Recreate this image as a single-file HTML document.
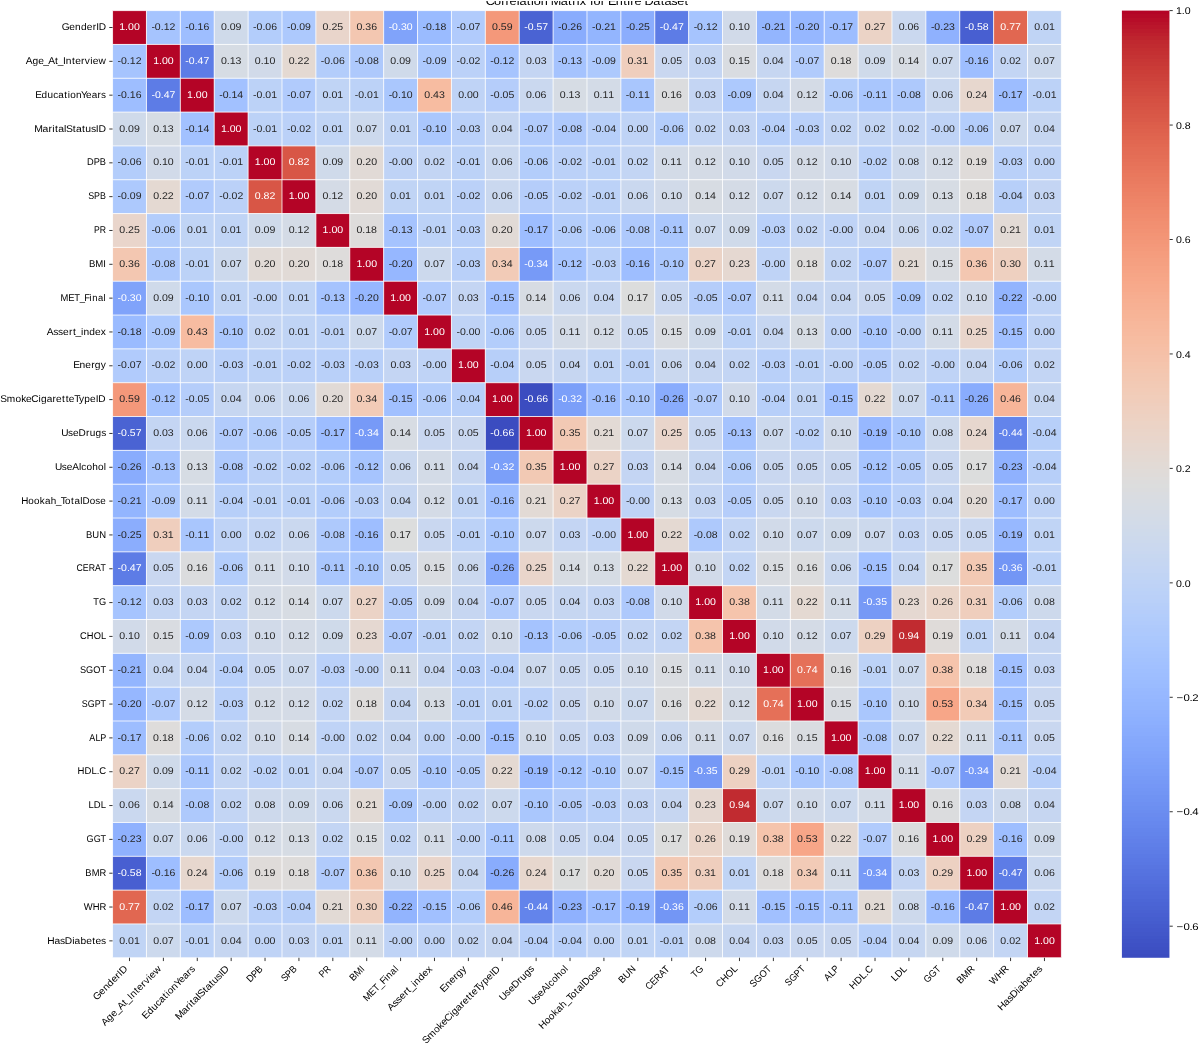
<!DOCTYPE html>
<html><head><meta charset="utf-8"><title>Correlation Matrix for Entire Dataset</title>
<style>html,body{margin:0;padding:0;background:#fff;width:1200px;height:1045px;overflow:hidden}svg{display:block;will-change:transform}</style>
</head><body>
<svg width="1200" height="1045" viewBox="0 0 1200 1045" font-family='"Liberation Sans", sans-serif' text-rendering="geometricPrecision">
<rect x="0" y="0" width="1200" height="1045" fill="#fff"/>
<text transform="translate(486.43 5.04) scale(1.0770 1)" x="-0.64 7.10 13.70 17.71 21.47 28.05 30.68 37.51 41.29 43.93 50.36 56.91 59.74 68.99 75.82 79.64 83.85 86.71 92.72 96.18 99.52 106.11 110.20 112.82 120.01 126.94 130.73 133.64 137.39 143.85 146.85 154.97 161.80 165.35 171.54 177.08 183.92" y="0" font-size="11.76" fill="#000">Correlation Matrix for Entire Dataset</text>
<rect x="0" y="0" width="1200" height="1" fill="#fff"/>
<g>
<rect x="112.55" y="10.60" width="33.89" height="33.83" fill="#b40426"/>
<rect x="146.44" y="10.60" width="33.89" height="33.83" fill="#a6c4fe"/>
<rect x="180.32" y="10.60" width="33.89" height="33.83" fill="#9ebeff"/>
<rect x="214.21" y="10.60" width="33.89" height="33.83" fill="#cfdaea"/>
<rect x="248.10" y="10.60" width="33.89" height="33.83" fill="#b3cdfb"/>
<rect x="281.99" y="10.60" width="33.89" height="33.83" fill="#adc9fd"/>
<rect x="315.88" y="10.60" width="33.89" height="33.83" fill="#e9d5cb"/>
<rect x="349.76" y="10.60" width="33.89" height="33.83" fill="#f3c7b1"/>
<rect x="383.65" y="10.60" width="33.89" height="33.83" fill="#80a3fa"/>
<rect x="417.54" y="10.60" width="33.89" height="33.83" fill="#9abbff"/>
<rect x="451.43" y="10.60" width="33.89" height="33.83" fill="#b1cbfc"/>
<rect x="485.31" y="10.60" width="33.89" height="33.83" fill="#f4987a"/>
<rect x="519.20" y="10.60" width="33.89" height="33.83" fill="#4a63d3"/>
<rect x="553.09" y="10.60" width="33.89" height="33.83" fill="#89acfd"/>
<rect x="586.98" y="10.60" width="33.89" height="33.83" fill="#93b5fe"/>
<rect x="620.86" y="10.60" width="33.89" height="33.83" fill="#8badfd"/>
<rect x="654.75" y="10.60" width="33.89" height="33.83" fill="#5d7ce6"/>
<rect x="688.64" y="10.60" width="33.89" height="33.83" fill="#a6c4fe"/>
<rect x="722.52" y="10.60" width="33.89" height="33.83" fill="#d1dae9"/>
<rect x="756.41" y="10.60" width="33.89" height="33.83" fill="#93b5fe"/>
<rect x="790.30" y="10.60" width="33.89" height="33.83" fill="#96b7ff"/>
<rect x="824.19" y="10.60" width="33.89" height="33.83" fill="#9dbdff"/>
<rect x="858.08" y="10.60" width="33.89" height="33.83" fill="#ebd3c6"/>
<rect x="891.96" y="10.60" width="33.89" height="33.83" fill="#cad8ef"/>
<rect x="925.85" y="10.60" width="33.89" height="33.83" fill="#8fb1fe"/>
<rect x="959.74" y="10.60" width="33.89" height="33.83" fill="#485fd1"/>
<rect x="993.62" y="10.60" width="33.89" height="33.83" fill="#e16751"/>
<rect x="1027.51" y="10.60" width="33.89" height="33.83" fill="#c0d4f5"/>
<rect x="112.55" y="44.43" width="33.89" height="33.83" fill="#a6c4fe"/>
<rect x="146.44" y="44.43" width="33.89" height="33.83" fill="#b40426"/>
<rect x="180.32" y="44.43" width="33.89" height="33.83" fill="#5d7ce6"/>
<rect x="214.21" y="44.43" width="33.89" height="33.83" fill="#d6dce4"/>
<rect x="248.10" y="44.43" width="33.89" height="33.83" fill="#d1dae9"/>
<rect x="281.99" y="44.43" width="33.89" height="33.83" fill="#e4d9d2"/>
<rect x="315.88" y="44.43" width="33.89" height="33.83" fill="#b3cdfb"/>
<rect x="349.76" y="44.43" width="33.89" height="33.83" fill="#aec9fc"/>
<rect x="383.65" y="44.43" width="33.89" height="33.83" fill="#cfdaea"/>
<rect x="417.54" y="44.43" width="33.89" height="33.83" fill="#adc9fd"/>
<rect x="451.43" y="44.43" width="33.89" height="33.83" fill="#bbd1f8"/>
<rect x="485.31" y="44.43" width="33.89" height="33.83" fill="#a6c4fe"/>
<rect x="519.20" y="44.43" width="33.89" height="33.83" fill="#c4d5f3"/>
<rect x="553.09" y="44.43" width="33.89" height="33.83" fill="#a5c3fe"/>
<rect x="586.98" y="44.43" width="33.89" height="33.83" fill="#adc9fd"/>
<rect x="620.86" y="44.43" width="33.89" height="33.83" fill="#efcebd"/>
<rect x="654.75" y="44.43" width="33.89" height="33.83" fill="#c9d7f0"/>
<rect x="688.64" y="44.43" width="33.89" height="33.83" fill="#c4d5f3"/>
<rect x="722.52" y="44.43" width="33.89" height="33.83" fill="#d9dce1"/>
<rect x="756.41" y="44.43" width="33.89" height="33.83" fill="#c6d6f1"/>
<rect x="790.30" y="44.43" width="33.89" height="33.83" fill="#b1cbfc"/>
<rect x="824.19" y="44.43" width="33.89" height="33.83" fill="#dedcdb"/>
<rect x="858.08" y="44.43" width="33.89" height="33.83" fill="#cfdaea"/>
<rect x="891.96" y="44.43" width="33.89" height="33.83" fill="#d7dce3"/>
<rect x="925.85" y="44.43" width="33.89" height="33.83" fill="#ccd9ed"/>
<rect x="959.74" y="44.43" width="33.89" height="33.83" fill="#9ebeff"/>
<rect x="993.62" y="44.43" width="33.89" height="33.83" fill="#c3d5f4"/>
<rect x="1027.51" y="44.43" width="33.89" height="33.83" fill="#ccd9ed"/>
<rect x="112.55" y="78.26" width="33.89" height="33.83" fill="#9ebeff"/>
<rect x="146.44" y="78.26" width="33.89" height="33.83" fill="#5d7ce6"/>
<rect x="180.32" y="78.26" width="33.89" height="33.83" fill="#b40426"/>
<rect x="214.21" y="78.26" width="33.89" height="33.83" fill="#a2c1ff"/>
<rect x="248.10" y="78.26" width="33.89" height="33.83" fill="#bcd2f7"/>
<rect x="281.99" y="78.26" width="33.89" height="33.83" fill="#b1cbfc"/>
<rect x="315.88" y="78.26" width="33.89" height="33.83" fill="#c0d4f5"/>
<rect x="349.76" y="78.26" width="33.89" height="33.83" fill="#bcd2f7"/>
<rect x="383.65" y="78.26" width="33.89" height="33.83" fill="#aac7fd"/>
<rect x="417.54" y="78.26" width="33.89" height="33.83" fill="#f7bca1"/>
<rect x="451.43" y="78.26" width="33.89" height="33.83" fill="#bfd3f6"/>
<rect x="485.31" y="78.26" width="33.89" height="33.83" fill="#b5cdfa"/>
<rect x="519.20" y="78.26" width="33.89" height="33.83" fill="#cad8ef"/>
<rect x="553.09" y="78.26" width="33.89" height="33.83" fill="#d6dce4"/>
<rect x="586.98" y="78.26" width="33.89" height="33.83" fill="#d3dbe7"/>
<rect x="620.86" y="78.26" width="33.89" height="33.83" fill="#a9c6fd"/>
<rect x="654.75" y="78.26" width="33.89" height="33.83" fill="#dbdcde"/>
<rect x="688.64" y="78.26" width="33.89" height="33.83" fill="#c4d5f3"/>
<rect x="722.52" y="78.26" width="33.89" height="33.83" fill="#adc9fd"/>
<rect x="756.41" y="78.26" width="33.89" height="33.83" fill="#c6d6f1"/>
<rect x="790.30" y="78.26" width="33.89" height="33.83" fill="#d4dbe6"/>
<rect x="824.19" y="78.26" width="33.89" height="33.83" fill="#b3cdfb"/>
<rect x="858.08" y="78.26" width="33.89" height="33.83" fill="#a9c6fd"/>
<rect x="891.96" y="78.26" width="33.89" height="33.83" fill="#aec9fc"/>
<rect x="925.85" y="78.26" width="33.89" height="33.83" fill="#cad8ef"/>
<rect x="959.74" y="78.26" width="33.89" height="33.83" fill="#e7d7ce"/>
<rect x="993.62" y="78.26" width="33.89" height="33.83" fill="#9dbdff"/>
<rect x="1027.51" y="78.26" width="33.89" height="33.83" fill="#bcd2f7"/>
<rect x="112.55" y="112.08" width="33.89" height="33.83" fill="#cfdaea"/>
<rect x="146.44" y="112.08" width="33.89" height="33.83" fill="#d6dce4"/>
<rect x="180.32" y="112.08" width="33.89" height="33.83" fill="#a2c1ff"/>
<rect x="214.21" y="112.08" width="33.89" height="33.83" fill="#b40426"/>
<rect x="248.10" y="112.08" width="33.89" height="33.83" fill="#bcd2f7"/>
<rect x="281.99" y="112.08" width="33.89" height="33.83" fill="#bbd1f8"/>
<rect x="315.88" y="112.08" width="33.89" height="33.83" fill="#c0d4f5"/>
<rect x="349.76" y="112.08" width="33.89" height="33.83" fill="#ccd9ed"/>
<rect x="383.65" y="112.08" width="33.89" height="33.83" fill="#c0d4f5"/>
<rect x="417.54" y="112.08" width="33.89" height="33.83" fill="#aac7fd"/>
<rect x="451.43" y="112.08" width="33.89" height="33.83" fill="#b9d0f9"/>
<rect x="485.31" y="112.08" width="33.89" height="33.83" fill="#c6d6f1"/>
<rect x="519.20" y="112.08" width="33.89" height="33.83" fill="#b1cbfc"/>
<rect x="553.09" y="112.08" width="33.89" height="33.83" fill="#aec9fc"/>
<rect x="586.98" y="112.08" width="33.89" height="33.83" fill="#b7cff9"/>
<rect x="620.86" y="112.08" width="33.89" height="33.83" fill="#bfd3f6"/>
<rect x="654.75" y="112.08" width="33.89" height="33.83" fill="#b3cdfb"/>
<rect x="688.64" y="112.08" width="33.89" height="33.83" fill="#c3d5f4"/>
<rect x="722.52" y="112.08" width="33.89" height="33.83" fill="#c4d5f3"/>
<rect x="756.41" y="112.08" width="33.89" height="33.83" fill="#b7cff9"/>
<rect x="790.30" y="112.08" width="33.89" height="33.83" fill="#b9d0f9"/>
<rect x="824.19" y="112.08" width="33.89" height="33.83" fill="#c3d5f4"/>
<rect x="858.08" y="112.08" width="33.89" height="33.83" fill="#c3d5f4"/>
<rect x="891.96" y="112.08" width="33.89" height="33.83" fill="#c3d5f4"/>
<rect x="925.85" y="112.08" width="33.89" height="33.83" fill="#bfd3f6"/>
<rect x="959.74" y="112.08" width="33.89" height="33.83" fill="#b3cdfb"/>
<rect x="993.62" y="112.08" width="33.89" height="33.83" fill="#ccd9ed"/>
<rect x="1027.51" y="112.08" width="33.89" height="33.83" fill="#c6d6f1"/>
<rect x="112.55" y="145.91" width="33.89" height="33.83" fill="#b3cdfb"/>
<rect x="146.44" y="145.91" width="33.89" height="33.83" fill="#d1dae9"/>
<rect x="180.32" y="145.91" width="33.89" height="33.83" fill="#bcd2f7"/>
<rect x="214.21" y="145.91" width="33.89" height="33.83" fill="#bcd2f7"/>
<rect x="248.10" y="145.91" width="33.89" height="33.83" fill="#b40426"/>
<rect x="281.99" y="145.91" width="33.89" height="33.83" fill="#d85646"/>
<rect x="315.88" y="145.91" width="33.89" height="33.83" fill="#cfdaea"/>
<rect x="349.76" y="145.91" width="33.89" height="33.83" fill="#e1dad6"/>
<rect x="383.65" y="145.91" width="33.89" height="33.83" fill="#bfd3f6"/>
<rect x="417.54" y="145.91" width="33.89" height="33.83" fill="#c3d5f4"/>
<rect x="451.43" y="145.91" width="33.89" height="33.83" fill="#bcd2f7"/>
<rect x="485.31" y="145.91" width="33.89" height="33.83" fill="#cad8ef"/>
<rect x="519.20" y="145.91" width="33.89" height="33.83" fill="#b3cdfb"/>
<rect x="553.09" y="145.91" width="33.89" height="33.83" fill="#bbd1f8"/>
<rect x="586.98" y="145.91" width="33.89" height="33.83" fill="#bcd2f7"/>
<rect x="620.86" y="145.91" width="33.89" height="33.83" fill="#c3d5f4"/>
<rect x="654.75" y="145.91" width="33.89" height="33.83" fill="#d3dbe7"/>
<rect x="688.64" y="145.91" width="33.89" height="33.83" fill="#d4dbe6"/>
<rect x="722.52" y="145.91" width="33.89" height="33.83" fill="#d1dae9"/>
<rect x="756.41" y="145.91" width="33.89" height="33.83" fill="#c9d7f0"/>
<rect x="790.30" y="145.91" width="33.89" height="33.83" fill="#d4dbe6"/>
<rect x="824.19" y="145.91" width="33.89" height="33.83" fill="#d1dae9"/>
<rect x="858.08" y="145.91" width="33.89" height="33.83" fill="#bbd1f8"/>
<rect x="891.96" y="145.91" width="33.89" height="33.83" fill="#cdd9ec"/>
<rect x="925.85" y="145.91" width="33.89" height="33.83" fill="#d4dbe6"/>
<rect x="959.74" y="145.91" width="33.89" height="33.83" fill="#dfdbd9"/>
<rect x="993.62" y="145.91" width="33.89" height="33.83" fill="#b9d0f9"/>
<rect x="1027.51" y="145.91" width="33.89" height="33.83" fill="#bfd3f6"/>
<rect x="112.55" y="179.74" width="33.89" height="33.83" fill="#adc9fd"/>
<rect x="146.44" y="179.74" width="33.89" height="33.83" fill="#e4d9d2"/>
<rect x="180.32" y="179.74" width="33.89" height="33.83" fill="#b1cbfc"/>
<rect x="214.21" y="179.74" width="33.89" height="33.83" fill="#bbd1f8"/>
<rect x="248.10" y="179.74" width="33.89" height="33.83" fill="#d85646"/>
<rect x="281.99" y="179.74" width="33.89" height="33.83" fill="#b40426"/>
<rect x="315.88" y="179.74" width="33.89" height="33.83" fill="#d4dbe6"/>
<rect x="349.76" y="179.74" width="33.89" height="33.83" fill="#e1dad6"/>
<rect x="383.65" y="179.74" width="33.89" height="33.83" fill="#c0d4f5"/>
<rect x="417.54" y="179.74" width="33.89" height="33.83" fill="#c0d4f5"/>
<rect x="451.43" y="179.74" width="33.89" height="33.83" fill="#bbd1f8"/>
<rect x="485.31" y="179.74" width="33.89" height="33.83" fill="#cad8ef"/>
<rect x="519.20" y="179.74" width="33.89" height="33.83" fill="#b5cdfa"/>
<rect x="553.09" y="179.74" width="33.89" height="33.83" fill="#bbd1f8"/>
<rect x="586.98" y="179.74" width="33.89" height="33.83" fill="#bcd2f7"/>
<rect x="620.86" y="179.74" width="33.89" height="33.83" fill="#cad8ef"/>
<rect x="654.75" y="179.74" width="33.89" height="33.83" fill="#d1dae9"/>
<rect x="688.64" y="179.74" width="33.89" height="33.83" fill="#d7dce3"/>
<rect x="722.52" y="179.74" width="33.89" height="33.83" fill="#d4dbe6"/>
<rect x="756.41" y="179.74" width="33.89" height="33.83" fill="#ccd9ed"/>
<rect x="790.30" y="179.74" width="33.89" height="33.83" fill="#d4dbe6"/>
<rect x="824.19" y="179.74" width="33.89" height="33.83" fill="#d7dce3"/>
<rect x="858.08" y="179.74" width="33.89" height="33.83" fill="#c0d4f5"/>
<rect x="891.96" y="179.74" width="33.89" height="33.83" fill="#cfdaea"/>
<rect x="925.85" y="179.74" width="33.89" height="33.83" fill="#d6dce4"/>
<rect x="959.74" y="179.74" width="33.89" height="33.83" fill="#dedcdb"/>
<rect x="993.62" y="179.74" width="33.89" height="33.83" fill="#b7cff9"/>
<rect x="1027.51" y="179.74" width="33.89" height="33.83" fill="#c4d5f3"/>
<rect x="112.55" y="213.57" width="33.89" height="33.83" fill="#e9d5cb"/>
<rect x="146.44" y="213.57" width="33.89" height="33.83" fill="#b3cdfb"/>
<rect x="180.32" y="213.57" width="33.89" height="33.83" fill="#c0d4f5"/>
<rect x="214.21" y="213.57" width="33.89" height="33.83" fill="#c0d4f5"/>
<rect x="248.10" y="213.57" width="33.89" height="33.83" fill="#cfdaea"/>
<rect x="281.99" y="213.57" width="33.89" height="33.83" fill="#d4dbe6"/>
<rect x="315.88" y="213.57" width="33.89" height="33.83" fill="#b40426"/>
<rect x="349.76" y="213.57" width="33.89" height="33.83" fill="#dedcdb"/>
<rect x="383.65" y="213.57" width="33.89" height="33.83" fill="#a5c3fe"/>
<rect x="417.54" y="213.57" width="33.89" height="33.83" fill="#bcd2f7"/>
<rect x="451.43" y="213.57" width="33.89" height="33.83" fill="#b9d0f9"/>
<rect x="485.31" y="213.57" width="33.89" height="33.83" fill="#e1dad6"/>
<rect x="519.20" y="213.57" width="33.89" height="33.83" fill="#9dbdff"/>
<rect x="553.09" y="213.57" width="33.89" height="33.83" fill="#b3cdfb"/>
<rect x="586.98" y="213.57" width="33.89" height="33.83" fill="#b3cdfb"/>
<rect x="620.86" y="213.57" width="33.89" height="33.83" fill="#aec9fc"/>
<rect x="654.75" y="213.57" width="33.89" height="33.83" fill="#a9c6fd"/>
<rect x="688.64" y="213.57" width="33.89" height="33.83" fill="#ccd9ed"/>
<rect x="722.52" y="213.57" width="33.89" height="33.83" fill="#cfdaea"/>
<rect x="756.41" y="213.57" width="33.89" height="33.83" fill="#b9d0f9"/>
<rect x="790.30" y="213.57" width="33.89" height="33.83" fill="#c3d5f4"/>
<rect x="824.19" y="213.57" width="33.89" height="33.83" fill="#bfd3f6"/>
<rect x="858.08" y="213.57" width="33.89" height="33.83" fill="#c6d6f1"/>
<rect x="891.96" y="213.57" width="33.89" height="33.83" fill="#cad8ef"/>
<rect x="925.85" y="213.57" width="33.89" height="33.83" fill="#c3d5f4"/>
<rect x="959.74" y="213.57" width="33.89" height="33.83" fill="#b1cbfc"/>
<rect x="993.62" y="213.57" width="33.89" height="33.83" fill="#e2dad5"/>
<rect x="1027.51" y="213.57" width="33.89" height="33.83" fill="#c0d4f5"/>
<rect x="112.55" y="247.39" width="33.89" height="33.83" fill="#f3c7b1"/>
<rect x="146.44" y="247.39" width="33.89" height="33.83" fill="#aec9fc"/>
<rect x="180.32" y="247.39" width="33.89" height="33.83" fill="#bcd2f7"/>
<rect x="214.21" y="247.39" width="33.89" height="33.83" fill="#ccd9ed"/>
<rect x="248.10" y="247.39" width="33.89" height="33.83" fill="#e1dad6"/>
<rect x="281.99" y="247.39" width="33.89" height="33.83" fill="#e1dad6"/>
<rect x="315.88" y="247.39" width="33.89" height="33.83" fill="#dedcdb"/>
<rect x="349.76" y="247.39" width="33.89" height="33.83" fill="#b40426"/>
<rect x="383.65" y="247.39" width="33.89" height="33.83" fill="#96b7ff"/>
<rect x="417.54" y="247.39" width="33.89" height="33.83" fill="#ccd9ed"/>
<rect x="451.43" y="247.39" width="33.89" height="33.83" fill="#b9d0f9"/>
<rect x="485.31" y="247.39" width="33.89" height="33.83" fill="#f2cbb7"/>
<rect x="519.20" y="247.39" width="33.89" height="33.83" fill="#779af7"/>
<rect x="553.09" y="247.39" width="33.89" height="33.83" fill="#a6c4fe"/>
<rect x="586.98" y="247.39" width="33.89" height="33.83" fill="#b9d0f9"/>
<rect x="620.86" y="247.39" width="33.89" height="33.83" fill="#9ebeff"/>
<rect x="654.75" y="247.39" width="33.89" height="33.83" fill="#aac7fd"/>
<rect x="688.64" y="247.39" width="33.89" height="33.83" fill="#ebd3c6"/>
<rect x="722.52" y="247.39" width="33.89" height="33.83" fill="#e5d8d1"/>
<rect x="756.41" y="247.39" width="33.89" height="33.83" fill="#bfd3f6"/>
<rect x="790.30" y="247.39" width="33.89" height="33.83" fill="#dedcdb"/>
<rect x="824.19" y="247.39" width="33.89" height="33.83" fill="#c3d5f4"/>
<rect x="858.08" y="247.39" width="33.89" height="33.83" fill="#b1cbfc"/>
<rect x="891.96" y="247.39" width="33.89" height="33.83" fill="#e2dad5"/>
<rect x="925.85" y="247.39" width="33.89" height="33.83" fill="#d9dce1"/>
<rect x="959.74" y="247.39" width="33.89" height="33.83" fill="#f3c7b1"/>
<rect x="993.62" y="247.39" width="33.89" height="33.83" fill="#eed0c0"/>
<rect x="1027.51" y="247.39" width="33.89" height="33.83" fill="#d3dbe7"/>
<rect x="112.55" y="281.22" width="33.89" height="33.83" fill="#80a3fa"/>
<rect x="146.44" y="281.22" width="33.89" height="33.83" fill="#cfdaea"/>
<rect x="180.32" y="281.22" width="33.89" height="33.83" fill="#aac7fd"/>
<rect x="214.21" y="281.22" width="33.89" height="33.83" fill="#c0d4f5"/>
<rect x="248.10" y="281.22" width="33.89" height="33.83" fill="#bfd3f6"/>
<rect x="281.99" y="281.22" width="33.89" height="33.83" fill="#c0d4f5"/>
<rect x="315.88" y="281.22" width="33.89" height="33.83" fill="#a5c3fe"/>
<rect x="349.76" y="281.22" width="33.89" height="33.83" fill="#96b7ff"/>
<rect x="383.65" y="281.22" width="33.89" height="33.83" fill="#b40426"/>
<rect x="417.54" y="281.22" width="33.89" height="33.83" fill="#b1cbfc"/>
<rect x="451.43" y="281.22" width="33.89" height="33.83" fill="#c4d5f3"/>
<rect x="485.31" y="281.22" width="33.89" height="33.83" fill="#a1c0ff"/>
<rect x="519.20" y="281.22" width="33.89" height="33.83" fill="#d7dce3"/>
<rect x="553.09" y="281.22" width="33.89" height="33.83" fill="#cad8ef"/>
<rect x="586.98" y="281.22" width="33.89" height="33.83" fill="#c6d6f1"/>
<rect x="620.86" y="281.22" width="33.89" height="33.83" fill="#dcdddd"/>
<rect x="654.75" y="281.22" width="33.89" height="33.83" fill="#c9d7f0"/>
<rect x="688.64" y="281.22" width="33.89" height="33.83" fill="#b5cdfa"/>
<rect x="722.52" y="281.22" width="33.89" height="33.83" fill="#b1cbfc"/>
<rect x="756.41" y="281.22" width="33.89" height="33.83" fill="#d3dbe7"/>
<rect x="790.30" y="281.22" width="33.89" height="33.83" fill="#c6d6f1"/>
<rect x="824.19" y="281.22" width="33.89" height="33.83" fill="#c6d6f1"/>
<rect x="858.08" y="281.22" width="33.89" height="33.83" fill="#c9d7f0"/>
<rect x="891.96" y="281.22" width="33.89" height="33.83" fill="#adc9fd"/>
<rect x="925.85" y="281.22" width="33.89" height="33.83" fill="#c3d5f4"/>
<rect x="959.74" y="281.22" width="33.89" height="33.83" fill="#d1dae9"/>
<rect x="993.62" y="281.22" width="33.89" height="33.83" fill="#92b4fe"/>
<rect x="1027.51" y="281.22" width="33.89" height="33.83" fill="#bfd3f6"/>
<rect x="112.55" y="315.05" width="33.89" height="33.83" fill="#9abbff"/>
<rect x="146.44" y="315.05" width="33.89" height="33.83" fill="#adc9fd"/>
<rect x="180.32" y="315.05" width="33.89" height="33.83" fill="#f7bca1"/>
<rect x="214.21" y="315.05" width="33.89" height="33.83" fill="#aac7fd"/>
<rect x="248.10" y="315.05" width="33.89" height="33.83" fill="#c3d5f4"/>
<rect x="281.99" y="315.05" width="33.89" height="33.83" fill="#c0d4f5"/>
<rect x="315.88" y="315.05" width="33.89" height="33.83" fill="#bcd2f7"/>
<rect x="349.76" y="315.05" width="33.89" height="33.83" fill="#ccd9ed"/>
<rect x="383.65" y="315.05" width="33.89" height="33.83" fill="#b1cbfc"/>
<rect x="417.54" y="315.05" width="33.89" height="33.83" fill="#b40426"/>
<rect x="451.43" y="315.05" width="33.89" height="33.83" fill="#bfd3f6"/>
<rect x="485.31" y="315.05" width="33.89" height="33.83" fill="#b3cdfb"/>
<rect x="519.20" y="315.05" width="33.89" height="33.83" fill="#c9d7f0"/>
<rect x="553.09" y="315.05" width="33.89" height="33.83" fill="#d3dbe7"/>
<rect x="586.98" y="315.05" width="33.89" height="33.83" fill="#d4dbe6"/>
<rect x="620.86" y="315.05" width="33.89" height="33.83" fill="#c9d7f0"/>
<rect x="654.75" y="315.05" width="33.89" height="33.83" fill="#d9dce1"/>
<rect x="688.64" y="315.05" width="33.89" height="33.83" fill="#cfdaea"/>
<rect x="722.52" y="315.05" width="33.89" height="33.83" fill="#bcd2f7"/>
<rect x="756.41" y="315.05" width="33.89" height="33.83" fill="#c6d6f1"/>
<rect x="790.30" y="315.05" width="33.89" height="33.83" fill="#d6dce4"/>
<rect x="824.19" y="315.05" width="33.89" height="33.83" fill="#bfd3f6"/>
<rect x="858.08" y="315.05" width="33.89" height="33.83" fill="#aac7fd"/>
<rect x="891.96" y="315.05" width="33.89" height="33.83" fill="#bfd3f6"/>
<rect x="925.85" y="315.05" width="33.89" height="33.83" fill="#d3dbe7"/>
<rect x="959.74" y="315.05" width="33.89" height="33.83" fill="#e9d5cb"/>
<rect x="993.62" y="315.05" width="33.89" height="33.83" fill="#a1c0ff"/>
<rect x="1027.51" y="315.05" width="33.89" height="33.83" fill="#bfd3f6"/>
<rect x="112.55" y="348.88" width="33.89" height="33.83" fill="#b1cbfc"/>
<rect x="146.44" y="348.88" width="33.89" height="33.83" fill="#bbd1f8"/>
<rect x="180.32" y="348.88" width="33.89" height="33.83" fill="#bfd3f6"/>
<rect x="214.21" y="348.88" width="33.89" height="33.83" fill="#b9d0f9"/>
<rect x="248.10" y="348.88" width="33.89" height="33.83" fill="#bcd2f7"/>
<rect x="281.99" y="348.88" width="33.89" height="33.83" fill="#bbd1f8"/>
<rect x="315.88" y="348.88" width="33.89" height="33.83" fill="#b9d0f9"/>
<rect x="349.76" y="348.88" width="33.89" height="33.83" fill="#b9d0f9"/>
<rect x="383.65" y="348.88" width="33.89" height="33.83" fill="#c4d5f3"/>
<rect x="417.54" y="348.88" width="33.89" height="33.83" fill="#bfd3f6"/>
<rect x="451.43" y="348.88" width="33.89" height="33.83" fill="#b40426"/>
<rect x="485.31" y="348.88" width="33.89" height="33.83" fill="#b7cff9"/>
<rect x="519.20" y="348.88" width="33.89" height="33.83" fill="#c9d7f0"/>
<rect x="553.09" y="348.88" width="33.89" height="33.83" fill="#c6d6f1"/>
<rect x="586.98" y="348.88" width="33.89" height="33.83" fill="#c0d4f5"/>
<rect x="620.86" y="348.88" width="33.89" height="33.83" fill="#bcd2f7"/>
<rect x="654.75" y="348.88" width="33.89" height="33.83" fill="#cad8ef"/>
<rect x="688.64" y="348.88" width="33.89" height="33.83" fill="#c6d6f1"/>
<rect x="722.52" y="348.88" width="33.89" height="33.83" fill="#c3d5f4"/>
<rect x="756.41" y="348.88" width="33.89" height="33.83" fill="#b9d0f9"/>
<rect x="790.30" y="348.88" width="33.89" height="33.83" fill="#bcd2f7"/>
<rect x="824.19" y="348.88" width="33.89" height="33.83" fill="#bfd3f6"/>
<rect x="858.08" y="348.88" width="33.89" height="33.83" fill="#b5cdfa"/>
<rect x="891.96" y="348.88" width="33.89" height="33.83" fill="#c3d5f4"/>
<rect x="925.85" y="348.88" width="33.89" height="33.83" fill="#bfd3f6"/>
<rect x="959.74" y="348.88" width="33.89" height="33.83" fill="#c6d6f1"/>
<rect x="993.62" y="348.88" width="33.89" height="33.83" fill="#b3cdfb"/>
<rect x="1027.51" y="348.88" width="33.89" height="33.83" fill="#c3d5f4"/>
<rect x="112.55" y="382.71" width="33.89" height="33.83" fill="#f4987a"/>
<rect x="146.44" y="382.71" width="33.89" height="33.83" fill="#a6c4fe"/>
<rect x="180.32" y="382.71" width="33.89" height="33.83" fill="#b5cdfa"/>
<rect x="214.21" y="382.71" width="33.89" height="33.83" fill="#c6d6f1"/>
<rect x="248.10" y="382.71" width="33.89" height="33.83" fill="#cad8ef"/>
<rect x="281.99" y="382.71" width="33.89" height="33.83" fill="#cad8ef"/>
<rect x="315.88" y="382.71" width="33.89" height="33.83" fill="#e1dad6"/>
<rect x="349.76" y="382.71" width="33.89" height="33.83" fill="#f2cbb7"/>
<rect x="383.65" y="382.71" width="33.89" height="33.83" fill="#a1c0ff"/>
<rect x="417.54" y="382.71" width="33.89" height="33.83" fill="#b3cdfb"/>
<rect x="451.43" y="382.71" width="33.89" height="33.83" fill="#b7cff9"/>
<rect x="485.31" y="382.71" width="33.89" height="33.83" fill="#b40426"/>
<rect x="519.20" y="382.71" width="33.89" height="33.83" fill="#3b4cc0"/>
<rect x="553.09" y="382.71" width="33.89" height="33.83" fill="#7b9ff9"/>
<rect x="586.98" y="382.71" width="33.89" height="33.83" fill="#9ebeff"/>
<rect x="620.86" y="382.71" width="33.89" height="33.83" fill="#aac7fd"/>
<rect x="654.75" y="382.71" width="33.89" height="33.83" fill="#89acfd"/>
<rect x="688.64" y="382.71" width="33.89" height="33.83" fill="#b1cbfc"/>
<rect x="722.52" y="382.71" width="33.89" height="33.83" fill="#d1dae9"/>
<rect x="756.41" y="382.71" width="33.89" height="33.83" fill="#b7cff9"/>
<rect x="790.30" y="382.71" width="33.89" height="33.83" fill="#c0d4f5"/>
<rect x="824.19" y="382.71" width="33.89" height="33.83" fill="#a1c0ff"/>
<rect x="858.08" y="382.71" width="33.89" height="33.83" fill="#e4d9d2"/>
<rect x="891.96" y="382.71" width="33.89" height="33.83" fill="#ccd9ed"/>
<rect x="925.85" y="382.71" width="33.89" height="33.83" fill="#a9c6fd"/>
<rect x="959.74" y="382.71" width="33.89" height="33.83" fill="#89acfd"/>
<rect x="993.62" y="382.71" width="33.89" height="33.83" fill="#f7b599"/>
<rect x="1027.51" y="382.71" width="33.89" height="33.83" fill="#c6d6f1"/>
<rect x="112.55" y="416.53" width="33.89" height="33.83" fill="#4a63d3"/>
<rect x="146.44" y="416.53" width="33.89" height="33.83" fill="#c4d5f3"/>
<rect x="180.32" y="416.53" width="33.89" height="33.83" fill="#cad8ef"/>
<rect x="214.21" y="416.53" width="33.89" height="33.83" fill="#b1cbfc"/>
<rect x="248.10" y="416.53" width="33.89" height="33.83" fill="#b3cdfb"/>
<rect x="281.99" y="416.53" width="33.89" height="33.83" fill="#b5cdfa"/>
<rect x="315.88" y="416.53" width="33.89" height="33.83" fill="#9dbdff"/>
<rect x="349.76" y="416.53" width="33.89" height="33.83" fill="#779af7"/>
<rect x="383.65" y="416.53" width="33.89" height="33.83" fill="#d7dce3"/>
<rect x="417.54" y="416.53" width="33.89" height="33.83" fill="#c9d7f0"/>
<rect x="451.43" y="416.53" width="33.89" height="33.83" fill="#c9d7f0"/>
<rect x="485.31" y="416.53" width="33.89" height="33.83" fill="#3b4cc0"/>
<rect x="519.20" y="416.53" width="33.89" height="33.83" fill="#b40426"/>
<rect x="553.09" y="416.53" width="33.89" height="33.83" fill="#f2c9b4"/>
<rect x="586.98" y="416.53" width="33.89" height="33.83" fill="#e2dad5"/>
<rect x="620.86" y="416.53" width="33.89" height="33.83" fill="#ccd9ed"/>
<rect x="654.75" y="416.53" width="33.89" height="33.83" fill="#e9d5cb"/>
<rect x="688.64" y="416.53" width="33.89" height="33.83" fill="#c9d7f0"/>
<rect x="722.52" y="416.53" width="33.89" height="33.83" fill="#a5c3fe"/>
<rect x="756.41" y="416.53" width="33.89" height="33.83" fill="#ccd9ed"/>
<rect x="790.30" y="416.53" width="33.89" height="33.83" fill="#bbd1f8"/>
<rect x="824.19" y="416.53" width="33.89" height="33.83" fill="#d1dae9"/>
<rect x="858.08" y="416.53" width="33.89" height="33.83" fill="#97b8ff"/>
<rect x="891.96" y="416.53" width="33.89" height="33.83" fill="#aac7fd"/>
<rect x="925.85" y="416.53" width="33.89" height="33.83" fill="#cdd9ec"/>
<rect x="959.74" y="416.53" width="33.89" height="33.83" fill="#e7d7ce"/>
<rect x="993.62" y="416.53" width="33.89" height="33.83" fill="#6384eb"/>
<rect x="1027.51" y="416.53" width="33.89" height="33.83" fill="#b7cff9"/>
<rect x="112.55" y="450.36" width="33.89" height="33.83" fill="#89acfd"/>
<rect x="146.44" y="450.36" width="33.89" height="33.83" fill="#a5c3fe"/>
<rect x="180.32" y="450.36" width="33.89" height="33.83" fill="#d6dce4"/>
<rect x="214.21" y="450.36" width="33.89" height="33.83" fill="#aec9fc"/>
<rect x="248.10" y="450.36" width="33.89" height="33.83" fill="#bbd1f8"/>
<rect x="281.99" y="450.36" width="33.89" height="33.83" fill="#bbd1f8"/>
<rect x="315.88" y="450.36" width="33.89" height="33.83" fill="#b3cdfb"/>
<rect x="349.76" y="450.36" width="33.89" height="33.83" fill="#a6c4fe"/>
<rect x="383.65" y="450.36" width="33.89" height="33.83" fill="#cad8ef"/>
<rect x="417.54" y="450.36" width="33.89" height="33.83" fill="#d3dbe7"/>
<rect x="451.43" y="450.36" width="33.89" height="33.83" fill="#c6d6f1"/>
<rect x="485.31" y="450.36" width="33.89" height="33.83" fill="#7b9ff9"/>
<rect x="519.20" y="450.36" width="33.89" height="33.83" fill="#f2c9b4"/>
<rect x="553.09" y="450.36" width="33.89" height="33.83" fill="#b40426"/>
<rect x="586.98" y="450.36" width="33.89" height="33.83" fill="#ebd3c6"/>
<rect x="620.86" y="450.36" width="33.89" height="33.83" fill="#c4d5f3"/>
<rect x="654.75" y="450.36" width="33.89" height="33.83" fill="#d7dce3"/>
<rect x="688.64" y="450.36" width="33.89" height="33.83" fill="#c6d6f1"/>
<rect x="722.52" y="450.36" width="33.89" height="33.83" fill="#b3cdfb"/>
<rect x="756.41" y="450.36" width="33.89" height="33.83" fill="#c9d7f0"/>
<rect x="790.30" y="450.36" width="33.89" height="33.83" fill="#c9d7f0"/>
<rect x="824.19" y="450.36" width="33.89" height="33.83" fill="#c9d7f0"/>
<rect x="858.08" y="450.36" width="33.89" height="33.83" fill="#a6c4fe"/>
<rect x="891.96" y="450.36" width="33.89" height="33.83" fill="#b5cdfa"/>
<rect x="925.85" y="450.36" width="33.89" height="33.83" fill="#c9d7f0"/>
<rect x="959.74" y="450.36" width="33.89" height="33.83" fill="#dcdddd"/>
<rect x="993.62" y="450.36" width="33.89" height="33.83" fill="#8fb1fe"/>
<rect x="1027.51" y="450.36" width="33.89" height="33.83" fill="#b7cff9"/>
<rect x="112.55" y="484.19" width="33.89" height="33.83" fill="#93b5fe"/>
<rect x="146.44" y="484.19" width="33.89" height="33.83" fill="#adc9fd"/>
<rect x="180.32" y="484.19" width="33.89" height="33.83" fill="#d3dbe7"/>
<rect x="214.21" y="484.19" width="33.89" height="33.83" fill="#b7cff9"/>
<rect x="248.10" y="484.19" width="33.89" height="33.83" fill="#bcd2f7"/>
<rect x="281.99" y="484.19" width="33.89" height="33.83" fill="#bcd2f7"/>
<rect x="315.88" y="484.19" width="33.89" height="33.83" fill="#b3cdfb"/>
<rect x="349.76" y="484.19" width="33.89" height="33.83" fill="#b9d0f9"/>
<rect x="383.65" y="484.19" width="33.89" height="33.83" fill="#c6d6f1"/>
<rect x="417.54" y="484.19" width="33.89" height="33.83" fill="#d4dbe6"/>
<rect x="451.43" y="484.19" width="33.89" height="33.83" fill="#c0d4f5"/>
<rect x="485.31" y="484.19" width="33.89" height="33.83" fill="#9ebeff"/>
<rect x="519.20" y="484.19" width="33.89" height="33.83" fill="#e2dad5"/>
<rect x="553.09" y="484.19" width="33.89" height="33.83" fill="#ebd3c6"/>
<rect x="586.98" y="484.19" width="33.89" height="33.83" fill="#b40426"/>
<rect x="620.86" y="484.19" width="33.89" height="33.83" fill="#bfd3f6"/>
<rect x="654.75" y="484.19" width="33.89" height="33.83" fill="#d6dce4"/>
<rect x="688.64" y="484.19" width="33.89" height="33.83" fill="#c4d5f3"/>
<rect x="722.52" y="484.19" width="33.89" height="33.83" fill="#b5cdfa"/>
<rect x="756.41" y="484.19" width="33.89" height="33.83" fill="#c9d7f0"/>
<rect x="790.30" y="484.19" width="33.89" height="33.83" fill="#d1dae9"/>
<rect x="824.19" y="484.19" width="33.89" height="33.83" fill="#c4d5f3"/>
<rect x="858.08" y="484.19" width="33.89" height="33.83" fill="#aac7fd"/>
<rect x="891.96" y="484.19" width="33.89" height="33.83" fill="#b9d0f9"/>
<rect x="925.85" y="484.19" width="33.89" height="33.83" fill="#c6d6f1"/>
<rect x="959.74" y="484.19" width="33.89" height="33.83" fill="#e1dad6"/>
<rect x="993.62" y="484.19" width="33.89" height="33.83" fill="#9dbdff"/>
<rect x="1027.51" y="484.19" width="33.89" height="33.83" fill="#bfd3f6"/>
<rect x="112.55" y="518.02" width="33.89" height="33.83" fill="#8badfd"/>
<rect x="146.44" y="518.02" width="33.89" height="33.83" fill="#efcebd"/>
<rect x="180.32" y="518.02" width="33.89" height="33.83" fill="#a9c6fd"/>
<rect x="214.21" y="518.02" width="33.89" height="33.83" fill="#bfd3f6"/>
<rect x="248.10" y="518.02" width="33.89" height="33.83" fill="#c3d5f4"/>
<rect x="281.99" y="518.02" width="33.89" height="33.83" fill="#cad8ef"/>
<rect x="315.88" y="518.02" width="33.89" height="33.83" fill="#aec9fc"/>
<rect x="349.76" y="518.02" width="33.89" height="33.83" fill="#9ebeff"/>
<rect x="383.65" y="518.02" width="33.89" height="33.83" fill="#dcdddd"/>
<rect x="417.54" y="518.02" width="33.89" height="33.83" fill="#c9d7f0"/>
<rect x="451.43" y="518.02" width="33.89" height="33.83" fill="#bcd2f7"/>
<rect x="485.31" y="518.02" width="33.89" height="33.83" fill="#aac7fd"/>
<rect x="519.20" y="518.02" width="33.89" height="33.83" fill="#ccd9ed"/>
<rect x="553.09" y="518.02" width="33.89" height="33.83" fill="#c4d5f3"/>
<rect x="586.98" y="518.02" width="33.89" height="33.83" fill="#bfd3f6"/>
<rect x="620.86" y="518.02" width="33.89" height="33.83" fill="#b40426"/>
<rect x="654.75" y="518.02" width="33.89" height="33.83" fill="#e4d9d2"/>
<rect x="688.64" y="518.02" width="33.89" height="33.83" fill="#aec9fc"/>
<rect x="722.52" y="518.02" width="33.89" height="33.83" fill="#c3d5f4"/>
<rect x="756.41" y="518.02" width="33.89" height="33.83" fill="#d1dae9"/>
<rect x="790.30" y="518.02" width="33.89" height="33.83" fill="#ccd9ed"/>
<rect x="824.19" y="518.02" width="33.89" height="33.83" fill="#cfdaea"/>
<rect x="858.08" y="518.02" width="33.89" height="33.83" fill="#ccd9ed"/>
<rect x="891.96" y="518.02" width="33.89" height="33.83" fill="#c4d5f3"/>
<rect x="925.85" y="518.02" width="33.89" height="33.83" fill="#c9d7f0"/>
<rect x="959.74" y="518.02" width="33.89" height="33.83" fill="#c9d7f0"/>
<rect x="993.62" y="518.02" width="33.89" height="33.83" fill="#97b8ff"/>
<rect x="1027.51" y="518.02" width="33.89" height="33.83" fill="#c0d4f5"/>
<rect x="112.55" y="551.85" width="33.89" height="33.83" fill="#5d7ce6"/>
<rect x="146.44" y="551.85" width="33.89" height="33.83" fill="#c9d7f0"/>
<rect x="180.32" y="551.85" width="33.89" height="33.83" fill="#dbdcde"/>
<rect x="214.21" y="551.85" width="33.89" height="33.83" fill="#b3cdfb"/>
<rect x="248.10" y="551.85" width="33.89" height="33.83" fill="#d3dbe7"/>
<rect x="281.99" y="551.85" width="33.89" height="33.83" fill="#d1dae9"/>
<rect x="315.88" y="551.85" width="33.89" height="33.83" fill="#a9c6fd"/>
<rect x="349.76" y="551.85" width="33.89" height="33.83" fill="#aac7fd"/>
<rect x="383.65" y="551.85" width="33.89" height="33.83" fill="#c9d7f0"/>
<rect x="417.54" y="551.85" width="33.89" height="33.83" fill="#d9dce1"/>
<rect x="451.43" y="551.85" width="33.89" height="33.83" fill="#cad8ef"/>
<rect x="485.31" y="551.85" width="33.89" height="33.83" fill="#89acfd"/>
<rect x="519.20" y="551.85" width="33.89" height="33.83" fill="#e9d5cb"/>
<rect x="553.09" y="551.85" width="33.89" height="33.83" fill="#d7dce3"/>
<rect x="586.98" y="551.85" width="33.89" height="33.83" fill="#d6dce4"/>
<rect x="620.86" y="551.85" width="33.89" height="33.83" fill="#e4d9d2"/>
<rect x="654.75" y="551.85" width="33.89" height="33.83" fill="#b40426"/>
<rect x="688.64" y="551.85" width="33.89" height="33.83" fill="#d1dae9"/>
<rect x="722.52" y="551.85" width="33.89" height="33.83" fill="#c3d5f4"/>
<rect x="756.41" y="551.85" width="33.89" height="33.83" fill="#d9dce1"/>
<rect x="790.30" y="551.85" width="33.89" height="33.83" fill="#dbdcde"/>
<rect x="824.19" y="551.85" width="33.89" height="33.83" fill="#cad8ef"/>
<rect x="858.08" y="551.85" width="33.89" height="33.83" fill="#a1c0ff"/>
<rect x="891.96" y="551.85" width="33.89" height="33.83" fill="#c6d6f1"/>
<rect x="925.85" y="551.85" width="33.89" height="33.83" fill="#dcdddd"/>
<rect x="959.74" y="551.85" width="33.89" height="33.83" fill="#f2c9b4"/>
<rect x="993.62" y="551.85" width="33.89" height="33.83" fill="#7396f5"/>
<rect x="1027.51" y="551.85" width="33.89" height="33.83" fill="#bcd2f7"/>
<rect x="112.55" y="585.67" width="33.89" height="33.83" fill="#a6c4fe"/>
<rect x="146.44" y="585.67" width="33.89" height="33.83" fill="#c4d5f3"/>
<rect x="180.32" y="585.67" width="33.89" height="33.83" fill="#c4d5f3"/>
<rect x="214.21" y="585.67" width="33.89" height="33.83" fill="#c3d5f4"/>
<rect x="248.10" y="585.67" width="33.89" height="33.83" fill="#d4dbe6"/>
<rect x="281.99" y="585.67" width="33.89" height="33.83" fill="#d7dce3"/>
<rect x="315.88" y="585.67" width="33.89" height="33.83" fill="#ccd9ed"/>
<rect x="349.76" y="585.67" width="33.89" height="33.83" fill="#ebd3c6"/>
<rect x="383.65" y="585.67" width="33.89" height="33.83" fill="#b5cdfa"/>
<rect x="417.54" y="585.67" width="33.89" height="33.83" fill="#cfdaea"/>
<rect x="451.43" y="585.67" width="33.89" height="33.83" fill="#c6d6f1"/>
<rect x="485.31" y="585.67" width="33.89" height="33.83" fill="#b1cbfc"/>
<rect x="519.20" y="585.67" width="33.89" height="33.83" fill="#c9d7f0"/>
<rect x="553.09" y="585.67" width="33.89" height="33.83" fill="#c6d6f1"/>
<rect x="586.98" y="585.67" width="33.89" height="33.83" fill="#c4d5f3"/>
<rect x="620.86" y="585.67" width="33.89" height="33.83" fill="#aec9fc"/>
<rect x="654.75" y="585.67" width="33.89" height="33.83" fill="#d1dae9"/>
<rect x="688.64" y="585.67" width="33.89" height="33.83" fill="#b40426"/>
<rect x="722.52" y="585.67" width="33.89" height="33.83" fill="#f5c4ac"/>
<rect x="756.41" y="585.67" width="33.89" height="33.83" fill="#d3dbe7"/>
<rect x="790.30" y="585.67" width="33.89" height="33.83" fill="#e4d9d2"/>
<rect x="824.19" y="585.67" width="33.89" height="33.83" fill="#d3dbe7"/>
<rect x="858.08" y="585.67" width="33.89" height="33.83" fill="#7699f6"/>
<rect x="891.96" y="585.67" width="33.89" height="33.83" fill="#e5d8d1"/>
<rect x="925.85" y="585.67" width="33.89" height="33.83" fill="#ead5c9"/>
<rect x="959.74" y="585.67" width="33.89" height="33.83" fill="#efcebd"/>
<rect x="993.62" y="585.67" width="33.89" height="33.83" fill="#b3cdfb"/>
<rect x="1027.51" y="585.67" width="33.89" height="33.83" fill="#cdd9ec"/>
<rect x="112.55" y="619.50" width="33.89" height="33.83" fill="#d1dae9"/>
<rect x="146.44" y="619.50" width="33.89" height="33.83" fill="#d9dce1"/>
<rect x="180.32" y="619.50" width="33.89" height="33.83" fill="#adc9fd"/>
<rect x="214.21" y="619.50" width="33.89" height="33.83" fill="#c4d5f3"/>
<rect x="248.10" y="619.50" width="33.89" height="33.83" fill="#d1dae9"/>
<rect x="281.99" y="619.50" width="33.89" height="33.83" fill="#d4dbe6"/>
<rect x="315.88" y="619.50" width="33.89" height="33.83" fill="#cfdaea"/>
<rect x="349.76" y="619.50" width="33.89" height="33.83" fill="#e5d8d1"/>
<rect x="383.65" y="619.50" width="33.89" height="33.83" fill="#b1cbfc"/>
<rect x="417.54" y="619.50" width="33.89" height="33.83" fill="#bcd2f7"/>
<rect x="451.43" y="619.50" width="33.89" height="33.83" fill="#c3d5f4"/>
<rect x="485.31" y="619.50" width="33.89" height="33.83" fill="#d1dae9"/>
<rect x="519.20" y="619.50" width="33.89" height="33.83" fill="#a5c3fe"/>
<rect x="553.09" y="619.50" width="33.89" height="33.83" fill="#b3cdfb"/>
<rect x="586.98" y="619.50" width="33.89" height="33.83" fill="#b5cdfa"/>
<rect x="620.86" y="619.50" width="33.89" height="33.83" fill="#c3d5f4"/>
<rect x="654.75" y="619.50" width="33.89" height="33.83" fill="#c3d5f4"/>
<rect x="688.64" y="619.50" width="33.89" height="33.83" fill="#f5c4ac"/>
<rect x="722.52" y="619.50" width="33.89" height="33.83" fill="#b40426"/>
<rect x="756.41" y="619.50" width="33.89" height="33.83" fill="#d1dae9"/>
<rect x="790.30" y="619.50" width="33.89" height="33.83" fill="#d4dbe6"/>
<rect x="824.19" y="619.50" width="33.89" height="33.83" fill="#ccd9ed"/>
<rect x="858.08" y="619.50" width="33.89" height="33.83" fill="#edd1c2"/>
<rect x="891.96" y="619.50" width="33.89" height="33.83" fill="#c12b30"/>
<rect x="925.85" y="619.50" width="33.89" height="33.83" fill="#dfdbd9"/>
<rect x="959.74" y="619.50" width="33.89" height="33.83" fill="#c0d4f5"/>
<rect x="993.62" y="619.50" width="33.89" height="33.83" fill="#d3dbe7"/>
<rect x="1027.51" y="619.50" width="33.89" height="33.83" fill="#c6d6f1"/>
<rect x="112.55" y="653.33" width="33.89" height="33.83" fill="#93b5fe"/>
<rect x="146.44" y="653.33" width="33.89" height="33.83" fill="#c6d6f1"/>
<rect x="180.32" y="653.33" width="33.89" height="33.83" fill="#c6d6f1"/>
<rect x="214.21" y="653.33" width="33.89" height="33.83" fill="#b7cff9"/>
<rect x="248.10" y="653.33" width="33.89" height="33.83" fill="#c9d7f0"/>
<rect x="281.99" y="653.33" width="33.89" height="33.83" fill="#ccd9ed"/>
<rect x="315.88" y="653.33" width="33.89" height="33.83" fill="#b9d0f9"/>
<rect x="349.76" y="653.33" width="33.89" height="33.83" fill="#bfd3f6"/>
<rect x="383.65" y="653.33" width="33.89" height="33.83" fill="#d3dbe7"/>
<rect x="417.54" y="653.33" width="33.89" height="33.83" fill="#c6d6f1"/>
<rect x="451.43" y="653.33" width="33.89" height="33.83" fill="#b9d0f9"/>
<rect x="485.31" y="653.33" width="33.89" height="33.83" fill="#b7cff9"/>
<rect x="519.20" y="653.33" width="33.89" height="33.83" fill="#ccd9ed"/>
<rect x="553.09" y="653.33" width="33.89" height="33.83" fill="#c9d7f0"/>
<rect x="586.98" y="653.33" width="33.89" height="33.83" fill="#c9d7f0"/>
<rect x="620.86" y="653.33" width="33.89" height="33.83" fill="#d1dae9"/>
<rect x="654.75" y="653.33" width="33.89" height="33.83" fill="#d9dce1"/>
<rect x="688.64" y="653.33" width="33.89" height="33.83" fill="#d3dbe7"/>
<rect x="722.52" y="653.33" width="33.89" height="33.83" fill="#d1dae9"/>
<rect x="756.41" y="653.33" width="33.89" height="33.83" fill="#b40426"/>
<rect x="790.30" y="653.33" width="33.89" height="33.83" fill="#e57058"/>
<rect x="824.19" y="653.33" width="33.89" height="33.83" fill="#dbdcde"/>
<rect x="858.08" y="653.33" width="33.89" height="33.83" fill="#bcd2f7"/>
<rect x="891.96" y="653.33" width="33.89" height="33.83" fill="#ccd9ed"/>
<rect x="925.85" y="653.33" width="33.89" height="33.83" fill="#f5c4ac"/>
<rect x="959.74" y="653.33" width="33.89" height="33.83" fill="#dedcdb"/>
<rect x="993.62" y="653.33" width="33.89" height="33.83" fill="#a1c0ff"/>
<rect x="1027.51" y="653.33" width="33.89" height="33.83" fill="#c4d5f3"/>
<rect x="112.55" y="687.16" width="33.89" height="33.83" fill="#96b7ff"/>
<rect x="146.44" y="687.16" width="33.89" height="33.83" fill="#b1cbfc"/>
<rect x="180.32" y="687.16" width="33.89" height="33.83" fill="#d4dbe6"/>
<rect x="214.21" y="687.16" width="33.89" height="33.83" fill="#b9d0f9"/>
<rect x="248.10" y="687.16" width="33.89" height="33.83" fill="#d4dbe6"/>
<rect x="281.99" y="687.16" width="33.89" height="33.83" fill="#d4dbe6"/>
<rect x="315.88" y="687.16" width="33.89" height="33.83" fill="#c3d5f4"/>
<rect x="349.76" y="687.16" width="33.89" height="33.83" fill="#dedcdb"/>
<rect x="383.65" y="687.16" width="33.89" height="33.83" fill="#c6d6f1"/>
<rect x="417.54" y="687.16" width="33.89" height="33.83" fill="#d6dce4"/>
<rect x="451.43" y="687.16" width="33.89" height="33.83" fill="#bcd2f7"/>
<rect x="485.31" y="687.16" width="33.89" height="33.83" fill="#c0d4f5"/>
<rect x="519.20" y="687.16" width="33.89" height="33.83" fill="#bbd1f8"/>
<rect x="553.09" y="687.16" width="33.89" height="33.83" fill="#c9d7f0"/>
<rect x="586.98" y="687.16" width="33.89" height="33.83" fill="#d1dae9"/>
<rect x="620.86" y="687.16" width="33.89" height="33.83" fill="#ccd9ed"/>
<rect x="654.75" y="687.16" width="33.89" height="33.83" fill="#dbdcde"/>
<rect x="688.64" y="687.16" width="33.89" height="33.83" fill="#e4d9d2"/>
<rect x="722.52" y="687.16" width="33.89" height="33.83" fill="#d4dbe6"/>
<rect x="756.41" y="687.16" width="33.89" height="33.83" fill="#e57058"/>
<rect x="790.30" y="687.16" width="33.89" height="33.83" fill="#b40426"/>
<rect x="824.19" y="687.16" width="33.89" height="33.83" fill="#d9dce1"/>
<rect x="858.08" y="687.16" width="33.89" height="33.83" fill="#aac7fd"/>
<rect x="891.96" y="687.16" width="33.89" height="33.83" fill="#d1dae9"/>
<rect x="925.85" y="687.16" width="33.89" height="33.83" fill="#f7a688"/>
<rect x="959.74" y="687.16" width="33.89" height="33.83" fill="#f2cbb7"/>
<rect x="993.62" y="687.16" width="33.89" height="33.83" fill="#a1c0ff"/>
<rect x="1027.51" y="687.16" width="33.89" height="33.83" fill="#c9d7f0"/>
<rect x="112.55" y="720.99" width="33.89" height="33.83" fill="#9dbdff"/>
<rect x="146.44" y="720.99" width="33.89" height="33.83" fill="#dedcdb"/>
<rect x="180.32" y="720.99" width="33.89" height="33.83" fill="#b3cdfb"/>
<rect x="214.21" y="720.99" width="33.89" height="33.83" fill="#c3d5f4"/>
<rect x="248.10" y="720.99" width="33.89" height="33.83" fill="#d1dae9"/>
<rect x="281.99" y="720.99" width="33.89" height="33.83" fill="#d7dce3"/>
<rect x="315.88" y="720.99" width="33.89" height="33.83" fill="#bfd3f6"/>
<rect x="349.76" y="720.99" width="33.89" height="33.83" fill="#c3d5f4"/>
<rect x="383.65" y="720.99" width="33.89" height="33.83" fill="#c6d6f1"/>
<rect x="417.54" y="720.99" width="33.89" height="33.83" fill="#bfd3f6"/>
<rect x="451.43" y="720.99" width="33.89" height="33.83" fill="#bfd3f6"/>
<rect x="485.31" y="720.99" width="33.89" height="33.83" fill="#a1c0ff"/>
<rect x="519.20" y="720.99" width="33.89" height="33.83" fill="#d1dae9"/>
<rect x="553.09" y="720.99" width="33.89" height="33.83" fill="#c9d7f0"/>
<rect x="586.98" y="720.99" width="33.89" height="33.83" fill="#c4d5f3"/>
<rect x="620.86" y="720.99" width="33.89" height="33.83" fill="#cfdaea"/>
<rect x="654.75" y="720.99" width="33.89" height="33.83" fill="#cad8ef"/>
<rect x="688.64" y="720.99" width="33.89" height="33.83" fill="#d3dbe7"/>
<rect x="722.52" y="720.99" width="33.89" height="33.83" fill="#ccd9ed"/>
<rect x="756.41" y="720.99" width="33.89" height="33.83" fill="#dbdcde"/>
<rect x="790.30" y="720.99" width="33.89" height="33.83" fill="#d9dce1"/>
<rect x="824.19" y="720.99" width="33.89" height="33.83" fill="#b40426"/>
<rect x="858.08" y="720.99" width="33.89" height="33.83" fill="#aec9fc"/>
<rect x="891.96" y="720.99" width="33.89" height="33.83" fill="#ccd9ed"/>
<rect x="925.85" y="720.99" width="33.89" height="33.83" fill="#e4d9d2"/>
<rect x="959.74" y="720.99" width="33.89" height="33.83" fill="#d3dbe7"/>
<rect x="993.62" y="720.99" width="33.89" height="33.83" fill="#a9c6fd"/>
<rect x="1027.51" y="720.99" width="33.89" height="33.83" fill="#c9d7f0"/>
<rect x="112.55" y="754.81" width="33.89" height="33.83" fill="#ebd3c6"/>
<rect x="146.44" y="754.81" width="33.89" height="33.83" fill="#cfdaea"/>
<rect x="180.32" y="754.81" width="33.89" height="33.83" fill="#a9c6fd"/>
<rect x="214.21" y="754.81" width="33.89" height="33.83" fill="#c3d5f4"/>
<rect x="248.10" y="754.81" width="33.89" height="33.83" fill="#bbd1f8"/>
<rect x="281.99" y="754.81" width="33.89" height="33.83" fill="#c0d4f5"/>
<rect x="315.88" y="754.81" width="33.89" height="33.83" fill="#c6d6f1"/>
<rect x="349.76" y="754.81" width="33.89" height="33.83" fill="#b1cbfc"/>
<rect x="383.65" y="754.81" width="33.89" height="33.83" fill="#c9d7f0"/>
<rect x="417.54" y="754.81" width="33.89" height="33.83" fill="#aac7fd"/>
<rect x="451.43" y="754.81" width="33.89" height="33.83" fill="#b5cdfa"/>
<rect x="485.31" y="754.81" width="33.89" height="33.83" fill="#e4d9d2"/>
<rect x="519.20" y="754.81" width="33.89" height="33.83" fill="#97b8ff"/>
<rect x="553.09" y="754.81" width="33.89" height="33.83" fill="#a6c4fe"/>
<rect x="586.98" y="754.81" width="33.89" height="33.83" fill="#aac7fd"/>
<rect x="620.86" y="754.81" width="33.89" height="33.83" fill="#ccd9ed"/>
<rect x="654.75" y="754.81" width="33.89" height="33.83" fill="#a1c0ff"/>
<rect x="688.64" y="754.81" width="33.89" height="33.83" fill="#7699f6"/>
<rect x="722.52" y="754.81" width="33.89" height="33.83" fill="#edd1c2"/>
<rect x="756.41" y="754.81" width="33.89" height="33.83" fill="#bcd2f7"/>
<rect x="790.30" y="754.81" width="33.89" height="33.83" fill="#aac7fd"/>
<rect x="824.19" y="754.81" width="33.89" height="33.83" fill="#aec9fc"/>
<rect x="858.08" y="754.81" width="33.89" height="33.83" fill="#b40426"/>
<rect x="891.96" y="754.81" width="33.89" height="33.83" fill="#d3dbe7"/>
<rect x="925.85" y="754.81" width="33.89" height="33.83" fill="#b1cbfc"/>
<rect x="959.74" y="754.81" width="33.89" height="33.83" fill="#779af7"/>
<rect x="993.62" y="754.81" width="33.89" height="33.83" fill="#e2dad5"/>
<rect x="1027.51" y="754.81" width="33.89" height="33.83" fill="#b7cff9"/>
<rect x="112.55" y="788.64" width="33.89" height="33.83" fill="#cad8ef"/>
<rect x="146.44" y="788.64" width="33.89" height="33.83" fill="#d7dce3"/>
<rect x="180.32" y="788.64" width="33.89" height="33.83" fill="#aec9fc"/>
<rect x="214.21" y="788.64" width="33.89" height="33.83" fill="#c3d5f4"/>
<rect x="248.10" y="788.64" width="33.89" height="33.83" fill="#cdd9ec"/>
<rect x="281.99" y="788.64" width="33.89" height="33.83" fill="#cfdaea"/>
<rect x="315.88" y="788.64" width="33.89" height="33.83" fill="#cad8ef"/>
<rect x="349.76" y="788.64" width="33.89" height="33.83" fill="#e2dad5"/>
<rect x="383.65" y="788.64" width="33.89" height="33.83" fill="#adc9fd"/>
<rect x="417.54" y="788.64" width="33.89" height="33.83" fill="#bfd3f6"/>
<rect x="451.43" y="788.64" width="33.89" height="33.83" fill="#c3d5f4"/>
<rect x="485.31" y="788.64" width="33.89" height="33.83" fill="#ccd9ed"/>
<rect x="519.20" y="788.64" width="33.89" height="33.83" fill="#aac7fd"/>
<rect x="553.09" y="788.64" width="33.89" height="33.83" fill="#b5cdfa"/>
<rect x="586.98" y="788.64" width="33.89" height="33.83" fill="#b9d0f9"/>
<rect x="620.86" y="788.64" width="33.89" height="33.83" fill="#c4d5f3"/>
<rect x="654.75" y="788.64" width="33.89" height="33.83" fill="#c6d6f1"/>
<rect x="688.64" y="788.64" width="33.89" height="33.83" fill="#e5d8d1"/>
<rect x="722.52" y="788.64" width="33.89" height="33.83" fill="#c12b30"/>
<rect x="756.41" y="788.64" width="33.89" height="33.83" fill="#ccd9ed"/>
<rect x="790.30" y="788.64" width="33.89" height="33.83" fill="#d1dae9"/>
<rect x="824.19" y="788.64" width="33.89" height="33.83" fill="#ccd9ed"/>
<rect x="858.08" y="788.64" width="33.89" height="33.83" fill="#d3dbe7"/>
<rect x="891.96" y="788.64" width="33.89" height="33.83" fill="#b40426"/>
<rect x="925.85" y="788.64" width="33.89" height="33.83" fill="#dbdcde"/>
<rect x="959.74" y="788.64" width="33.89" height="33.83" fill="#c4d5f3"/>
<rect x="993.62" y="788.64" width="33.89" height="33.83" fill="#cdd9ec"/>
<rect x="1027.51" y="788.64" width="33.89" height="33.83" fill="#c6d6f1"/>
<rect x="112.55" y="822.47" width="33.89" height="33.83" fill="#8fb1fe"/>
<rect x="146.44" y="822.47" width="33.89" height="33.83" fill="#ccd9ed"/>
<rect x="180.32" y="822.47" width="33.89" height="33.83" fill="#cad8ef"/>
<rect x="214.21" y="822.47" width="33.89" height="33.83" fill="#bfd3f6"/>
<rect x="248.10" y="822.47" width="33.89" height="33.83" fill="#d4dbe6"/>
<rect x="281.99" y="822.47" width="33.89" height="33.83" fill="#d6dce4"/>
<rect x="315.88" y="822.47" width="33.89" height="33.83" fill="#c3d5f4"/>
<rect x="349.76" y="822.47" width="33.89" height="33.83" fill="#d9dce1"/>
<rect x="383.65" y="822.47" width="33.89" height="33.83" fill="#c3d5f4"/>
<rect x="417.54" y="822.47" width="33.89" height="33.83" fill="#d3dbe7"/>
<rect x="451.43" y="822.47" width="33.89" height="33.83" fill="#bfd3f6"/>
<rect x="485.31" y="822.47" width="33.89" height="33.83" fill="#a9c6fd"/>
<rect x="519.20" y="822.47" width="33.89" height="33.83" fill="#cdd9ec"/>
<rect x="553.09" y="822.47" width="33.89" height="33.83" fill="#c9d7f0"/>
<rect x="586.98" y="822.47" width="33.89" height="33.83" fill="#c6d6f1"/>
<rect x="620.86" y="822.47" width="33.89" height="33.83" fill="#c9d7f0"/>
<rect x="654.75" y="822.47" width="33.89" height="33.83" fill="#dcdddd"/>
<rect x="688.64" y="822.47" width="33.89" height="33.83" fill="#ead5c9"/>
<rect x="722.52" y="822.47" width="33.89" height="33.83" fill="#dfdbd9"/>
<rect x="756.41" y="822.47" width="33.89" height="33.83" fill="#f5c4ac"/>
<rect x="790.30" y="822.47" width="33.89" height="33.83" fill="#f7a688"/>
<rect x="824.19" y="822.47" width="33.89" height="33.83" fill="#e4d9d2"/>
<rect x="858.08" y="822.47" width="33.89" height="33.83" fill="#b1cbfc"/>
<rect x="891.96" y="822.47" width="33.89" height="33.83" fill="#dbdcde"/>
<rect x="925.85" y="822.47" width="33.89" height="33.83" fill="#b40426"/>
<rect x="959.74" y="822.47" width="33.89" height="33.83" fill="#edd1c2"/>
<rect x="993.62" y="822.47" width="33.89" height="33.83" fill="#9ebeff"/>
<rect x="1027.51" y="822.47" width="33.89" height="33.83" fill="#cfdaea"/>
<rect x="112.55" y="856.30" width="33.89" height="33.83" fill="#485fd1"/>
<rect x="146.44" y="856.30" width="33.89" height="33.83" fill="#9ebeff"/>
<rect x="180.32" y="856.30" width="33.89" height="33.83" fill="#e7d7ce"/>
<rect x="214.21" y="856.30" width="33.89" height="33.83" fill="#b3cdfb"/>
<rect x="248.10" y="856.30" width="33.89" height="33.83" fill="#dfdbd9"/>
<rect x="281.99" y="856.30" width="33.89" height="33.83" fill="#dedcdb"/>
<rect x="315.88" y="856.30" width="33.89" height="33.83" fill="#b1cbfc"/>
<rect x="349.76" y="856.30" width="33.89" height="33.83" fill="#f3c7b1"/>
<rect x="383.65" y="856.30" width="33.89" height="33.83" fill="#d1dae9"/>
<rect x="417.54" y="856.30" width="33.89" height="33.83" fill="#e9d5cb"/>
<rect x="451.43" y="856.30" width="33.89" height="33.83" fill="#c6d6f1"/>
<rect x="485.31" y="856.30" width="33.89" height="33.83" fill="#89acfd"/>
<rect x="519.20" y="856.30" width="33.89" height="33.83" fill="#e7d7ce"/>
<rect x="553.09" y="856.30" width="33.89" height="33.83" fill="#dcdddd"/>
<rect x="586.98" y="856.30" width="33.89" height="33.83" fill="#e1dad6"/>
<rect x="620.86" y="856.30" width="33.89" height="33.83" fill="#c9d7f0"/>
<rect x="654.75" y="856.30" width="33.89" height="33.83" fill="#f2c9b4"/>
<rect x="688.64" y="856.30" width="33.89" height="33.83" fill="#efcebd"/>
<rect x="722.52" y="856.30" width="33.89" height="33.83" fill="#c0d4f5"/>
<rect x="756.41" y="856.30" width="33.89" height="33.83" fill="#dedcdb"/>
<rect x="790.30" y="856.30" width="33.89" height="33.83" fill="#f2cbb7"/>
<rect x="824.19" y="856.30" width="33.89" height="33.83" fill="#d3dbe7"/>
<rect x="858.08" y="856.30" width="33.89" height="33.83" fill="#779af7"/>
<rect x="891.96" y="856.30" width="33.89" height="33.83" fill="#c4d5f3"/>
<rect x="925.85" y="856.30" width="33.89" height="33.83" fill="#edd1c2"/>
<rect x="959.74" y="856.30" width="33.89" height="33.83" fill="#b40426"/>
<rect x="993.62" y="856.30" width="33.89" height="33.83" fill="#5d7ce6"/>
<rect x="1027.51" y="856.30" width="33.89" height="33.83" fill="#cad8ef"/>
<rect x="112.55" y="890.12" width="33.89" height="33.83" fill="#e16751"/>
<rect x="146.44" y="890.12" width="33.89" height="33.83" fill="#c3d5f4"/>
<rect x="180.32" y="890.12" width="33.89" height="33.83" fill="#9dbdff"/>
<rect x="214.21" y="890.12" width="33.89" height="33.83" fill="#ccd9ed"/>
<rect x="248.10" y="890.12" width="33.89" height="33.83" fill="#b9d0f9"/>
<rect x="281.99" y="890.12" width="33.89" height="33.83" fill="#b7cff9"/>
<rect x="315.88" y="890.12" width="33.89" height="33.83" fill="#e2dad5"/>
<rect x="349.76" y="890.12" width="33.89" height="33.83" fill="#eed0c0"/>
<rect x="383.65" y="890.12" width="33.89" height="33.83" fill="#92b4fe"/>
<rect x="417.54" y="890.12" width="33.89" height="33.83" fill="#a1c0ff"/>
<rect x="451.43" y="890.12" width="33.89" height="33.83" fill="#b3cdfb"/>
<rect x="485.31" y="890.12" width="33.89" height="33.83" fill="#f7b599"/>
<rect x="519.20" y="890.12" width="33.89" height="33.83" fill="#6384eb"/>
<rect x="553.09" y="890.12" width="33.89" height="33.83" fill="#8fb1fe"/>
<rect x="586.98" y="890.12" width="33.89" height="33.83" fill="#9dbdff"/>
<rect x="620.86" y="890.12" width="33.89" height="33.83" fill="#97b8ff"/>
<rect x="654.75" y="890.12" width="33.89" height="33.83" fill="#7396f5"/>
<rect x="688.64" y="890.12" width="33.89" height="33.83" fill="#b3cdfb"/>
<rect x="722.52" y="890.12" width="33.89" height="33.83" fill="#d3dbe7"/>
<rect x="756.41" y="890.12" width="33.89" height="33.83" fill="#a1c0ff"/>
<rect x="790.30" y="890.12" width="33.89" height="33.83" fill="#a1c0ff"/>
<rect x="824.19" y="890.12" width="33.89" height="33.83" fill="#a9c6fd"/>
<rect x="858.08" y="890.12" width="33.89" height="33.83" fill="#e2dad5"/>
<rect x="891.96" y="890.12" width="33.89" height="33.83" fill="#cdd9ec"/>
<rect x="925.85" y="890.12" width="33.89" height="33.83" fill="#9ebeff"/>
<rect x="959.74" y="890.12" width="33.89" height="33.83" fill="#5d7ce6"/>
<rect x="993.62" y="890.12" width="33.89" height="33.83" fill="#b40426"/>
<rect x="1027.51" y="890.12" width="33.89" height="33.83" fill="#c3d5f4"/>
<rect x="112.55" y="923.95" width="33.89" height="33.83" fill="#c0d4f5"/>
<rect x="146.44" y="923.95" width="33.89" height="33.83" fill="#ccd9ed"/>
<rect x="180.32" y="923.95" width="33.89" height="33.83" fill="#bcd2f7"/>
<rect x="214.21" y="923.95" width="33.89" height="33.83" fill="#c6d6f1"/>
<rect x="248.10" y="923.95" width="33.89" height="33.83" fill="#bfd3f6"/>
<rect x="281.99" y="923.95" width="33.89" height="33.83" fill="#c4d5f3"/>
<rect x="315.88" y="923.95" width="33.89" height="33.83" fill="#c0d4f5"/>
<rect x="349.76" y="923.95" width="33.89" height="33.83" fill="#d3dbe7"/>
<rect x="383.65" y="923.95" width="33.89" height="33.83" fill="#bfd3f6"/>
<rect x="417.54" y="923.95" width="33.89" height="33.83" fill="#bfd3f6"/>
<rect x="451.43" y="923.95" width="33.89" height="33.83" fill="#c3d5f4"/>
<rect x="485.31" y="923.95" width="33.89" height="33.83" fill="#c6d6f1"/>
<rect x="519.20" y="923.95" width="33.89" height="33.83" fill="#b7cff9"/>
<rect x="553.09" y="923.95" width="33.89" height="33.83" fill="#b7cff9"/>
<rect x="586.98" y="923.95" width="33.89" height="33.83" fill="#bfd3f6"/>
<rect x="620.86" y="923.95" width="33.89" height="33.83" fill="#c0d4f5"/>
<rect x="654.75" y="923.95" width="33.89" height="33.83" fill="#bcd2f7"/>
<rect x="688.64" y="923.95" width="33.89" height="33.83" fill="#cdd9ec"/>
<rect x="722.52" y="923.95" width="33.89" height="33.83" fill="#c6d6f1"/>
<rect x="756.41" y="923.95" width="33.89" height="33.83" fill="#c4d5f3"/>
<rect x="790.30" y="923.95" width="33.89" height="33.83" fill="#c9d7f0"/>
<rect x="824.19" y="923.95" width="33.89" height="33.83" fill="#c9d7f0"/>
<rect x="858.08" y="923.95" width="33.89" height="33.83" fill="#b7cff9"/>
<rect x="891.96" y="923.95" width="33.89" height="33.83" fill="#c6d6f1"/>
<rect x="925.85" y="923.95" width="33.89" height="33.83" fill="#cfdaea"/>
<rect x="959.74" y="923.95" width="33.89" height="33.83" fill="#cad8ef"/>
<rect x="993.62" y="923.95" width="33.89" height="33.83" fill="#c3d5f4"/>
<rect x="1027.51" y="923.95" width="33.89" height="33.83" fill="#b40426"/>
</g>
<path d="M112.55 10.60V957.78M112.55 10.60H1061.40M146.44 10.60V957.78M112.55 44.43H1061.40M180.32 10.60V957.78M112.55 78.26H1061.40M214.21 10.60V957.78M112.55 112.08H1061.40M248.10 10.60V957.78M112.55 145.91H1061.40M281.99 10.60V957.78M112.55 179.74H1061.40M315.88 10.60V957.78M112.55 213.57H1061.40M349.76 10.60V957.78M112.55 247.39H1061.40M383.65 10.60V957.78M112.55 281.22H1061.40M417.54 10.60V957.78M112.55 315.05H1061.40M451.43 10.60V957.78M112.55 348.88H1061.40M485.31 10.60V957.78M112.55 382.71H1061.40M519.20 10.60V957.78M112.55 416.53H1061.40M553.09 10.60V957.78M112.55 450.36H1061.40M586.98 10.60V957.78M112.55 484.19H1061.40M620.86 10.60V957.78M112.55 518.02H1061.40M654.75 10.60V957.78M112.55 551.85H1061.40M688.64 10.60V957.78M112.55 585.67H1061.40M722.52 10.60V957.78M112.55 619.50H1061.40M756.41 10.60V957.78M112.55 653.33H1061.40M790.30 10.60V957.78M112.55 687.16H1061.40M824.19 10.60V957.78M112.55 720.99H1061.40M858.08 10.60V957.78M112.55 754.81H1061.40M891.96 10.60V957.78M112.55 788.64H1061.40M925.85 10.60V957.78M112.55 822.47H1061.40M959.74 10.60V957.78M112.55 856.30H1061.40M993.62 10.60V957.78M112.55 890.12H1061.40M1027.51 10.60V957.78M112.55 923.95H1061.40M1061.40 10.60V957.78M112.55 957.78H1061.40" stroke="#fff" stroke-width="0.8" fill="none"/>
<g font-size="9.8">
<text transform="translate(119.24 30.18) scale(1.0798 1)" x="-0.00 5.45 8.17 13.62" y="0" fill="#ffffff">1.00</text>
<text transform="translate(151.51 30.18) scale(1.0715 1)" x="-0.07 3.14 8.62 11.37 16.87" y="0" fill="#262626">-0.12</text>
<text transform="translate(185.35 30.18) scale(1.0715 1)" x="-0.07 3.14 8.62 11.37 16.87" y="0" fill="#262626">-0.16</text>
<text transform="translate(220.91 30.18) scale(1.0798 1)" x="-0.00 5.45 8.17 13.62" y="0" fill="#262626">0.09</text>
<text transform="translate(253.17 30.18) scale(1.0715 1)" x="-0.07 3.14 8.62 11.37 16.87" y="0" fill="#262626">-0.06</text>
<text transform="translate(287.06 30.18) scale(1.0715 1)" x="-0.07 3.14 8.62 11.37 16.87" y="0" fill="#262626">-0.09</text>
<text transform="translate(322.61 30.18) scale(1.0798 1)" x="-0.00 5.45 8.17 13.62" y="0" fill="#262626">0.25</text>
<text transform="translate(356.46 30.18) scale(1.0798 1)" x="-0.00 5.45 8.17 13.62" y="0" fill="#262626">0.36</text>
<text transform="translate(388.76 30.18) scale(1.0715 1)" x="-0.07 3.14 8.62 11.37 16.87" y="0" fill="#ffffff">-0.30</text>
<text transform="translate(422.56 30.18) scale(1.0715 1)" x="-0.07 3.14 8.62 11.37 16.87" y="0" fill="#262626">-0.18</text>
<text transform="translate(456.54 30.18) scale(1.0715 1)" x="-0.07 3.14 8.62 11.37 16.87" y="0" fill="#262626">-0.07</text>
<text transform="translate(492.01 30.18) scale(1.0798 1)" x="-0.00 5.45 8.17 13.62" y="0" fill="#262626">0.59</text>
<text transform="translate(524.31 30.18) scale(1.0715 1)" x="-0.07 3.14 8.62 11.37 16.87" y="0" fill="#ffffff">-0.57</text>
<text transform="translate(558.16 30.18) scale(1.0715 1)" x="-0.07 3.14 8.62 11.37 16.87" y="0" fill="#262626">-0.26</text>
<text transform="translate(592.04 30.18) scale(1.0715 1)" x="-0.07 3.14 8.62 11.37 16.87" y="0" fill="#262626">-0.21</text>
<text transform="translate(625.97 30.18) scale(1.0715 1)" x="-0.07 3.14 8.62 11.37 16.87" y="0" fill="#262626">-0.25</text>
<text transform="translate(659.86 30.18) scale(1.0715 1)" x="-0.07 3.14 8.62 11.37 16.87" y="0" fill="#ffffff">-0.47</text>
<text transform="translate(693.71 30.18) scale(1.0715 1)" x="-0.07 3.14 8.62 11.37 16.87" y="0" fill="#262626">-0.12</text>
<text transform="translate(729.22 30.18) scale(1.0798 1)" x="-0.00 5.45 8.17 13.62" y="0" fill="#262626">0.10</text>
<text transform="translate(761.48 30.18) scale(1.0715 1)" x="-0.07 3.14 8.62 11.37 16.87" y="0" fill="#262626">-0.21</text>
<text transform="translate(795.41 30.18) scale(1.0715 1)" x="-0.07 3.14 8.62 11.37 16.87" y="0" fill="#262626">-0.20</text>
<text transform="translate(829.26 30.18) scale(1.0715 1)" x="-0.07 3.14 8.62 11.37 16.87" y="0" fill="#262626">-0.17</text>
<text transform="translate(864.81 30.18) scale(1.0798 1)" x="-0.00 5.45 8.17 13.62" y="0" fill="#262626">0.27</text>
<text transform="translate(898.66 30.18) scale(1.0798 1)" x="-0.00 5.45 8.17 13.62" y="0" fill="#262626">0.06</text>
<text transform="translate(930.96 30.18) scale(1.0715 1)" x="-0.07 3.14 8.62 11.37 16.87" y="0" fill="#262626">-0.23</text>
<text transform="translate(964.81 30.18) scale(1.0715 1)" x="-0.07 3.14 8.62 11.37 16.87" y="0" fill="#ffffff">-0.58</text>
<text transform="translate(1000.36 30.18) scale(1.0798 1)" x="-0.00 5.45 8.17 13.62" y="0" fill="#ffffff">0.77</text>
<text transform="translate(1034.21 30.18) scale(1.0798 1)" x="-0.00 5.45 8.17 13.62" y="0" fill="#262626">0.01</text>
<text transform="translate(117.62 64.01) scale(1.0715 1)" x="-0.07 3.14 8.62 11.37 16.87" y="0" fill="#262626">-0.12</text>
<text transform="translate(153.13 64.01) scale(1.0798 1)" x="-0.00 5.45 8.17 13.62" y="0" fill="#ffffff">1.00</text>
<text transform="translate(185.44 64.01) scale(1.0715 1)" x="-0.07 3.14 8.62 11.37 16.87" y="0" fill="#ffffff">-0.47</text>
<text transform="translate(220.91 64.01) scale(1.0798 1)" x="-0.00 5.45 8.17 13.62" y="0" fill="#262626">0.13</text>
<text transform="translate(254.79 64.01) scale(1.0798 1)" x="-0.00 5.45 8.17 13.62" y="0" fill="#262626">0.10</text>
<text transform="translate(288.72 64.01) scale(1.0798 1)" x="-0.00 5.45 8.17 13.62" y="0" fill="#262626">0.22</text>
<text transform="translate(320.94 64.01) scale(1.0715 1)" x="-0.07 3.14 8.62 11.37 16.87" y="0" fill="#262626">-0.06</text>
<text transform="translate(354.83 64.01) scale(1.0715 1)" x="-0.07 3.14 8.62 11.37 16.87" y="0" fill="#262626">-0.08</text>
<text transform="translate(390.34 64.01) scale(1.0798 1)" x="-0.00 5.45 8.17 13.62" y="0" fill="#262626">0.09</text>
<text transform="translate(422.61 64.01) scale(1.0715 1)" x="-0.07 3.14 8.62 11.37 16.87" y="0" fill="#262626">-0.09</text>
<text transform="translate(456.54 64.01) scale(1.0715 1)" x="-0.07 3.14 8.62 11.37 16.87" y="0" fill="#262626">-0.02</text>
<text transform="translate(490.38 64.01) scale(1.0715 1)" x="-0.07 3.14 8.62 11.37 16.87" y="0" fill="#262626">-0.12</text>
<text transform="translate(525.94 64.01) scale(1.0798 1)" x="-0.00 5.45 8.17 13.62" y="0" fill="#262626">0.03</text>
<text transform="translate(558.16 64.01) scale(1.0715 1)" x="-0.07 3.14 8.62 11.37 16.87" y="0" fill="#262626">-0.13</text>
<text transform="translate(592.04 64.01) scale(1.0715 1)" x="-0.07 3.14 8.62 11.37 16.87" y="0" fill="#262626">-0.09</text>
<text transform="translate(627.56 64.01) scale(1.0798 1)" x="-0.00 5.45 8.17 13.62" y="0" fill="#262626">0.31</text>
<text transform="translate(661.49 64.01) scale(1.0798 1)" x="-0.00 5.45 8.17 13.62" y="0" fill="#262626">0.05</text>
<text transform="translate(695.37 64.01) scale(1.0798 1)" x="-0.00 5.45 8.17 13.62" y="0" fill="#262626">0.03</text>
<text transform="translate(729.22 64.01) scale(1.0798 1)" x="-0.00 5.45 8.17 13.62" y="0" fill="#262626">0.15</text>
<text transform="translate(763.15 64.01) scale(1.0798 1)" x="-0.00 5.45 8.17 13.62" y="0" fill="#262626">0.04</text>
<text transform="translate(795.41 64.01) scale(1.0715 1)" x="-0.07 3.14 8.62 11.37 16.87" y="0" fill="#262626">-0.07</text>
<text transform="translate(830.84 64.01) scale(1.0798 1)" x="-0.00 5.45 8.17 13.62" y="0" fill="#262626">0.18</text>
<text transform="translate(864.77 64.01) scale(1.0798 1)" x="-0.00 5.45 8.17 13.62" y="0" fill="#262626">0.09</text>
<text transform="translate(898.66 64.01) scale(1.0798 1)" x="-0.00 5.45 8.17 13.62" y="0" fill="#262626">0.14</text>
<text transform="translate(932.59 64.01) scale(1.0798 1)" x="-0.00 5.45 8.17 13.62" y="0" fill="#262626">0.07</text>
<text transform="translate(964.76 64.01) scale(1.0715 1)" x="-0.07 3.14 8.62 11.37 16.87" y="0" fill="#262626">-0.16</text>
<text transform="translate(1000.36 64.01) scale(1.0798 1)" x="-0.00 5.45 8.17 13.62" y="0" fill="#262626">0.02</text>
<text transform="translate(1034.25 64.01) scale(1.0798 1)" x="-0.00 5.45 8.17 13.62" y="0" fill="#262626">0.07</text>
<text transform="translate(117.58 97.84) scale(1.0715 1)" x="-0.07 3.14 8.62 11.37 16.87" y="0" fill="#262626">-0.16</text>
<text transform="translate(151.55 97.84) scale(1.0715 1)" x="-0.07 3.14 8.62 11.37 16.87" y="0" fill="#ffffff">-0.47</text>
<text transform="translate(187.02 97.84) scale(1.0798 1)" x="-0.00 5.45 8.17 13.62" y="0" fill="#ffffff">1.00</text>
<text transform="translate(219.28 97.84) scale(1.0715 1)" x="-0.07 3.14 8.62 11.37 16.87" y="0" fill="#262626">-0.14</text>
<text transform="translate(253.17 97.84) scale(1.0715 1)" x="-0.07 3.14 8.62 11.37 16.87" y="0" fill="#262626">-0.01</text>
<text transform="translate(287.10 97.84) scale(1.0715 1)" x="-0.07 3.14 8.62 11.37 16.87" y="0" fill="#262626">-0.07</text>
<text transform="translate(322.57 97.84) scale(1.0798 1)" x="-0.00 5.45 8.17 13.62" y="0" fill="#262626">0.01</text>
<text transform="translate(354.83 97.84) scale(1.0715 1)" x="-0.07 3.14 8.62 11.37 16.87" y="0" fill="#262626">-0.01</text>
<text transform="translate(388.72 97.84) scale(1.0715 1)" x="-0.07 3.14 8.62 11.37 16.87" y="0" fill="#262626">-0.10</text>
<text transform="translate(424.27 97.84) scale(1.0798 1)" x="-0.00 5.45 8.17 13.62" y="0" fill="#262626">0.43</text>
<text transform="translate(458.16 97.84) scale(1.0798 1)" x="-0.00 5.45 8.17 13.62" y="0" fill="#262626">0.00</text>
<text transform="translate(490.42 97.84) scale(1.0715 1)" x="-0.07 3.14 8.62 11.37 16.87" y="0" fill="#262626">-0.05</text>
<text transform="translate(525.89 97.84) scale(1.0798 1)" x="-0.00 5.45 8.17 13.62" y="0" fill="#262626">0.06</text>
<text transform="translate(559.78 97.84) scale(1.0798 1)" x="-0.00 5.45 8.17 13.62" y="0" fill="#262626">0.13</text>
<text transform="translate(593.63 97.84) scale(1.0798 1)" x="-0.00 5.45 8.17 13.62" y="0" fill="#262626">0.11</text>
<text transform="translate(625.89 97.84) scale(1.0715 1)" x="-0.07 3.14 8.62 11.37 16.87" y="0" fill="#262626">-0.11</text>
<text transform="translate(661.40 97.84) scale(1.0798 1)" x="-0.00 5.45 8.17 13.62" y="0" fill="#262626">0.16</text>
<text transform="translate(695.37 97.84) scale(1.0798 1)" x="-0.00 5.45 8.17 13.62" y="0" fill="#262626">0.03</text>
<text transform="translate(727.59 97.84) scale(1.0715 1)" x="-0.07 3.14 8.62 11.37 16.87" y="0" fill="#262626">-0.09</text>
<text transform="translate(763.15 97.84) scale(1.0798 1)" x="-0.00 5.45 8.17 13.62" y="0" fill="#262626">0.04</text>
<text transform="translate(796.99 97.84) scale(1.0798 1)" x="-0.00 5.45 8.17 13.62" y="0" fill="#262626">0.12</text>
<text transform="translate(829.26 97.84) scale(1.0715 1)" x="-0.07 3.14 8.62 11.37 16.87" y="0" fill="#262626">-0.06</text>
<text transform="translate(863.10 97.84) scale(1.0715 1)" x="-0.07 3.14 8.62 11.37 16.87" y="0" fill="#262626">-0.11</text>
<text transform="translate(897.03 97.84) scale(1.0715 1)" x="-0.07 3.14 8.62 11.37 16.87" y="0" fill="#262626">-0.08</text>
<text transform="translate(932.54 97.84) scale(1.0798 1)" x="-0.00 5.45 8.17 13.62" y="0" fill="#262626">0.06</text>
<text transform="translate(966.47 97.84) scale(1.0798 1)" x="-0.00 5.45 8.17 13.62" y="0" fill="#262626">0.24</text>
<text transform="translate(998.69 97.84) scale(1.0715 1)" x="-0.07 3.14 8.62 11.37 16.87" y="0" fill="#262626">-0.17</text>
<text transform="translate(1032.58 97.84) scale(1.0715 1)" x="-0.07 3.14 8.62 11.37 16.87" y="0" fill="#262626">-0.01</text>
<text transform="translate(119.24 131.66) scale(1.0798 1)" x="-0.00 5.45 8.17 13.62" y="0" fill="#262626">0.09</text>
<text transform="translate(153.13 131.66) scale(1.0798 1)" x="-0.00 5.45 8.17 13.62" y="0" fill="#262626">0.13</text>
<text transform="translate(185.39 131.66) scale(1.0715 1)" x="-0.07 3.14 8.62 11.37 16.87" y="0" fill="#262626">-0.14</text>
<text transform="translate(220.91 131.66) scale(1.0798 1)" x="-0.00 5.45 8.17 13.62" y="0" fill="#ffffff">1.00</text>
<text transform="translate(253.17 131.66) scale(1.0715 1)" x="-0.07 3.14 8.62 11.37 16.87" y="0" fill="#262626">-0.01</text>
<text transform="translate(287.10 131.66) scale(1.0715 1)" x="-0.07 3.14 8.62 11.37 16.87" y="0" fill="#262626">-0.02</text>
<text transform="translate(322.57 131.66) scale(1.0798 1)" x="-0.00 5.45 8.17 13.62" y="0" fill="#262626">0.01</text>
<text transform="translate(356.50 131.66) scale(1.0798 1)" x="-0.00 5.45 8.17 13.62" y="0" fill="#262626">0.07</text>
<text transform="translate(390.34 131.66) scale(1.0798 1)" x="-0.00 5.45 8.17 13.62" y="0" fill="#262626">0.01</text>
<text transform="translate(422.61 131.66) scale(1.0715 1)" x="-0.07 3.14 8.62 11.37 16.87" y="0" fill="#262626">-0.10</text>
<text transform="translate(456.54 131.66) scale(1.0715 1)" x="-0.07 3.14 8.62 11.37 16.87" y="0" fill="#262626">-0.03</text>
<text transform="translate(492.05 131.66) scale(1.0798 1)" x="-0.00 5.45 8.17 13.62" y="0" fill="#262626">0.04</text>
<text transform="translate(524.31 131.66) scale(1.0715 1)" x="-0.07 3.14 8.62 11.37 16.87" y="0" fill="#262626">-0.07</text>
<text transform="translate(558.16 131.66) scale(1.0715 1)" x="-0.07 3.14 8.62 11.37 16.87" y="0" fill="#262626">-0.08</text>
<text transform="translate(592.09 131.66) scale(1.0715 1)" x="-0.07 3.14 8.62 11.37 16.87" y="0" fill="#262626">-0.04</text>
<text transform="translate(627.60 131.66) scale(1.0798 1)" x="-0.00 5.45 8.17 13.62" y="0" fill="#262626">0.00</text>
<text transform="translate(659.82 131.66) scale(1.0715 1)" x="-0.07 3.14 8.62 11.37 16.87" y="0" fill="#262626">-0.06</text>
<text transform="translate(695.37 131.66) scale(1.0798 1)" x="-0.00 5.45 8.17 13.62" y="0" fill="#262626">0.02</text>
<text transform="translate(729.26 131.66) scale(1.0798 1)" x="-0.00 5.45 8.17 13.62" y="0" fill="#262626">0.03</text>
<text transform="translate(761.52 131.66) scale(1.0715 1)" x="-0.07 3.14 8.62 11.37 16.87" y="0" fill="#262626">-0.04</text>
<text transform="translate(795.41 131.66) scale(1.0715 1)" x="-0.07 3.14 8.62 11.37 16.87" y="0" fill="#262626">-0.03</text>
<text transform="translate(830.92 131.66) scale(1.0798 1)" x="-0.00 5.45 8.17 13.62" y="0" fill="#262626">0.02</text>
<text transform="translate(864.81 131.66) scale(1.0798 1)" x="-0.00 5.45 8.17 13.62" y="0" fill="#262626">0.02</text>
<text transform="translate(898.70 131.66) scale(1.0798 1)" x="-0.00 5.45 8.17 13.62" y="0" fill="#262626">0.02</text>
<text transform="translate(930.96 131.66) scale(1.0715 1)" x="-0.07 3.14 8.62 11.37 16.87" y="0" fill="#262626">-0.00</text>
<text transform="translate(964.81 131.66) scale(1.0715 1)" x="-0.07 3.14 8.62 11.37 16.87" y="0" fill="#262626">-0.06</text>
<text transform="translate(1000.36 131.66) scale(1.0798 1)" x="-0.00 5.45 8.17 13.62" y="0" fill="#262626">0.07</text>
<text transform="translate(1034.25 131.66) scale(1.0798 1)" x="-0.00 5.45 8.17 13.62" y="0" fill="#262626">0.04</text>
<text transform="translate(117.62 165.49) scale(1.0715 1)" x="-0.07 3.14 8.62 11.37 16.87" y="0" fill="#262626">-0.06</text>
<text transform="translate(153.13 165.49) scale(1.0798 1)" x="-0.00 5.45 8.17 13.62" y="0" fill="#262626">0.10</text>
<text transform="translate(185.39 165.49) scale(1.0715 1)" x="-0.07 3.14 8.62 11.37 16.87" y="0" fill="#262626">-0.01</text>
<text transform="translate(219.28 165.49) scale(1.0715 1)" x="-0.07 3.14 8.62 11.37 16.87" y="0" fill="#262626">-0.01</text>
<text transform="translate(254.79 165.49) scale(1.0798 1)" x="-0.00 5.45 8.17 13.62" y="0" fill="#ffffff">1.00</text>
<text transform="translate(288.68 165.49) scale(1.0798 1)" x="-0.00 5.45 8.17 13.62" y="0" fill="#ffffff">0.82</text>
<text transform="translate(322.57 165.49) scale(1.0798 1)" x="-0.00 5.45 8.17 13.62" y="0" fill="#262626">0.09</text>
<text transform="translate(356.50 165.49) scale(1.0798 1)" x="-0.00 5.45 8.17 13.62" y="0" fill="#262626">0.20</text>
<text transform="translate(388.76 165.49) scale(1.0715 1)" x="-0.07 3.14 8.62 11.37 16.87" y="0" fill="#262626">-0.00</text>
<text transform="translate(424.27 165.49) scale(1.0798 1)" x="-0.00 5.45 8.17 13.62" y="0" fill="#262626">0.02</text>
<text transform="translate(456.49 165.49) scale(1.0715 1)" x="-0.07 3.14 8.62 11.37 16.87" y="0" fill="#262626">-0.01</text>
<text transform="translate(492.01 165.49) scale(1.0798 1)" x="-0.00 5.45 8.17 13.62" y="0" fill="#262626">0.06</text>
<text transform="translate(524.27 165.49) scale(1.0715 1)" x="-0.07 3.14 8.62 11.37 16.87" y="0" fill="#262626">-0.06</text>
<text transform="translate(558.20 165.49) scale(1.0715 1)" x="-0.07 3.14 8.62 11.37 16.87" y="0" fill="#262626">-0.02</text>
<text transform="translate(592.04 165.49) scale(1.0715 1)" x="-0.07 3.14 8.62 11.37 16.87" y="0" fill="#262626">-0.01</text>
<text transform="translate(627.60 165.49) scale(1.0798 1)" x="-0.00 5.45 8.17 13.62" y="0" fill="#262626">0.02</text>
<text transform="translate(661.40 165.49) scale(1.0798 1)" x="-0.00 5.45 8.17 13.62" y="0" fill="#262626">0.11</text>
<text transform="translate(695.33 165.49) scale(1.0798 1)" x="-0.00 5.45 8.17 13.62" y="0" fill="#262626">0.12</text>
<text transform="translate(729.22 165.49) scale(1.0798 1)" x="-0.00 5.45 8.17 13.62" y="0" fill="#262626">0.10</text>
<text transform="translate(763.15 165.49) scale(1.0798 1)" x="-0.00 5.45 8.17 13.62" y="0" fill="#262626">0.05</text>
<text transform="translate(796.99 165.49) scale(1.0798 1)" x="-0.00 5.45 8.17 13.62" y="0" fill="#262626">0.12</text>
<text transform="translate(830.88 165.49) scale(1.0798 1)" x="-0.00 5.45 8.17 13.62" y="0" fill="#262626">0.10</text>
<text transform="translate(863.19 165.49) scale(1.0715 1)" x="-0.07 3.14 8.62 11.37 16.87" y="0" fill="#262626">-0.02</text>
<text transform="translate(898.66 165.49) scale(1.0798 1)" x="-0.00 5.45 8.17 13.62" y="0" fill="#262626">0.08</text>
<text transform="translate(932.54 165.49) scale(1.0798 1)" x="-0.00 5.45 8.17 13.62" y="0" fill="#262626">0.12</text>
<text transform="translate(966.39 165.49) scale(1.0798 1)" x="-0.00 5.45 8.17 13.62" y="0" fill="#262626">0.19</text>
<text transform="translate(998.74 165.49) scale(1.0715 1)" x="-0.07 3.14 8.62 11.37 16.87" y="0" fill="#262626">-0.03</text>
<text transform="translate(1034.25 165.49) scale(1.0798 1)" x="-0.00 5.45 8.17 13.62" y="0" fill="#262626">0.00</text>
<text transform="translate(117.62 199.32) scale(1.0715 1)" x="-0.07 3.14 8.62 11.37 16.87" y="0" fill="#262626">-0.09</text>
<text transform="translate(153.17 199.32) scale(1.0798 1)" x="-0.00 5.45 8.17 13.62" y="0" fill="#262626">0.22</text>
<text transform="translate(185.44 199.32) scale(1.0715 1)" x="-0.07 3.14 8.62 11.37 16.87" y="0" fill="#262626">-0.07</text>
<text transform="translate(219.32 199.32) scale(1.0715 1)" x="-0.07 3.14 8.62 11.37 16.87" y="0" fill="#262626">-0.02</text>
<text transform="translate(254.79 199.32) scale(1.0798 1)" x="-0.00 5.45 8.17 13.62" y="0" fill="#ffffff">0.82</text>
<text transform="translate(288.68 199.32) scale(1.0798 1)" x="-0.00 5.45 8.17 13.62" y="0" fill="#ffffff">1.00</text>
<text transform="translate(322.57 199.32) scale(1.0798 1)" x="-0.00 5.45 8.17 13.62" y="0" fill="#262626">0.12</text>
<text transform="translate(356.50 199.32) scale(1.0798 1)" x="-0.00 5.45 8.17 13.62" y="0" fill="#262626">0.20</text>
<text transform="translate(390.34 199.32) scale(1.0798 1)" x="-0.00 5.45 8.17 13.62" y="0" fill="#262626">0.01</text>
<text transform="translate(424.23 199.32) scale(1.0798 1)" x="-0.00 5.45 8.17 13.62" y="0" fill="#262626">0.01</text>
<text transform="translate(456.54 199.32) scale(1.0715 1)" x="-0.07 3.14 8.62 11.37 16.87" y="0" fill="#262626">-0.02</text>
<text transform="translate(492.01 199.32) scale(1.0798 1)" x="-0.00 5.45 8.17 13.62" y="0" fill="#262626">0.06</text>
<text transform="translate(524.31 199.32) scale(1.0715 1)" x="-0.07 3.14 8.62 11.37 16.87" y="0" fill="#262626">-0.05</text>
<text transform="translate(558.20 199.32) scale(1.0715 1)" x="-0.07 3.14 8.62 11.37 16.87" y="0" fill="#262626">-0.02</text>
<text transform="translate(592.04 199.32) scale(1.0715 1)" x="-0.07 3.14 8.62 11.37 16.87" y="0" fill="#262626">-0.01</text>
<text transform="translate(627.56 199.32) scale(1.0798 1)" x="-0.00 5.45 8.17 13.62" y="0" fill="#262626">0.06</text>
<text transform="translate(661.44 199.32) scale(1.0798 1)" x="-0.00 5.45 8.17 13.62" y="0" fill="#262626">0.10</text>
<text transform="translate(695.33 199.32) scale(1.0798 1)" x="-0.00 5.45 8.17 13.62" y="0" fill="#262626">0.14</text>
<text transform="translate(729.22 199.32) scale(1.0798 1)" x="-0.00 5.45 8.17 13.62" y="0" fill="#262626">0.12</text>
<text transform="translate(763.15 199.32) scale(1.0798 1)" x="-0.00 5.45 8.17 13.62" y="0" fill="#262626">0.07</text>
<text transform="translate(796.99 199.32) scale(1.0798 1)" x="-0.00 5.45 8.17 13.62" y="0" fill="#262626">0.12</text>
<text transform="translate(830.88 199.32) scale(1.0798 1)" x="-0.00 5.45 8.17 13.62" y="0" fill="#262626">0.14</text>
<text transform="translate(864.77 199.32) scale(1.0798 1)" x="-0.00 5.45 8.17 13.62" y="0" fill="#262626">0.01</text>
<text transform="translate(898.66 199.32) scale(1.0798 1)" x="-0.00 5.45 8.17 13.62" y="0" fill="#262626">0.09</text>
<text transform="translate(932.54 199.32) scale(1.0798 1)" x="-0.00 5.45 8.17 13.62" y="0" fill="#262626">0.13</text>
<text transform="translate(966.39 199.32) scale(1.0798 1)" x="-0.00 5.45 8.17 13.62" y="0" fill="#262626">0.18</text>
<text transform="translate(998.74 199.32) scale(1.0715 1)" x="-0.07 3.14 8.62 11.37 16.87" y="0" fill="#262626">-0.04</text>
<text transform="translate(1034.25 199.32) scale(1.0798 1)" x="-0.00 5.45 8.17 13.62" y="0" fill="#262626">0.03</text>
<text transform="translate(119.29 233.15) scale(1.0798 1)" x="-0.00 5.45 8.17 13.62" y="0" fill="#262626">0.25</text>
<text transform="translate(151.51 233.15) scale(1.0715 1)" x="-0.07 3.14 8.62 11.37 16.87" y="0" fill="#262626">-0.06</text>
<text transform="translate(187.02 233.15) scale(1.0798 1)" x="-0.00 5.45 8.17 13.62" y="0" fill="#262626">0.01</text>
<text transform="translate(220.91 233.15) scale(1.0798 1)" x="-0.00 5.45 8.17 13.62" y="0" fill="#262626">0.01</text>
<text transform="translate(254.79 233.15) scale(1.0798 1)" x="-0.00 5.45 8.17 13.62" y="0" fill="#262626">0.09</text>
<text transform="translate(288.68 233.15) scale(1.0798 1)" x="-0.00 5.45 8.17 13.62" y="0" fill="#262626">0.12</text>
<text transform="translate(322.57 233.15) scale(1.0798 1)" x="-0.00 5.45 8.17 13.62" y="0" fill="#ffffff">1.00</text>
<text transform="translate(356.41 233.15) scale(1.0798 1)" x="-0.00 5.45 8.17 13.62" y="0" fill="#262626">0.18</text>
<text transform="translate(388.72 233.15) scale(1.0715 1)" x="-0.07 3.14 8.62 11.37 16.87" y="0" fill="#262626">-0.13</text>
<text transform="translate(422.61 233.15) scale(1.0715 1)" x="-0.07 3.14 8.62 11.37 16.87" y="0" fill="#262626">-0.01</text>
<text transform="translate(456.54 233.15) scale(1.0715 1)" x="-0.07 3.14 8.62 11.37 16.87" y="0" fill="#262626">-0.03</text>
<text transform="translate(492.05 233.15) scale(1.0798 1)" x="-0.00 5.45 8.17 13.62" y="0" fill="#262626">0.20</text>
<text transform="translate(524.27 233.15) scale(1.0715 1)" x="-0.07 3.14 8.62 11.37 16.87" y="0" fill="#262626">-0.17</text>
<text transform="translate(558.16 233.15) scale(1.0715 1)" x="-0.07 3.14 8.62 11.37 16.87" y="0" fill="#262626">-0.06</text>
<text transform="translate(592.04 233.15) scale(1.0715 1)" x="-0.07 3.14 8.62 11.37 16.87" y="0" fill="#262626">-0.06</text>
<text transform="translate(625.93 233.15) scale(1.0715 1)" x="-0.07 3.14 8.62 11.37 16.87" y="0" fill="#262626">-0.08</text>
<text transform="translate(659.78 233.15) scale(1.0715 1)" x="-0.07 3.14 8.62 11.37 16.87" y="0" fill="#262626">-0.11</text>
<text transform="translate(695.37 233.15) scale(1.0798 1)" x="-0.00 5.45 8.17 13.62" y="0" fill="#262626">0.07</text>
<text transform="translate(729.22 233.15) scale(1.0798 1)" x="-0.00 5.45 8.17 13.62" y="0" fill="#262626">0.09</text>
<text transform="translate(761.52 233.15) scale(1.0715 1)" x="-0.07 3.14 8.62 11.37 16.87" y="0" fill="#262626">-0.03</text>
<text transform="translate(797.04 233.15) scale(1.0798 1)" x="-0.00 5.45 8.17 13.62" y="0" fill="#262626">0.02</text>
<text transform="translate(829.30 233.15) scale(1.0715 1)" x="-0.07 3.14 8.62 11.37 16.87" y="0" fill="#262626">-0.00</text>
<text transform="translate(864.81 233.15) scale(1.0798 1)" x="-0.00 5.45 8.17 13.62" y="0" fill="#262626">0.04</text>
<text transform="translate(898.66 233.15) scale(1.0798 1)" x="-0.00 5.45 8.17 13.62" y="0" fill="#262626">0.06</text>
<text transform="translate(932.59 233.15) scale(1.0798 1)" x="-0.00 5.45 8.17 13.62" y="0" fill="#262626">0.02</text>
<text transform="translate(964.85 233.15) scale(1.0715 1)" x="-0.07 3.14 8.62 11.37 16.87" y="0" fill="#262626">-0.07</text>
<text transform="translate(1000.32 233.15) scale(1.0798 1)" x="-0.00 5.45 8.17 13.62" y="0" fill="#262626">0.21</text>
<text transform="translate(1034.21 233.15) scale(1.0798 1)" x="-0.00 5.45 8.17 13.62" y="0" fill="#262626">0.01</text>
<text transform="translate(119.24 266.98) scale(1.0798 1)" x="-0.00 5.45 8.17 13.62" y="0" fill="#262626">0.36</text>
<text transform="translate(151.51 266.98) scale(1.0715 1)" x="-0.07 3.14 8.62 11.37 16.87" y="0" fill="#262626">-0.08</text>
<text transform="translate(185.39 266.98) scale(1.0715 1)" x="-0.07 3.14 8.62 11.37 16.87" y="0" fill="#262626">-0.01</text>
<text transform="translate(220.95 266.98) scale(1.0798 1)" x="-0.00 5.45 8.17 13.62" y="0" fill="#262626">0.07</text>
<text transform="translate(254.84 266.98) scale(1.0798 1)" x="-0.00 5.45 8.17 13.62" y="0" fill="#262626">0.20</text>
<text transform="translate(288.72 266.98) scale(1.0798 1)" x="-0.00 5.45 8.17 13.62" y="0" fill="#262626">0.20</text>
<text transform="translate(322.53 266.98) scale(1.0798 1)" x="-0.00 5.45 8.17 13.62" y="0" fill="#262626">0.18</text>
<text transform="translate(356.46 266.98) scale(1.0798 1)" x="-0.00 5.45 8.17 13.62" y="0" fill="#ffffff">1.00</text>
<text transform="translate(388.76 266.98) scale(1.0715 1)" x="-0.07 3.14 8.62 11.37 16.87" y="0" fill="#262626">-0.20</text>
<text transform="translate(424.27 266.98) scale(1.0798 1)" x="-0.00 5.45 8.17 13.62" y="0" fill="#262626">0.07</text>
<text transform="translate(456.54 266.98) scale(1.0715 1)" x="-0.07 3.14 8.62 11.37 16.87" y="0" fill="#262626">-0.03</text>
<text transform="translate(492.05 266.98) scale(1.0798 1)" x="-0.00 5.45 8.17 13.62" y="0" fill="#262626">0.34</text>
<text transform="translate(524.31 266.98) scale(1.0715 1)" x="-0.07 3.14 8.62 11.37 16.87" y="0" fill="#ffffff">-0.34</text>
<text transform="translate(558.16 266.98) scale(1.0715 1)" x="-0.07 3.14 8.62 11.37 16.87" y="0" fill="#262626">-0.12</text>
<text transform="translate(592.09 266.98) scale(1.0715 1)" x="-0.07 3.14 8.62 11.37 16.87" y="0" fill="#262626">-0.03</text>
<text transform="translate(625.89 266.98) scale(1.0715 1)" x="-0.07 3.14 8.62 11.37 16.87" y="0" fill="#262626">-0.16</text>
<text transform="translate(659.82 266.98) scale(1.0715 1)" x="-0.07 3.14 8.62 11.37 16.87" y="0" fill="#262626">-0.10</text>
<text transform="translate(695.37 266.98) scale(1.0798 1)" x="-0.00 5.45 8.17 13.62" y="0" fill="#262626">0.27</text>
<text transform="translate(729.26 266.98) scale(1.0798 1)" x="-0.00 5.45 8.17 13.62" y="0" fill="#262626">0.23</text>
<text transform="translate(761.52 266.98) scale(1.0715 1)" x="-0.07 3.14 8.62 11.37 16.87" y="0" fill="#262626">-0.00</text>
<text transform="translate(796.95 266.98) scale(1.0798 1)" x="-0.00 5.45 8.17 13.62" y="0" fill="#262626">0.18</text>
<text transform="translate(830.92 266.98) scale(1.0798 1)" x="-0.00 5.45 8.17 13.62" y="0" fill="#262626">0.02</text>
<text transform="translate(863.19 266.98) scale(1.0715 1)" x="-0.07 3.14 8.62 11.37 16.87" y="0" fill="#262626">-0.07</text>
<text transform="translate(898.66 266.98) scale(1.0798 1)" x="-0.00 5.45 8.17 13.62" y="0" fill="#262626">0.21</text>
<text transform="translate(932.54 266.98) scale(1.0798 1)" x="-0.00 5.45 8.17 13.62" y="0" fill="#262626">0.15</text>
<text transform="translate(966.43 266.98) scale(1.0798 1)" x="-0.00 5.45 8.17 13.62" y="0" fill="#262626">0.36</text>
<text transform="translate(1000.36 266.98) scale(1.0798 1)" x="-0.00 5.45 8.17 13.62" y="0" fill="#262626">0.30</text>
<text transform="translate(1034.16 266.98) scale(1.0798 1)" x="-0.00 5.45 8.17 13.62" y="0" fill="#262626">0.11</text>
<text transform="translate(117.66 300.80) scale(1.0715 1)" x="-0.07 3.14 8.62 11.37 16.87" y="0" fill="#ffffff">-0.30</text>
<text transform="translate(153.13 300.80) scale(1.0798 1)" x="-0.00 5.45 8.17 13.62" y="0" fill="#262626">0.09</text>
<text transform="translate(185.39 300.80) scale(1.0715 1)" x="-0.07 3.14 8.62 11.37 16.87" y="0" fill="#262626">-0.10</text>
<text transform="translate(220.91 300.80) scale(1.0798 1)" x="-0.00 5.45 8.17 13.62" y="0" fill="#262626">0.01</text>
<text transform="translate(253.21 300.80) scale(1.0715 1)" x="-0.07 3.14 8.62 11.37 16.87" y="0" fill="#262626">-0.00</text>
<text transform="translate(288.68 300.80) scale(1.0798 1)" x="-0.00 5.45 8.17 13.62" y="0" fill="#262626">0.01</text>
<text transform="translate(320.94 300.80) scale(1.0715 1)" x="-0.07 3.14 8.62 11.37 16.87" y="0" fill="#262626">-0.13</text>
<text transform="translate(354.87 300.80) scale(1.0715 1)" x="-0.07 3.14 8.62 11.37 16.87" y="0" fill="#262626">-0.20</text>
<text transform="translate(390.34 300.80) scale(1.0798 1)" x="-0.00 5.45 8.17 13.62" y="0" fill="#ffffff">1.00</text>
<text transform="translate(422.65 300.80) scale(1.0715 1)" x="-0.07 3.14 8.62 11.37 16.87" y="0" fill="#262626">-0.07</text>
<text transform="translate(458.16 300.80) scale(1.0798 1)" x="-0.00 5.45 8.17 13.62" y="0" fill="#262626">0.03</text>
<text transform="translate(490.38 300.80) scale(1.0715 1)" x="-0.07 3.14 8.62 11.37 16.87" y="0" fill="#262626">-0.15</text>
<text transform="translate(525.89 300.80) scale(1.0798 1)" x="-0.00 5.45 8.17 13.62" y="0" fill="#262626">0.14</text>
<text transform="translate(559.78 300.80) scale(1.0798 1)" x="-0.00 5.45 8.17 13.62" y="0" fill="#262626">0.06</text>
<text transform="translate(593.71 300.80) scale(1.0798 1)" x="-0.00 5.45 8.17 13.62" y="0" fill="#262626">0.04</text>
<text transform="translate(627.56 300.80) scale(1.0798 1)" x="-0.00 5.45 8.17 13.62" y="0" fill="#262626">0.17</text>
<text transform="translate(661.49 300.80) scale(1.0798 1)" x="-0.00 5.45 8.17 13.62" y="0" fill="#262626">0.05</text>
<text transform="translate(693.75 300.80) scale(1.0715 1)" x="-0.07 3.14 8.62 11.37 16.87" y="0" fill="#262626">-0.05</text>
<text transform="translate(727.64 300.80) scale(1.0715 1)" x="-0.07 3.14 8.62 11.37 16.87" y="0" fill="#262626">-0.07</text>
<text transform="translate(763.06 300.80) scale(1.0798 1)" x="-0.00 5.45 8.17 13.62" y="0" fill="#262626">0.11</text>
<text transform="translate(797.04 300.80) scale(1.0798 1)" x="-0.00 5.45 8.17 13.62" y="0" fill="#262626">0.04</text>
<text transform="translate(830.92 300.80) scale(1.0798 1)" x="-0.00 5.45 8.17 13.62" y="0" fill="#262626">0.04</text>
<text transform="translate(864.81 300.80) scale(1.0798 1)" x="-0.00 5.45 8.17 13.62" y="0" fill="#262626">0.05</text>
<text transform="translate(897.03 300.80) scale(1.0715 1)" x="-0.07 3.14 8.62 11.37 16.87" y="0" fill="#262626">-0.09</text>
<text transform="translate(932.59 300.80) scale(1.0798 1)" x="-0.00 5.45 8.17 13.62" y="0" fill="#262626">0.02</text>
<text transform="translate(966.43 300.80) scale(1.0798 1)" x="-0.00 5.45 8.17 13.62" y="0" fill="#262626">0.10</text>
<text transform="translate(998.74 300.80) scale(1.0715 1)" x="-0.07 3.14 8.62 11.37 16.87" y="0" fill="#262626">-0.22</text>
<text transform="translate(1032.62 300.80) scale(1.0715 1)" x="-0.07 3.14 8.62 11.37 16.87" y="0" fill="#262626">-0.00</text>
<text transform="translate(117.58 334.63) scale(1.0715 1)" x="-0.07 3.14 8.62 11.37 16.87" y="0" fill="#262626">-0.18</text>
<text transform="translate(151.51 334.63) scale(1.0715 1)" x="-0.07 3.14 8.62 11.37 16.87" y="0" fill="#262626">-0.09</text>
<text transform="translate(187.06 334.63) scale(1.0798 1)" x="-0.00 5.45 8.17 13.62" y="0" fill="#262626">0.43</text>
<text transform="translate(219.28 334.63) scale(1.0715 1)" x="-0.07 3.14 8.62 11.37 16.87" y="0" fill="#262626">-0.10</text>
<text transform="translate(254.84 334.63) scale(1.0798 1)" x="-0.00 5.45 8.17 13.62" y="0" fill="#262626">0.02</text>
<text transform="translate(288.68 334.63) scale(1.0798 1)" x="-0.00 5.45 8.17 13.62" y="0" fill="#262626">0.01</text>
<text transform="translate(320.94 334.63) scale(1.0715 1)" x="-0.07 3.14 8.62 11.37 16.87" y="0" fill="#262626">-0.01</text>
<text transform="translate(356.50 334.63) scale(1.0798 1)" x="-0.00 5.45 8.17 13.62" y="0" fill="#262626">0.07</text>
<text transform="translate(388.76 334.63) scale(1.0715 1)" x="-0.07 3.14 8.62 11.37 16.87" y="0" fill="#262626">-0.07</text>
<text transform="translate(424.23 334.63) scale(1.0798 1)" x="-0.00 5.45 8.17 13.62" y="0" fill="#ffffff">1.00</text>
<text transform="translate(456.54 334.63) scale(1.0715 1)" x="-0.07 3.14 8.62 11.37 16.87" y="0" fill="#262626">-0.00</text>
<text transform="translate(490.38 334.63) scale(1.0715 1)" x="-0.07 3.14 8.62 11.37 16.87" y="0" fill="#262626">-0.06</text>
<text transform="translate(525.94 334.63) scale(1.0798 1)" x="-0.00 5.45 8.17 13.62" y="0" fill="#262626">0.05</text>
<text transform="translate(559.74 334.63) scale(1.0798 1)" x="-0.00 5.45 8.17 13.62" y="0" fill="#262626">0.11</text>
<text transform="translate(593.67 334.63) scale(1.0798 1)" x="-0.00 5.45 8.17 13.62" y="0" fill="#262626">0.12</text>
<text transform="translate(627.60 334.63) scale(1.0798 1)" x="-0.00 5.45 8.17 13.62" y="0" fill="#262626">0.05</text>
<text transform="translate(661.44 334.63) scale(1.0798 1)" x="-0.00 5.45 8.17 13.62" y="0" fill="#262626">0.15</text>
<text transform="translate(695.33 334.63) scale(1.0798 1)" x="-0.00 5.45 8.17 13.62" y="0" fill="#262626">0.09</text>
<text transform="translate(727.59 334.63) scale(1.0715 1)" x="-0.07 3.14 8.62 11.37 16.87" y="0" fill="#262626">-0.01</text>
<text transform="translate(763.15 334.63) scale(1.0798 1)" x="-0.00 5.45 8.17 13.62" y="0" fill="#262626">0.04</text>
<text transform="translate(796.99 334.63) scale(1.0798 1)" x="-0.00 5.45 8.17 13.62" y="0" fill="#262626">0.13</text>
<text transform="translate(830.92 334.63) scale(1.0798 1)" x="-0.00 5.45 8.17 13.62" y="0" fill="#262626">0.00</text>
<text transform="translate(863.14 334.63) scale(1.0715 1)" x="-0.07 3.14 8.62 11.37 16.87" y="0" fill="#262626">-0.10</text>
<text transform="translate(897.07 334.63) scale(1.0715 1)" x="-0.07 3.14 8.62 11.37 16.87" y="0" fill="#262626">-0.00</text>
<text transform="translate(932.50 334.63) scale(1.0798 1)" x="-0.00 5.45 8.17 13.62" y="0" fill="#262626">0.11</text>
<text transform="translate(966.47 334.63) scale(1.0798 1)" x="-0.00 5.45 8.17 13.62" y="0" fill="#262626">0.25</text>
<text transform="translate(998.69 334.63) scale(1.0715 1)" x="-0.07 3.14 8.62 11.37 16.87" y="0" fill="#262626">-0.15</text>
<text transform="translate(1034.25 334.63) scale(1.0798 1)" x="-0.00 5.45 8.17 13.62" y="0" fill="#262626">0.00</text>
<text transform="translate(117.66 368.46) scale(1.0715 1)" x="-0.07 3.14 8.62 11.37 16.87" y="0" fill="#262626">-0.07</text>
<text transform="translate(151.55 368.46) scale(1.0715 1)" x="-0.07 3.14 8.62 11.37 16.87" y="0" fill="#262626">-0.02</text>
<text transform="translate(187.06 368.46) scale(1.0798 1)" x="-0.00 5.45 8.17 13.62" y="0" fill="#262626">0.00</text>
<text transform="translate(219.32 368.46) scale(1.0715 1)" x="-0.07 3.14 8.62 11.37 16.87" y="0" fill="#262626">-0.03</text>
<text transform="translate(253.17 368.46) scale(1.0715 1)" x="-0.07 3.14 8.62 11.37 16.87" y="0" fill="#262626">-0.01</text>
<text transform="translate(287.10 368.46) scale(1.0715 1)" x="-0.07 3.14 8.62 11.37 16.87" y="0" fill="#262626">-0.02</text>
<text transform="translate(320.99 368.46) scale(1.0715 1)" x="-0.07 3.14 8.62 11.37 16.87" y="0" fill="#262626">-0.03</text>
<text transform="translate(354.87 368.46) scale(1.0715 1)" x="-0.07 3.14 8.62 11.37 16.87" y="0" fill="#262626">-0.03</text>
<text transform="translate(390.39 368.46) scale(1.0798 1)" x="-0.00 5.45 8.17 13.62" y="0" fill="#262626">0.03</text>
<text transform="translate(422.65 368.46) scale(1.0715 1)" x="-0.07 3.14 8.62 11.37 16.87" y="0" fill="#262626">-0.00</text>
<text transform="translate(458.12 368.46) scale(1.0798 1)" x="-0.00 5.45 8.17 13.62" y="0" fill="#ffffff">1.00</text>
<text transform="translate(490.42 368.46) scale(1.0715 1)" x="-0.07 3.14 8.62 11.37 16.87" y="0" fill="#262626">-0.04</text>
<text transform="translate(525.94 368.46) scale(1.0798 1)" x="-0.00 5.45 8.17 13.62" y="0" fill="#262626">0.05</text>
<text transform="translate(559.82 368.46) scale(1.0798 1)" x="-0.00 5.45 8.17 13.62" y="0" fill="#262626">0.04</text>
<text transform="translate(593.67 368.46) scale(1.0798 1)" x="-0.00 5.45 8.17 13.62" y="0" fill="#262626">0.01</text>
<text transform="translate(625.93 368.46) scale(1.0715 1)" x="-0.07 3.14 8.62 11.37 16.87" y="0" fill="#262626">-0.01</text>
<text transform="translate(661.44 368.46) scale(1.0798 1)" x="-0.00 5.45 8.17 13.62" y="0" fill="#262626">0.06</text>
<text transform="translate(695.37 368.46) scale(1.0798 1)" x="-0.00 5.45 8.17 13.62" y="0" fill="#262626">0.04</text>
<text transform="translate(729.26 368.46) scale(1.0798 1)" x="-0.00 5.45 8.17 13.62" y="0" fill="#262626">0.02</text>
<text transform="translate(761.52 368.46) scale(1.0715 1)" x="-0.07 3.14 8.62 11.37 16.87" y="0" fill="#262626">-0.03</text>
<text transform="translate(795.37 368.46) scale(1.0715 1)" x="-0.07 3.14 8.62 11.37 16.87" y="0" fill="#262626">-0.01</text>
<text transform="translate(829.30 368.46) scale(1.0715 1)" x="-0.07 3.14 8.62 11.37 16.87" y="0" fill="#262626">-0.00</text>
<text transform="translate(863.19 368.46) scale(1.0715 1)" x="-0.07 3.14 8.62 11.37 16.87" y="0" fill="#262626">-0.05</text>
<text transform="translate(898.70 368.46) scale(1.0798 1)" x="-0.00 5.45 8.17 13.62" y="0" fill="#262626">0.02</text>
<text transform="translate(930.96 368.46) scale(1.0715 1)" x="-0.07 3.14 8.62 11.37 16.87" y="0" fill="#262626">-0.00</text>
<text transform="translate(966.47 368.46) scale(1.0798 1)" x="-0.00 5.45 8.17 13.62" y="0" fill="#262626">0.04</text>
<text transform="translate(998.69 368.46) scale(1.0715 1)" x="-0.07 3.14 8.62 11.37 16.87" y="0" fill="#262626">-0.06</text>
<text transform="translate(1034.25 368.46) scale(1.0798 1)" x="-0.00 5.45 8.17 13.62" y="0" fill="#262626">0.02</text>
<text transform="translate(119.24 402.29) scale(1.0798 1)" x="-0.00 5.45 8.17 13.62" y="0" fill="#262626">0.59</text>
<text transform="translate(151.51 402.29) scale(1.0715 1)" x="-0.07 3.14 8.62 11.37 16.87" y="0" fill="#262626">-0.12</text>
<text transform="translate(185.44 402.29) scale(1.0715 1)" x="-0.07 3.14 8.62 11.37 16.87" y="0" fill="#262626">-0.05</text>
<text transform="translate(220.95 402.29) scale(1.0798 1)" x="-0.00 5.45 8.17 13.62" y="0" fill="#262626">0.04</text>
<text transform="translate(254.79 402.29) scale(1.0798 1)" x="-0.00 5.45 8.17 13.62" y="0" fill="#262626">0.06</text>
<text transform="translate(288.68 402.29) scale(1.0798 1)" x="-0.00 5.45 8.17 13.62" y="0" fill="#262626">0.06</text>
<text transform="translate(322.61 402.29) scale(1.0798 1)" x="-0.00 5.45 8.17 13.62" y="0" fill="#262626">0.20</text>
<text transform="translate(356.50 402.29) scale(1.0798 1)" x="-0.00 5.45 8.17 13.62" y="0" fill="#262626">0.34</text>
<text transform="translate(388.72 402.29) scale(1.0715 1)" x="-0.07 3.14 8.62 11.37 16.87" y="0" fill="#262626">-0.15</text>
<text transform="translate(422.61 402.29) scale(1.0715 1)" x="-0.07 3.14 8.62 11.37 16.87" y="0" fill="#262626">-0.06</text>
<text transform="translate(456.54 402.29) scale(1.0715 1)" x="-0.07 3.14 8.62 11.37 16.87" y="0" fill="#262626">-0.04</text>
<text transform="translate(492.01 402.29) scale(1.0798 1)" x="-0.00 5.45 8.17 13.62" y="0" fill="#ffffff">1.00</text>
<text transform="translate(524.23 402.29) scale(1.0715 1)" x="-0.07 3.14 8.62 11.37 16.87" y="0" fill="#ffffff">-0.66</text>
<text transform="translate(558.20 402.29) scale(1.0715 1)" x="-0.07 3.14 8.62 11.37 16.87" y="0" fill="#ffffff">-0.32</text>
<text transform="translate(592.00 402.29) scale(1.0715 1)" x="-0.07 3.14 8.62 11.37 16.87" y="0" fill="#262626">-0.16</text>
<text transform="translate(625.93 402.29) scale(1.0715 1)" x="-0.07 3.14 8.62 11.37 16.87" y="0" fill="#262626">-0.10</text>
<text transform="translate(659.82 402.29) scale(1.0715 1)" x="-0.07 3.14 8.62 11.37 16.87" y="0" fill="#262626">-0.26</text>
<text transform="translate(693.75 402.29) scale(1.0715 1)" x="-0.07 3.14 8.62 11.37 16.87" y="0" fill="#262626">-0.07</text>
<text transform="translate(729.22 402.29) scale(1.0798 1)" x="-0.00 5.45 8.17 13.62" y="0" fill="#262626">0.10</text>
<text transform="translate(761.52 402.29) scale(1.0715 1)" x="-0.07 3.14 8.62 11.37 16.87" y="0" fill="#262626">-0.04</text>
<text transform="translate(796.99 402.29) scale(1.0798 1)" x="-0.00 5.45 8.17 13.62" y="0" fill="#262626">0.01</text>
<text transform="translate(829.26 402.29) scale(1.0715 1)" x="-0.07 3.14 8.62 11.37 16.87" y="0" fill="#262626">-0.15</text>
<text transform="translate(864.81 402.29) scale(1.0798 1)" x="-0.00 5.45 8.17 13.62" y="0" fill="#262626">0.22</text>
<text transform="translate(898.70 402.29) scale(1.0798 1)" x="-0.00 5.45 8.17 13.62" y="0" fill="#262626">0.07</text>
<text transform="translate(930.88 402.29) scale(1.0715 1)" x="-0.07 3.14 8.62 11.37 16.87" y="0" fill="#262626">-0.11</text>
<text transform="translate(964.81 402.29) scale(1.0715 1)" x="-0.07 3.14 8.62 11.37 16.87" y="0" fill="#262626">-0.26</text>
<text transform="translate(1000.32 402.29) scale(1.0798 1)" x="-0.00 5.45 8.17 13.62" y="0" fill="#262626">0.46</text>
<text transform="translate(1034.25 402.29) scale(1.0798 1)" x="-0.00 5.45 8.17 13.62" y="0" fill="#262626">0.04</text>
<text transform="translate(117.66 436.11) scale(1.0715 1)" x="-0.07 3.14 8.62 11.37 16.87" y="0" fill="#ffffff">-0.57</text>
<text transform="translate(153.17 436.11) scale(1.0798 1)" x="-0.00 5.45 8.17 13.62" y="0" fill="#262626">0.03</text>
<text transform="translate(187.02 436.11) scale(1.0798 1)" x="-0.00 5.45 8.17 13.62" y="0" fill="#262626">0.06</text>
<text transform="translate(219.32 436.11) scale(1.0715 1)" x="-0.07 3.14 8.62 11.37 16.87" y="0" fill="#262626">-0.07</text>
<text transform="translate(253.17 436.11) scale(1.0715 1)" x="-0.07 3.14 8.62 11.37 16.87" y="0" fill="#262626">-0.06</text>
<text transform="translate(287.10 436.11) scale(1.0715 1)" x="-0.07 3.14 8.62 11.37 16.87" y="0" fill="#262626">-0.05</text>
<text transform="translate(320.94 436.11) scale(1.0715 1)" x="-0.07 3.14 8.62 11.37 16.87" y="0" fill="#262626">-0.17</text>
<text transform="translate(354.87 436.11) scale(1.0715 1)" x="-0.07 3.14 8.62 11.37 16.87" y="0" fill="#ffffff">-0.34</text>
<text transform="translate(390.34 436.11) scale(1.0798 1)" x="-0.00 5.45 8.17 13.62" y="0" fill="#262626">0.14</text>
<text transform="translate(424.27 436.11) scale(1.0798 1)" x="-0.00 5.45 8.17 13.62" y="0" fill="#262626">0.05</text>
<text transform="translate(458.16 436.11) scale(1.0798 1)" x="-0.00 5.45 8.17 13.62" y="0" fill="#262626">0.05</text>
<text transform="translate(490.34 436.11) scale(1.0715 1)" x="-0.07 3.14 8.62 11.37 16.87" y="0" fill="#ffffff">-0.66</text>
<text transform="translate(525.89 436.11) scale(1.0798 1)" x="-0.00 5.45 8.17 13.62" y="0" fill="#ffffff">1.00</text>
<text transform="translate(559.82 436.11) scale(1.0798 1)" x="-0.00 5.45 8.17 13.62" y="0" fill="#262626">0.35</text>
<text transform="translate(593.67 436.11) scale(1.0798 1)" x="-0.00 5.45 8.17 13.62" y="0" fill="#262626">0.21</text>
<text transform="translate(627.60 436.11) scale(1.0798 1)" x="-0.00 5.45 8.17 13.62" y="0" fill="#262626">0.07</text>
<text transform="translate(661.49 436.11) scale(1.0798 1)" x="-0.00 5.45 8.17 13.62" y="0" fill="#262626">0.25</text>
<text transform="translate(695.37 436.11) scale(1.0798 1)" x="-0.00 5.45 8.17 13.62" y="0" fill="#262626">0.05</text>
<text transform="translate(727.59 436.11) scale(1.0715 1)" x="-0.07 3.14 8.62 11.37 16.87" y="0" fill="#262626">-0.13</text>
<text transform="translate(763.15 436.11) scale(1.0798 1)" x="-0.00 5.45 8.17 13.62" y="0" fill="#262626">0.07</text>
<text transform="translate(795.41 436.11) scale(1.0715 1)" x="-0.07 3.14 8.62 11.37 16.87" y="0" fill="#262626">-0.02</text>
<text transform="translate(830.88 436.11) scale(1.0798 1)" x="-0.00 5.45 8.17 13.62" y="0" fill="#262626">0.10</text>
<text transform="translate(863.10 436.11) scale(1.0715 1)" x="-0.07 3.14 8.62 11.37 16.87" y="0" fill="#262626">-0.19</text>
<text transform="translate(897.03 436.11) scale(1.0715 1)" x="-0.07 3.14 8.62 11.37 16.87" y="0" fill="#262626">-0.10</text>
<text transform="translate(932.54 436.11) scale(1.0798 1)" x="-0.00 5.45 8.17 13.62" y="0" fill="#262626">0.08</text>
<text transform="translate(966.47 436.11) scale(1.0798 1)" x="-0.00 5.45 8.17 13.62" y="0" fill="#262626">0.24</text>
<text transform="translate(998.74 436.11) scale(1.0715 1)" x="-0.07 3.14 8.62 11.37 16.87" y="0" fill="#ffffff">-0.44</text>
<text transform="translate(1032.62 436.11) scale(1.0715 1)" x="-0.07 3.14 8.62 11.37 16.87" y="0" fill="#262626">-0.04</text>
<text transform="translate(117.62 469.94) scale(1.0715 1)" x="-0.07 3.14 8.62 11.37 16.87" y="0" fill="#262626">-0.26</text>
<text transform="translate(151.51 469.94) scale(1.0715 1)" x="-0.07 3.14 8.62 11.37 16.87" y="0" fill="#262626">-0.13</text>
<text transform="translate(187.02 469.94) scale(1.0798 1)" x="-0.00 5.45 8.17 13.62" y="0" fill="#262626">0.13</text>
<text transform="translate(219.28 469.94) scale(1.0715 1)" x="-0.07 3.14 8.62 11.37 16.87" y="0" fill="#262626">-0.08</text>
<text transform="translate(253.21 469.94) scale(1.0715 1)" x="-0.07 3.14 8.62 11.37 16.87" y="0" fill="#262626">-0.02</text>
<text transform="translate(287.10 469.94) scale(1.0715 1)" x="-0.07 3.14 8.62 11.37 16.87" y="0" fill="#262626">-0.02</text>
<text transform="translate(320.94 469.94) scale(1.0715 1)" x="-0.07 3.14 8.62 11.37 16.87" y="0" fill="#262626">-0.06</text>
<text transform="translate(354.83 469.94) scale(1.0715 1)" x="-0.07 3.14 8.62 11.37 16.87" y="0" fill="#262626">-0.12</text>
<text transform="translate(390.34 469.94) scale(1.0798 1)" x="-0.00 5.45 8.17 13.62" y="0" fill="#262626">0.06</text>
<text transform="translate(424.19 469.94) scale(1.0798 1)" x="-0.00 5.45 8.17 13.62" y="0" fill="#262626">0.11</text>
<text transform="translate(458.16 469.94) scale(1.0798 1)" x="-0.00 5.45 8.17 13.62" y="0" fill="#262626">0.04</text>
<text transform="translate(490.42 469.94) scale(1.0715 1)" x="-0.07 3.14 8.62 11.37 16.87" y="0" fill="#ffffff">-0.32</text>
<text transform="translate(525.94 469.94) scale(1.0798 1)" x="-0.00 5.45 8.17 13.62" y="0" fill="#262626">0.35</text>
<text transform="translate(559.78 469.94) scale(1.0798 1)" x="-0.00 5.45 8.17 13.62" y="0" fill="#ffffff">1.00</text>
<text transform="translate(593.71 469.94) scale(1.0798 1)" x="-0.00 5.45 8.17 13.62" y="0" fill="#262626">0.27</text>
<text transform="translate(627.60 469.94) scale(1.0798 1)" x="-0.00 5.45 8.17 13.62" y="0" fill="#262626">0.03</text>
<text transform="translate(661.44 469.94) scale(1.0798 1)" x="-0.00 5.45 8.17 13.62" y="0" fill="#262626">0.14</text>
<text transform="translate(695.37 469.94) scale(1.0798 1)" x="-0.00 5.45 8.17 13.62" y="0" fill="#262626">0.04</text>
<text transform="translate(727.59 469.94) scale(1.0715 1)" x="-0.07 3.14 8.62 11.37 16.87" y="0" fill="#262626">-0.06</text>
<text transform="translate(763.15 469.94) scale(1.0798 1)" x="-0.00 5.45 8.17 13.62" y="0" fill="#262626">0.05</text>
<text transform="translate(797.04 469.94) scale(1.0798 1)" x="-0.00 5.45 8.17 13.62" y="0" fill="#262626">0.05</text>
<text transform="translate(830.92 469.94) scale(1.0798 1)" x="-0.00 5.45 8.17 13.62" y="0" fill="#262626">0.05</text>
<text transform="translate(863.14 469.94) scale(1.0715 1)" x="-0.07 3.14 8.62 11.37 16.87" y="0" fill="#262626">-0.12</text>
<text transform="translate(897.07 469.94) scale(1.0715 1)" x="-0.07 3.14 8.62 11.37 16.87" y="0" fill="#262626">-0.05</text>
<text transform="translate(932.59 469.94) scale(1.0798 1)" x="-0.00 5.45 8.17 13.62" y="0" fill="#262626">0.05</text>
<text transform="translate(966.43 469.94) scale(1.0798 1)" x="-0.00 5.45 8.17 13.62" y="0" fill="#262626">0.17</text>
<text transform="translate(998.74 469.94) scale(1.0715 1)" x="-0.07 3.14 8.62 11.37 16.87" y="0" fill="#262626">-0.23</text>
<text transform="translate(1032.62 469.94) scale(1.0715 1)" x="-0.07 3.14 8.62 11.37 16.87" y="0" fill="#262626">-0.04</text>
<text transform="translate(117.62 503.77) scale(1.0715 1)" x="-0.07 3.14 8.62 11.37 16.87" y="0" fill="#262626">-0.21</text>
<text transform="translate(151.51 503.77) scale(1.0715 1)" x="-0.07 3.14 8.62 11.37 16.87" y="0" fill="#262626">-0.09</text>
<text transform="translate(186.98 503.77) scale(1.0798 1)" x="-0.00 5.45 8.17 13.62" y="0" fill="#262626">0.11</text>
<text transform="translate(219.32 503.77) scale(1.0715 1)" x="-0.07 3.14 8.62 11.37 16.87" y="0" fill="#262626">-0.04</text>
<text transform="translate(253.17 503.77) scale(1.0715 1)" x="-0.07 3.14 8.62 11.37 16.87" y="0" fill="#262626">-0.01</text>
<text transform="translate(287.06 503.77) scale(1.0715 1)" x="-0.07 3.14 8.62 11.37 16.87" y="0" fill="#262626">-0.01</text>
<text transform="translate(320.94 503.77) scale(1.0715 1)" x="-0.07 3.14 8.62 11.37 16.87" y="0" fill="#262626">-0.06</text>
<text transform="translate(354.87 503.77) scale(1.0715 1)" x="-0.07 3.14 8.62 11.37 16.87" y="0" fill="#262626">-0.03</text>
<text transform="translate(390.39 503.77) scale(1.0798 1)" x="-0.00 5.45 8.17 13.62" y="0" fill="#262626">0.04</text>
<text transform="translate(424.23 503.77) scale(1.0798 1)" x="-0.00 5.45 8.17 13.62" y="0" fill="#262626">0.12</text>
<text transform="translate(458.12 503.77) scale(1.0798 1)" x="-0.00 5.45 8.17 13.62" y="0" fill="#262626">0.01</text>
<text transform="translate(490.34 503.77) scale(1.0715 1)" x="-0.07 3.14 8.62 11.37 16.87" y="0" fill="#262626">-0.16</text>
<text transform="translate(525.89 503.77) scale(1.0798 1)" x="-0.00 5.45 8.17 13.62" y="0" fill="#262626">0.21</text>
<text transform="translate(559.82 503.77) scale(1.0798 1)" x="-0.00 5.45 8.17 13.62" y="0" fill="#262626">0.27</text>
<text transform="translate(593.67 503.77) scale(1.0798 1)" x="-0.00 5.45 8.17 13.62" y="0" fill="#ffffff">1.00</text>
<text transform="translate(625.97 503.77) scale(1.0715 1)" x="-0.07 3.14 8.62 11.37 16.87" y="0" fill="#262626">-0.00</text>
<text transform="translate(661.44 503.77) scale(1.0798 1)" x="-0.00 5.45 8.17 13.62" y="0" fill="#262626">0.13</text>
<text transform="translate(695.37 503.77) scale(1.0798 1)" x="-0.00 5.45 8.17 13.62" y="0" fill="#262626">0.03</text>
<text transform="translate(727.64 503.77) scale(1.0715 1)" x="-0.07 3.14 8.62 11.37 16.87" y="0" fill="#262626">-0.05</text>
<text transform="translate(763.15 503.77) scale(1.0798 1)" x="-0.00 5.45 8.17 13.62" y="0" fill="#262626">0.05</text>
<text transform="translate(796.99 503.77) scale(1.0798 1)" x="-0.00 5.45 8.17 13.62" y="0" fill="#262626">0.10</text>
<text transform="translate(830.92 503.77) scale(1.0798 1)" x="-0.00 5.45 8.17 13.62" y="0" fill="#262626">0.03</text>
<text transform="translate(863.14 503.77) scale(1.0715 1)" x="-0.07 3.14 8.62 11.37 16.87" y="0" fill="#262626">-0.10</text>
<text transform="translate(897.07 503.77) scale(1.0715 1)" x="-0.07 3.14 8.62 11.37 16.87" y="0" fill="#262626">-0.03</text>
<text transform="translate(932.59 503.77) scale(1.0798 1)" x="-0.00 5.45 8.17 13.62" y="0" fill="#262626">0.04</text>
<text transform="translate(966.47 503.77) scale(1.0798 1)" x="-0.00 5.45 8.17 13.62" y="0" fill="#262626">0.20</text>
<text transform="translate(998.69 503.77) scale(1.0715 1)" x="-0.07 3.14 8.62 11.37 16.87" y="0" fill="#262626">-0.17</text>
<text transform="translate(1034.25 503.77) scale(1.0798 1)" x="-0.00 5.45 8.17 13.62" y="0" fill="#262626">0.00</text>
<text transform="translate(117.66 537.60) scale(1.0715 1)" x="-0.07 3.14 8.62 11.37 16.87" y="0" fill="#262626">-0.25</text>
<text transform="translate(153.13 537.60) scale(1.0798 1)" x="-0.00 5.45 8.17 13.62" y="0" fill="#262626">0.31</text>
<text transform="translate(185.35 537.60) scale(1.0715 1)" x="-0.07 3.14 8.62 11.37 16.87" y="0" fill="#262626">-0.11</text>
<text transform="translate(220.95 537.60) scale(1.0798 1)" x="-0.00 5.45 8.17 13.62" y="0" fill="#262626">0.00</text>
<text transform="translate(254.84 537.60) scale(1.0798 1)" x="-0.00 5.45 8.17 13.62" y="0" fill="#262626">0.02</text>
<text transform="translate(288.68 537.60) scale(1.0798 1)" x="-0.00 5.45 8.17 13.62" y="0" fill="#262626">0.06</text>
<text transform="translate(320.94 537.60) scale(1.0715 1)" x="-0.07 3.14 8.62 11.37 16.87" y="0" fill="#262626">-0.08</text>
<text transform="translate(354.79 537.60) scale(1.0715 1)" x="-0.07 3.14 8.62 11.37 16.87" y="0" fill="#262626">-0.16</text>
<text transform="translate(390.34 537.60) scale(1.0798 1)" x="-0.00 5.45 8.17 13.62" y="0" fill="#262626">0.17</text>
<text transform="translate(424.27 537.60) scale(1.0798 1)" x="-0.00 5.45 8.17 13.62" y="0" fill="#262626">0.05</text>
<text transform="translate(456.49 537.60) scale(1.0715 1)" x="-0.07 3.14 8.62 11.37 16.87" y="0" fill="#262626">-0.01</text>
<text transform="translate(490.38 537.60) scale(1.0715 1)" x="-0.07 3.14 8.62 11.37 16.87" y="0" fill="#262626">-0.10</text>
<text transform="translate(525.94 537.60) scale(1.0798 1)" x="-0.00 5.45 8.17 13.62" y="0" fill="#262626">0.07</text>
<text transform="translate(559.82 537.60) scale(1.0798 1)" x="-0.00 5.45 8.17 13.62" y="0" fill="#262626">0.03</text>
<text transform="translate(592.09 537.60) scale(1.0715 1)" x="-0.07 3.14 8.62 11.37 16.87" y="0" fill="#262626">-0.00</text>
<text transform="translate(627.56 537.60) scale(1.0798 1)" x="-0.00 5.45 8.17 13.62" y="0" fill="#ffffff">1.00</text>
<text transform="translate(661.49 537.60) scale(1.0798 1)" x="-0.00 5.45 8.17 13.62" y="0" fill="#262626">0.22</text>
<text transform="translate(693.71 537.60) scale(1.0715 1)" x="-0.07 3.14 8.62 11.37 16.87" y="0" fill="#262626">-0.08</text>
<text transform="translate(729.26 537.60) scale(1.0798 1)" x="-0.00 5.45 8.17 13.62" y="0" fill="#262626">0.02</text>
<text transform="translate(763.11 537.60) scale(1.0798 1)" x="-0.00 5.45 8.17 13.62" y="0" fill="#262626">0.10</text>
<text transform="translate(797.04 537.60) scale(1.0798 1)" x="-0.00 5.45 8.17 13.62" y="0" fill="#262626">0.07</text>
<text transform="translate(830.88 537.60) scale(1.0798 1)" x="-0.00 5.45 8.17 13.62" y="0" fill="#262626">0.09</text>
<text transform="translate(864.81 537.60) scale(1.0798 1)" x="-0.00 5.45 8.17 13.62" y="0" fill="#262626">0.07</text>
<text transform="translate(898.70 537.60) scale(1.0798 1)" x="-0.00 5.45 8.17 13.62" y="0" fill="#262626">0.03</text>
<text transform="translate(932.59 537.60) scale(1.0798 1)" x="-0.00 5.45 8.17 13.62" y="0" fill="#262626">0.05</text>
<text transform="translate(966.47 537.60) scale(1.0798 1)" x="-0.00 5.45 8.17 13.62" y="0" fill="#262626">0.05</text>
<text transform="translate(998.65 537.60) scale(1.0715 1)" x="-0.07 3.14 8.62 11.37 16.87" y="0" fill="#262626">-0.19</text>
<text transform="translate(1034.21 537.60) scale(1.0798 1)" x="-0.00 5.45 8.17 13.62" y="0" fill="#262626">0.01</text>
<text transform="translate(117.66 571.43) scale(1.0715 1)" x="-0.07 3.14 8.62 11.37 16.87" y="0" fill="#ffffff">-0.47</text>
<text transform="translate(153.17 571.43) scale(1.0798 1)" x="-0.00 5.45 8.17 13.62" y="0" fill="#262626">0.05</text>
<text transform="translate(186.98 571.43) scale(1.0798 1)" x="-0.00 5.45 8.17 13.62" y="0" fill="#262626">0.16</text>
<text transform="translate(219.28 571.43) scale(1.0715 1)" x="-0.07 3.14 8.62 11.37 16.87" y="0" fill="#262626">-0.06</text>
<text transform="translate(254.75 571.43) scale(1.0798 1)" x="-0.00 5.45 8.17 13.62" y="0" fill="#262626">0.11</text>
<text transform="translate(288.68 571.43) scale(1.0798 1)" x="-0.00 5.45 8.17 13.62" y="0" fill="#262626">0.10</text>
<text transform="translate(320.90 571.43) scale(1.0715 1)" x="-0.07 3.14 8.62 11.37 16.87" y="0" fill="#262626">-0.11</text>
<text transform="translate(354.83 571.43) scale(1.0715 1)" x="-0.07 3.14 8.62 11.37 16.87" y="0" fill="#262626">-0.10</text>
<text transform="translate(390.39 571.43) scale(1.0798 1)" x="-0.00 5.45 8.17 13.62" y="0" fill="#262626">0.05</text>
<text transform="translate(424.23 571.43) scale(1.0798 1)" x="-0.00 5.45 8.17 13.62" y="0" fill="#262626">0.15</text>
<text transform="translate(458.12 571.43) scale(1.0798 1)" x="-0.00 5.45 8.17 13.62" y="0" fill="#262626">0.06</text>
<text transform="translate(490.38 571.43) scale(1.0715 1)" x="-0.07 3.14 8.62 11.37 16.87" y="0" fill="#262626">-0.26</text>
<text transform="translate(525.94 571.43) scale(1.0798 1)" x="-0.00 5.45 8.17 13.62" y="0" fill="#262626">0.25</text>
<text transform="translate(559.78 571.43) scale(1.0798 1)" x="-0.00 5.45 8.17 13.62" y="0" fill="#262626">0.14</text>
<text transform="translate(593.67 571.43) scale(1.0798 1)" x="-0.00 5.45 8.17 13.62" y="0" fill="#262626">0.13</text>
<text transform="translate(627.60 571.43) scale(1.0798 1)" x="-0.00 5.45 8.17 13.62" y="0" fill="#262626">0.22</text>
<text transform="translate(661.44 571.43) scale(1.0798 1)" x="-0.00 5.45 8.17 13.62" y="0" fill="#ffffff">1.00</text>
<text transform="translate(695.33 571.43) scale(1.0798 1)" x="-0.00 5.45 8.17 13.62" y="0" fill="#262626">0.10</text>
<text transform="translate(729.26 571.43) scale(1.0798 1)" x="-0.00 5.45 8.17 13.62" y="0" fill="#262626">0.02</text>
<text transform="translate(763.11 571.43) scale(1.0798 1)" x="-0.00 5.45 8.17 13.62" y="0" fill="#262626">0.15</text>
<text transform="translate(796.95 571.43) scale(1.0798 1)" x="-0.00 5.45 8.17 13.62" y="0" fill="#262626">0.16</text>
<text transform="translate(830.88 571.43) scale(1.0798 1)" x="-0.00 5.45 8.17 13.62" y="0" fill="#262626">0.06</text>
<text transform="translate(863.14 571.43) scale(1.0715 1)" x="-0.07 3.14 8.62 11.37 16.87" y="0" fill="#262626">-0.15</text>
<text transform="translate(898.70 571.43) scale(1.0798 1)" x="-0.00 5.45 8.17 13.62" y="0" fill="#262626">0.04</text>
<text transform="translate(932.54 571.43) scale(1.0798 1)" x="-0.00 5.45 8.17 13.62" y="0" fill="#262626">0.17</text>
<text transform="translate(966.47 571.43) scale(1.0798 1)" x="-0.00 5.45 8.17 13.62" y="0" fill="#262626">0.35</text>
<text transform="translate(998.69 571.43) scale(1.0715 1)" x="-0.07 3.14 8.62 11.37 16.87" y="0" fill="#ffffff">-0.36</text>
<text transform="translate(1032.58 571.43) scale(1.0715 1)" x="-0.07 3.14 8.62 11.37 16.87" y="0" fill="#262626">-0.01</text>
<text transform="translate(117.62 605.25) scale(1.0715 1)" x="-0.07 3.14 8.62 11.37 16.87" y="0" fill="#262626">-0.12</text>
<text transform="translate(153.17 605.25) scale(1.0798 1)" x="-0.00 5.45 8.17 13.62" y="0" fill="#262626">0.03</text>
<text transform="translate(187.06 605.25) scale(1.0798 1)" x="-0.00 5.45 8.17 13.62" y="0" fill="#262626">0.03</text>
<text transform="translate(220.95 605.25) scale(1.0798 1)" x="-0.00 5.45 8.17 13.62" y="0" fill="#262626">0.02</text>
<text transform="translate(254.79 605.25) scale(1.0798 1)" x="-0.00 5.45 8.17 13.62" y="0" fill="#262626">0.12</text>
<text transform="translate(288.68 605.25) scale(1.0798 1)" x="-0.00 5.45 8.17 13.62" y="0" fill="#262626">0.14</text>
<text transform="translate(322.61 605.25) scale(1.0798 1)" x="-0.00 5.45 8.17 13.62" y="0" fill="#262626">0.07</text>
<text transform="translate(356.50 605.25) scale(1.0798 1)" x="-0.00 5.45 8.17 13.62" y="0" fill="#262626">0.27</text>
<text transform="translate(388.76 605.25) scale(1.0715 1)" x="-0.07 3.14 8.62 11.37 16.87" y="0" fill="#262626">-0.05</text>
<text transform="translate(424.23 605.25) scale(1.0798 1)" x="-0.00 5.45 8.17 13.62" y="0" fill="#262626">0.09</text>
<text transform="translate(458.16 605.25) scale(1.0798 1)" x="-0.00 5.45 8.17 13.62" y="0" fill="#262626">0.04</text>
<text transform="translate(490.42 605.25) scale(1.0715 1)" x="-0.07 3.14 8.62 11.37 16.87" y="0" fill="#262626">-0.07</text>
<text transform="translate(525.94 605.25) scale(1.0798 1)" x="-0.00 5.45 8.17 13.62" y="0" fill="#262626">0.05</text>
<text transform="translate(559.82 605.25) scale(1.0798 1)" x="-0.00 5.45 8.17 13.62" y="0" fill="#262626">0.04</text>
<text transform="translate(593.71 605.25) scale(1.0798 1)" x="-0.00 5.45 8.17 13.62" y="0" fill="#262626">0.03</text>
<text transform="translate(625.93 605.25) scale(1.0715 1)" x="-0.07 3.14 8.62 11.37 16.87" y="0" fill="#262626">-0.08</text>
<text transform="translate(661.44 605.25) scale(1.0798 1)" x="-0.00 5.45 8.17 13.62" y="0" fill="#262626">0.10</text>
<text transform="translate(695.33 605.25) scale(1.0798 1)" x="-0.00 5.45 8.17 13.62" y="0" fill="#ffffff">1.00</text>
<text transform="translate(729.22 605.25) scale(1.0798 1)" x="-0.00 5.45 8.17 13.62" y="0" fill="#262626">0.38</text>
<text transform="translate(763.06 605.25) scale(1.0798 1)" x="-0.00 5.45 8.17 13.62" y="0" fill="#262626">0.11</text>
<text transform="translate(797.04 605.25) scale(1.0798 1)" x="-0.00 5.45 8.17 13.62" y="0" fill="#262626">0.22</text>
<text transform="translate(830.84 605.25) scale(1.0798 1)" x="-0.00 5.45 8.17 13.62" y="0" fill="#262626">0.11</text>
<text transform="translate(863.19 605.25) scale(1.0715 1)" x="-0.07 3.14 8.62 11.37 16.87" y="0" fill="#ffffff">-0.35</text>
<text transform="translate(898.70 605.25) scale(1.0798 1)" x="-0.00 5.45 8.17 13.62" y="0" fill="#262626">0.23</text>
<text transform="translate(932.54 605.25) scale(1.0798 1)" x="-0.00 5.45 8.17 13.62" y="0" fill="#262626">0.26</text>
<text transform="translate(966.43 605.25) scale(1.0798 1)" x="-0.00 5.45 8.17 13.62" y="0" fill="#262626">0.31</text>
<text transform="translate(998.69 605.25) scale(1.0715 1)" x="-0.07 3.14 8.62 11.37 16.87" y="0" fill="#262626">-0.06</text>
<text transform="translate(1034.21 605.25) scale(1.0798 1)" x="-0.00 5.45 8.17 13.62" y="0" fill="#262626">0.08</text>
<text transform="translate(119.24 639.08) scale(1.0798 1)" x="-0.00 5.45 8.17 13.62" y="0" fill="#262626">0.10</text>
<text transform="translate(153.13 639.08) scale(1.0798 1)" x="-0.00 5.45 8.17 13.62" y="0" fill="#262626">0.15</text>
<text transform="translate(185.39 639.08) scale(1.0715 1)" x="-0.07 3.14 8.62 11.37 16.87" y="0" fill="#262626">-0.09</text>
<text transform="translate(220.95 639.08) scale(1.0798 1)" x="-0.00 5.45 8.17 13.62" y="0" fill="#262626">0.03</text>
<text transform="translate(254.79 639.08) scale(1.0798 1)" x="-0.00 5.45 8.17 13.62" y="0" fill="#262626">0.10</text>
<text transform="translate(288.68 639.08) scale(1.0798 1)" x="-0.00 5.45 8.17 13.62" y="0" fill="#262626">0.12</text>
<text transform="translate(322.57 639.08) scale(1.0798 1)" x="-0.00 5.45 8.17 13.62" y="0" fill="#262626">0.09</text>
<text transform="translate(356.50 639.08) scale(1.0798 1)" x="-0.00 5.45 8.17 13.62" y="0" fill="#262626">0.23</text>
<text transform="translate(388.76 639.08) scale(1.0715 1)" x="-0.07 3.14 8.62 11.37 16.87" y="0" fill="#262626">-0.07</text>
<text transform="translate(422.61 639.08) scale(1.0715 1)" x="-0.07 3.14 8.62 11.37 16.87" y="0" fill="#262626">-0.01</text>
<text transform="translate(458.16 639.08) scale(1.0798 1)" x="-0.00 5.45 8.17 13.62" y="0" fill="#262626">0.02</text>
<text transform="translate(492.01 639.08) scale(1.0798 1)" x="-0.00 5.45 8.17 13.62" y="0" fill="#262626">0.10</text>
<text transform="translate(524.27 639.08) scale(1.0715 1)" x="-0.07 3.14 8.62 11.37 16.87" y="0" fill="#262626">-0.13</text>
<text transform="translate(558.16 639.08) scale(1.0715 1)" x="-0.07 3.14 8.62 11.37 16.87" y="0" fill="#262626">-0.06</text>
<text transform="translate(592.09 639.08) scale(1.0715 1)" x="-0.07 3.14 8.62 11.37 16.87" y="0" fill="#262626">-0.05</text>
<text transform="translate(627.60 639.08) scale(1.0798 1)" x="-0.00 5.45 8.17 13.62" y="0" fill="#262626">0.02</text>
<text transform="translate(661.49 639.08) scale(1.0798 1)" x="-0.00 5.45 8.17 13.62" y="0" fill="#262626">0.02</text>
<text transform="translate(695.33 639.08) scale(1.0798 1)" x="-0.00 5.45 8.17 13.62" y="0" fill="#262626">0.38</text>
<text transform="translate(729.22 639.08) scale(1.0798 1)" x="-0.00 5.45 8.17 13.62" y="0" fill="#ffffff">1.00</text>
<text transform="translate(763.11 639.08) scale(1.0798 1)" x="-0.00 5.45 8.17 13.62" y="0" fill="#262626">0.10</text>
<text transform="translate(796.99 639.08) scale(1.0798 1)" x="-0.00 5.45 8.17 13.62" y="0" fill="#262626">0.12</text>
<text transform="translate(830.92 639.08) scale(1.0798 1)" x="-0.00 5.45 8.17 13.62" y="0" fill="#262626">0.07</text>
<text transform="translate(864.77 639.08) scale(1.0798 1)" x="-0.00 5.45 8.17 13.62" y="0" fill="#262626">0.29</text>
<text transform="translate(898.66 639.08) scale(1.0798 1)" x="-0.00 5.45 8.17 13.62" y="0" fill="#ffffff">0.94</text>
<text transform="translate(932.50 639.08) scale(1.0798 1)" x="-0.00 5.45 8.17 13.62" y="0" fill="#262626">0.19</text>
<text transform="translate(966.43 639.08) scale(1.0798 1)" x="-0.00 5.45 8.17 13.62" y="0" fill="#262626">0.01</text>
<text transform="translate(1000.28 639.08) scale(1.0798 1)" x="-0.00 5.45 8.17 13.62" y="0" fill="#262626">0.11</text>
<text transform="translate(1034.25 639.08) scale(1.0798 1)" x="-0.00 5.45 8.17 13.62" y="0" fill="#262626">0.04</text>
<text transform="translate(117.62 672.91) scale(1.0715 1)" x="-0.07 3.14 8.62 11.37 16.87" y="0" fill="#262626">-0.21</text>
<text transform="translate(153.17 672.91) scale(1.0798 1)" x="-0.00 5.45 8.17 13.62" y="0" fill="#262626">0.04</text>
<text transform="translate(187.06 672.91) scale(1.0798 1)" x="-0.00 5.45 8.17 13.62" y="0" fill="#262626">0.04</text>
<text transform="translate(219.32 672.91) scale(1.0715 1)" x="-0.07 3.14 8.62 11.37 16.87" y="0" fill="#262626">-0.04</text>
<text transform="translate(254.84 672.91) scale(1.0798 1)" x="-0.00 5.45 8.17 13.62" y="0" fill="#262626">0.05</text>
<text transform="translate(288.72 672.91) scale(1.0798 1)" x="-0.00 5.45 8.17 13.62" y="0" fill="#262626">0.07</text>
<text transform="translate(320.99 672.91) scale(1.0715 1)" x="-0.07 3.14 8.62 11.37 16.87" y="0" fill="#262626">-0.03</text>
<text transform="translate(354.87 672.91) scale(1.0715 1)" x="-0.07 3.14 8.62 11.37 16.87" y="0" fill="#262626">-0.00</text>
<text transform="translate(390.30 672.91) scale(1.0798 1)" x="-0.00 5.45 8.17 13.62" y="0" fill="#262626">0.11</text>
<text transform="translate(424.27 672.91) scale(1.0798 1)" x="-0.00 5.45 8.17 13.62" y="0" fill="#262626">0.04</text>
<text transform="translate(456.54 672.91) scale(1.0715 1)" x="-0.07 3.14 8.62 11.37 16.87" y="0" fill="#262626">-0.03</text>
<text transform="translate(490.42 672.91) scale(1.0715 1)" x="-0.07 3.14 8.62 11.37 16.87" y="0" fill="#262626">-0.04</text>
<text transform="translate(525.94 672.91) scale(1.0798 1)" x="-0.00 5.45 8.17 13.62" y="0" fill="#262626">0.07</text>
<text transform="translate(559.82 672.91) scale(1.0798 1)" x="-0.00 5.45 8.17 13.62" y="0" fill="#262626">0.05</text>
<text transform="translate(593.71 672.91) scale(1.0798 1)" x="-0.00 5.45 8.17 13.62" y="0" fill="#262626">0.05</text>
<text transform="translate(627.56 672.91) scale(1.0798 1)" x="-0.00 5.45 8.17 13.62" y="0" fill="#262626">0.10</text>
<text transform="translate(661.44 672.91) scale(1.0798 1)" x="-0.00 5.45 8.17 13.62" y="0" fill="#262626">0.15</text>
<text transform="translate(695.29 672.91) scale(1.0798 1)" x="-0.00 5.45 8.17 13.62" y="0" fill="#262626">0.11</text>
<text transform="translate(729.22 672.91) scale(1.0798 1)" x="-0.00 5.45 8.17 13.62" y="0" fill="#262626">0.10</text>
<text transform="translate(763.11 672.91) scale(1.0798 1)" x="-0.00 5.45 8.17 13.62" y="0" fill="#ffffff">1.00</text>
<text transform="translate(797.04 672.91) scale(1.0798 1)" x="-0.00 5.45 8.17 13.62" y="0" fill="#ffffff">0.74</text>
<text transform="translate(830.84 672.91) scale(1.0798 1)" x="-0.00 5.45 8.17 13.62" y="0" fill="#262626">0.16</text>
<text transform="translate(863.14 672.91) scale(1.0715 1)" x="-0.07 3.14 8.62 11.37 16.87" y="0" fill="#262626">-0.01</text>
<text transform="translate(898.70 672.91) scale(1.0798 1)" x="-0.00 5.45 8.17 13.62" y="0" fill="#262626">0.07</text>
<text transform="translate(932.54 672.91) scale(1.0798 1)" x="-0.00 5.45 8.17 13.62" y="0" fill="#262626">0.38</text>
<text transform="translate(966.39 672.91) scale(1.0798 1)" x="-0.00 5.45 8.17 13.62" y="0" fill="#262626">0.18</text>
<text transform="translate(998.69 672.91) scale(1.0715 1)" x="-0.07 3.14 8.62 11.37 16.87" y="0" fill="#262626">-0.15</text>
<text transform="translate(1034.25 672.91) scale(1.0798 1)" x="-0.00 5.45 8.17 13.62" y="0" fill="#262626">0.03</text>
<text transform="translate(117.66 706.74) scale(1.0715 1)" x="-0.07 3.14 8.62 11.37 16.87" y="0" fill="#262626">-0.20</text>
<text transform="translate(151.55 706.74) scale(1.0715 1)" x="-0.07 3.14 8.62 11.37 16.87" y="0" fill="#262626">-0.07</text>
<text transform="translate(187.02 706.74) scale(1.0798 1)" x="-0.00 5.45 8.17 13.62" y="0" fill="#262626">0.12</text>
<text transform="translate(219.32 706.74) scale(1.0715 1)" x="-0.07 3.14 8.62 11.37 16.87" y="0" fill="#262626">-0.03</text>
<text transform="translate(254.79 706.74) scale(1.0798 1)" x="-0.00 5.45 8.17 13.62" y="0" fill="#262626">0.12</text>
<text transform="translate(288.68 706.74) scale(1.0798 1)" x="-0.00 5.45 8.17 13.62" y="0" fill="#262626">0.12</text>
<text transform="translate(322.61 706.74) scale(1.0798 1)" x="-0.00 5.45 8.17 13.62" y="0" fill="#262626">0.02</text>
<text transform="translate(356.41 706.74) scale(1.0798 1)" x="-0.00 5.45 8.17 13.62" y="0" fill="#262626">0.18</text>
<text transform="translate(390.39 706.74) scale(1.0798 1)" x="-0.00 5.45 8.17 13.62" y="0" fill="#262626">0.04</text>
<text transform="translate(424.23 706.74) scale(1.0798 1)" x="-0.00 5.45 8.17 13.62" y="0" fill="#262626">0.13</text>
<text transform="translate(456.49 706.74) scale(1.0715 1)" x="-0.07 3.14 8.62 11.37 16.87" y="0" fill="#262626">-0.01</text>
<text transform="translate(492.01 706.74) scale(1.0798 1)" x="-0.00 5.45 8.17 13.62" y="0" fill="#262626">0.01</text>
<text transform="translate(524.31 706.74) scale(1.0715 1)" x="-0.07 3.14 8.62 11.37 16.87" y="0" fill="#262626">-0.02</text>
<text transform="translate(559.82 706.74) scale(1.0798 1)" x="-0.00 5.45 8.17 13.62" y="0" fill="#262626">0.05</text>
<text transform="translate(593.67 706.74) scale(1.0798 1)" x="-0.00 5.45 8.17 13.62" y="0" fill="#262626">0.10</text>
<text transform="translate(627.60 706.74) scale(1.0798 1)" x="-0.00 5.45 8.17 13.62" y="0" fill="#262626">0.07</text>
<text transform="translate(661.40 706.74) scale(1.0798 1)" x="-0.00 5.45 8.17 13.62" y="0" fill="#262626">0.16</text>
<text transform="translate(695.37 706.74) scale(1.0798 1)" x="-0.00 5.45 8.17 13.62" y="0" fill="#262626">0.22</text>
<text transform="translate(729.22 706.74) scale(1.0798 1)" x="-0.00 5.45 8.17 13.62" y="0" fill="#262626">0.12</text>
<text transform="translate(763.15 706.74) scale(1.0798 1)" x="-0.00 5.45 8.17 13.62" y="0" fill="#ffffff">0.74</text>
<text transform="translate(796.99 706.74) scale(1.0798 1)" x="-0.00 5.45 8.17 13.62" y="0" fill="#ffffff">1.00</text>
<text transform="translate(830.88 706.74) scale(1.0798 1)" x="-0.00 5.45 8.17 13.62" y="0" fill="#262626">0.15</text>
<text transform="translate(863.14 706.74) scale(1.0715 1)" x="-0.07 3.14 8.62 11.37 16.87" y="0" fill="#262626">-0.10</text>
<text transform="translate(898.66 706.74) scale(1.0798 1)" x="-0.00 5.45 8.17 13.62" y="0" fill="#262626">0.10</text>
<text transform="translate(932.59 706.74) scale(1.0798 1)" x="-0.00 5.45 8.17 13.62" y="0" fill="#262626">0.53</text>
<text transform="translate(966.47 706.74) scale(1.0798 1)" x="-0.00 5.45 8.17 13.62" y="0" fill="#262626">0.34</text>
<text transform="translate(998.69 706.74) scale(1.0715 1)" x="-0.07 3.14 8.62 11.37 16.87" y="0" fill="#262626">-0.15</text>
<text transform="translate(1034.25 706.74) scale(1.0798 1)" x="-0.00 5.45 8.17 13.62" y="0" fill="#262626">0.05</text>
<text transform="translate(117.62 740.57) scale(1.0715 1)" x="-0.07 3.14 8.62 11.37 16.87" y="0" fill="#262626">-0.17</text>
<text transform="translate(153.09 740.57) scale(1.0798 1)" x="-0.00 5.45 8.17 13.62" y="0" fill="#262626">0.18</text>
<text transform="translate(185.39 740.57) scale(1.0715 1)" x="-0.07 3.14 8.62 11.37 16.87" y="0" fill="#262626">-0.06</text>
<text transform="translate(220.95 740.57) scale(1.0798 1)" x="-0.00 5.45 8.17 13.62" y="0" fill="#262626">0.02</text>
<text transform="translate(254.79 740.57) scale(1.0798 1)" x="-0.00 5.45 8.17 13.62" y="0" fill="#262626">0.10</text>
<text transform="translate(288.68 740.57) scale(1.0798 1)" x="-0.00 5.45 8.17 13.62" y="0" fill="#262626">0.14</text>
<text transform="translate(320.99 740.57) scale(1.0715 1)" x="-0.07 3.14 8.62 11.37 16.87" y="0" fill="#262626">-0.00</text>
<text transform="translate(356.50 740.57) scale(1.0798 1)" x="-0.00 5.45 8.17 13.62" y="0" fill="#262626">0.02</text>
<text transform="translate(390.39 740.57) scale(1.0798 1)" x="-0.00 5.45 8.17 13.62" y="0" fill="#262626">0.04</text>
<text transform="translate(424.27 740.57) scale(1.0798 1)" x="-0.00 5.45 8.17 13.62" y="0" fill="#262626">0.00</text>
<text transform="translate(456.54 740.57) scale(1.0715 1)" x="-0.07 3.14 8.62 11.37 16.87" y="0" fill="#262626">-0.00</text>
<text transform="translate(490.38 740.57) scale(1.0715 1)" x="-0.07 3.14 8.62 11.37 16.87" y="0" fill="#262626">-0.15</text>
<text transform="translate(525.89 740.57) scale(1.0798 1)" x="-0.00 5.45 8.17 13.62" y="0" fill="#262626">0.10</text>
<text transform="translate(559.82 740.57) scale(1.0798 1)" x="-0.00 5.45 8.17 13.62" y="0" fill="#262626">0.05</text>
<text transform="translate(593.71 740.57) scale(1.0798 1)" x="-0.00 5.45 8.17 13.62" y="0" fill="#262626">0.03</text>
<text transform="translate(627.56 740.57) scale(1.0798 1)" x="-0.00 5.45 8.17 13.62" y="0" fill="#262626">0.09</text>
<text transform="translate(661.44 740.57) scale(1.0798 1)" x="-0.00 5.45 8.17 13.62" y="0" fill="#262626">0.06</text>
<text transform="translate(695.29 740.57) scale(1.0798 1)" x="-0.00 5.45 8.17 13.62" y="0" fill="#262626">0.11</text>
<text transform="translate(729.26 740.57) scale(1.0798 1)" x="-0.00 5.45 8.17 13.62" y="0" fill="#262626">0.07</text>
<text transform="translate(763.06 740.57) scale(1.0798 1)" x="-0.00 5.45 8.17 13.62" y="0" fill="#262626">0.16</text>
<text transform="translate(796.99 740.57) scale(1.0798 1)" x="-0.00 5.45 8.17 13.62" y="0" fill="#262626">0.15</text>
<text transform="translate(830.88 740.57) scale(1.0798 1)" x="-0.00 5.45 8.17 13.62" y="0" fill="#ffffff">1.00</text>
<text transform="translate(863.14 740.57) scale(1.0715 1)" x="-0.07 3.14 8.62 11.37 16.87" y="0" fill="#262626">-0.08</text>
<text transform="translate(898.70 740.57) scale(1.0798 1)" x="-0.00 5.45 8.17 13.62" y="0" fill="#262626">0.07</text>
<text transform="translate(932.59 740.57) scale(1.0798 1)" x="-0.00 5.45 8.17 13.62" y="0" fill="#262626">0.22</text>
<text transform="translate(966.39 740.57) scale(1.0798 1)" x="-0.00 5.45 8.17 13.62" y="0" fill="#262626">0.11</text>
<text transform="translate(998.65 740.57) scale(1.0715 1)" x="-0.07 3.14 8.62 11.37 16.87" y="0" fill="#262626">-0.11</text>
<text transform="translate(1034.25 740.57) scale(1.0798 1)" x="-0.00 5.45 8.17 13.62" y="0" fill="#262626">0.05</text>
<text transform="translate(119.29 774.39) scale(1.0798 1)" x="-0.00 5.45 8.17 13.62" y="0" fill="#262626">0.27</text>
<text transform="translate(153.13 774.39) scale(1.0798 1)" x="-0.00 5.45 8.17 13.62" y="0" fill="#262626">0.09</text>
<text transform="translate(185.35 774.39) scale(1.0715 1)" x="-0.07 3.14 8.62 11.37 16.87" y="0" fill="#262626">-0.11</text>
<text transform="translate(220.95 774.39) scale(1.0798 1)" x="-0.00 5.45 8.17 13.62" y="0" fill="#262626">0.02</text>
<text transform="translate(253.21 774.39) scale(1.0715 1)" x="-0.07 3.14 8.62 11.37 16.87" y="0" fill="#262626">-0.02</text>
<text transform="translate(288.68 774.39) scale(1.0798 1)" x="-0.00 5.45 8.17 13.62" y="0" fill="#262626">0.01</text>
<text transform="translate(322.61 774.39) scale(1.0798 1)" x="-0.00 5.45 8.17 13.62" y="0" fill="#262626">0.04</text>
<text transform="translate(354.87 774.39) scale(1.0715 1)" x="-0.07 3.14 8.62 11.37 16.87" y="0" fill="#262626">-0.07</text>
<text transform="translate(390.39 774.39) scale(1.0798 1)" x="-0.00 5.45 8.17 13.62" y="0" fill="#262626">0.05</text>
<text transform="translate(422.61 774.39) scale(1.0715 1)" x="-0.07 3.14 8.62 11.37 16.87" y="0" fill="#262626">-0.10</text>
<text transform="translate(456.54 774.39) scale(1.0715 1)" x="-0.07 3.14 8.62 11.37 16.87" y="0" fill="#262626">-0.05</text>
<text transform="translate(492.05 774.39) scale(1.0798 1)" x="-0.00 5.45 8.17 13.62" y="0" fill="#262626">0.22</text>
<text transform="translate(524.23 774.39) scale(1.0715 1)" x="-0.07 3.14 8.62 11.37 16.87" y="0" fill="#262626">-0.19</text>
<text transform="translate(558.16 774.39) scale(1.0715 1)" x="-0.07 3.14 8.62 11.37 16.87" y="0" fill="#262626">-0.12</text>
<text transform="translate(592.04 774.39) scale(1.0715 1)" x="-0.07 3.14 8.62 11.37 16.87" y="0" fill="#262626">-0.10</text>
<text transform="translate(627.60 774.39) scale(1.0798 1)" x="-0.00 5.45 8.17 13.62" y="0" fill="#262626">0.07</text>
<text transform="translate(659.82 774.39) scale(1.0715 1)" x="-0.07 3.14 8.62 11.37 16.87" y="0" fill="#262626">-0.15</text>
<text transform="translate(693.75 774.39) scale(1.0715 1)" x="-0.07 3.14 8.62 11.37 16.87" y="0" fill="#ffffff">-0.35</text>
<text transform="translate(729.22 774.39) scale(1.0798 1)" x="-0.00 5.45 8.17 13.62" y="0" fill="#262626">0.29</text>
<text transform="translate(761.48 774.39) scale(1.0715 1)" x="-0.07 3.14 8.62 11.37 16.87" y="0" fill="#262626">-0.01</text>
<text transform="translate(795.37 774.39) scale(1.0715 1)" x="-0.07 3.14 8.62 11.37 16.87" y="0" fill="#262626">-0.10</text>
<text transform="translate(829.26 774.39) scale(1.0715 1)" x="-0.07 3.14 8.62 11.37 16.87" y="0" fill="#262626">-0.08</text>
<text transform="translate(864.77 774.39) scale(1.0798 1)" x="-0.00 5.45 8.17 13.62" y="0" fill="#ffffff">1.00</text>
<text transform="translate(898.61 774.39) scale(1.0798 1)" x="-0.00 5.45 8.17 13.62" y="0" fill="#262626">0.11</text>
<text transform="translate(930.96 774.39) scale(1.0715 1)" x="-0.07 3.14 8.62 11.37 16.87" y="0" fill="#262626">-0.07</text>
<text transform="translate(964.85 774.39) scale(1.0715 1)" x="-0.07 3.14 8.62 11.37 16.87" y="0" fill="#ffffff">-0.34</text>
<text transform="translate(1000.32 774.39) scale(1.0798 1)" x="-0.00 5.45 8.17 13.62" y="0" fill="#262626">0.21</text>
<text transform="translate(1032.62 774.39) scale(1.0715 1)" x="-0.07 3.14 8.62 11.37 16.87" y="0" fill="#262626">-0.04</text>
<text transform="translate(119.24 808.22) scale(1.0798 1)" x="-0.00 5.45 8.17 13.62" y="0" fill="#262626">0.06</text>
<text transform="translate(153.13 808.22) scale(1.0798 1)" x="-0.00 5.45 8.17 13.62" y="0" fill="#262626">0.14</text>
<text transform="translate(185.39 808.22) scale(1.0715 1)" x="-0.07 3.14 8.62 11.37 16.87" y="0" fill="#262626">-0.08</text>
<text transform="translate(220.95 808.22) scale(1.0798 1)" x="-0.00 5.45 8.17 13.62" y="0" fill="#262626">0.02</text>
<text transform="translate(254.79 808.22) scale(1.0798 1)" x="-0.00 5.45 8.17 13.62" y="0" fill="#262626">0.08</text>
<text transform="translate(288.68 808.22) scale(1.0798 1)" x="-0.00 5.45 8.17 13.62" y="0" fill="#262626">0.09</text>
<text transform="translate(322.57 808.22) scale(1.0798 1)" x="-0.00 5.45 8.17 13.62" y="0" fill="#262626">0.06</text>
<text transform="translate(356.46 808.22) scale(1.0798 1)" x="-0.00 5.45 8.17 13.62" y="0" fill="#262626">0.21</text>
<text transform="translate(388.72 808.22) scale(1.0715 1)" x="-0.07 3.14 8.62 11.37 16.87" y="0" fill="#262626">-0.09</text>
<text transform="translate(422.65 808.22) scale(1.0715 1)" x="-0.07 3.14 8.62 11.37 16.87" y="0" fill="#262626">-0.00</text>
<text transform="translate(458.16 808.22) scale(1.0798 1)" x="-0.00 5.45 8.17 13.62" y="0" fill="#262626">0.02</text>
<text transform="translate(492.05 808.22) scale(1.0798 1)" x="-0.00 5.45 8.17 13.62" y="0" fill="#262626">0.07</text>
<text transform="translate(524.27 808.22) scale(1.0715 1)" x="-0.07 3.14 8.62 11.37 16.87" y="0" fill="#262626">-0.10</text>
<text transform="translate(558.20 808.22) scale(1.0715 1)" x="-0.07 3.14 8.62 11.37 16.87" y="0" fill="#262626">-0.05</text>
<text transform="translate(592.09 808.22) scale(1.0715 1)" x="-0.07 3.14 8.62 11.37 16.87" y="0" fill="#262626">-0.03</text>
<text transform="translate(627.60 808.22) scale(1.0798 1)" x="-0.00 5.45 8.17 13.62" y="0" fill="#262626">0.03</text>
<text transform="translate(661.49 808.22) scale(1.0798 1)" x="-0.00 5.45 8.17 13.62" y="0" fill="#262626">0.04</text>
<text transform="translate(695.37 808.22) scale(1.0798 1)" x="-0.00 5.45 8.17 13.62" y="0" fill="#262626">0.23</text>
<text transform="translate(729.22 808.22) scale(1.0798 1)" x="-0.00 5.45 8.17 13.62" y="0" fill="#ffffff">0.94</text>
<text transform="translate(763.15 808.22) scale(1.0798 1)" x="-0.00 5.45 8.17 13.62" y="0" fill="#262626">0.07</text>
<text transform="translate(796.99 808.22) scale(1.0798 1)" x="-0.00 5.45 8.17 13.62" y="0" fill="#262626">0.10</text>
<text transform="translate(830.92 808.22) scale(1.0798 1)" x="-0.00 5.45 8.17 13.62" y="0" fill="#262626">0.07</text>
<text transform="translate(864.73 808.22) scale(1.0798 1)" x="-0.00 5.45 8.17 13.62" y="0" fill="#262626">0.11</text>
<text transform="translate(898.66 808.22) scale(1.0798 1)" x="-0.00 5.45 8.17 13.62" y="0" fill="#ffffff">1.00</text>
<text transform="translate(932.50 808.22) scale(1.0798 1)" x="-0.00 5.45 8.17 13.62" y="0" fill="#262626">0.16</text>
<text transform="translate(966.47 808.22) scale(1.0798 1)" x="-0.00 5.45 8.17 13.62" y="0" fill="#262626">0.03</text>
<text transform="translate(1000.32 808.22) scale(1.0798 1)" x="-0.00 5.45 8.17 13.62" y="0" fill="#262626">0.08</text>
<text transform="translate(1034.25 808.22) scale(1.0798 1)" x="-0.00 5.45 8.17 13.62" y="0" fill="#262626">0.04</text>
<text transform="translate(117.66 842.05) scale(1.0715 1)" x="-0.07 3.14 8.62 11.37 16.87" y="0" fill="#262626">-0.23</text>
<text transform="translate(153.17 842.05) scale(1.0798 1)" x="-0.00 5.45 8.17 13.62" y="0" fill="#262626">0.07</text>
<text transform="translate(187.02 842.05) scale(1.0798 1)" x="-0.00 5.45 8.17 13.62" y="0" fill="#262626">0.06</text>
<text transform="translate(219.32 842.05) scale(1.0715 1)" x="-0.07 3.14 8.62 11.37 16.87" y="0" fill="#262626">-0.00</text>
<text transform="translate(254.79 842.05) scale(1.0798 1)" x="-0.00 5.45 8.17 13.62" y="0" fill="#262626">0.12</text>
<text transform="translate(288.68 842.05) scale(1.0798 1)" x="-0.00 5.45 8.17 13.62" y="0" fill="#262626">0.13</text>
<text transform="translate(322.61 842.05) scale(1.0798 1)" x="-0.00 5.45 8.17 13.62" y="0" fill="#262626">0.02</text>
<text transform="translate(356.46 842.05) scale(1.0798 1)" x="-0.00 5.45 8.17 13.62" y="0" fill="#262626">0.15</text>
<text transform="translate(390.39 842.05) scale(1.0798 1)" x="-0.00 5.45 8.17 13.62" y="0" fill="#262626">0.02</text>
<text transform="translate(424.19 842.05) scale(1.0798 1)" x="-0.00 5.45 8.17 13.62" y="0" fill="#262626">0.11</text>
<text transform="translate(456.54 842.05) scale(1.0715 1)" x="-0.07 3.14 8.62 11.37 16.87" y="0" fill="#262626">-0.00</text>
<text transform="translate(490.34 842.05) scale(1.0715 1)" x="-0.07 3.14 8.62 11.37 16.87" y="0" fill="#262626">-0.11</text>
<text transform="translate(525.89 842.05) scale(1.0798 1)" x="-0.00 5.45 8.17 13.62" y="0" fill="#262626">0.08</text>
<text transform="translate(559.82 842.05) scale(1.0798 1)" x="-0.00 5.45 8.17 13.62" y="0" fill="#262626">0.05</text>
<text transform="translate(593.71 842.05) scale(1.0798 1)" x="-0.00 5.45 8.17 13.62" y="0" fill="#262626">0.04</text>
<text transform="translate(627.60 842.05) scale(1.0798 1)" x="-0.00 5.45 8.17 13.62" y="0" fill="#262626">0.05</text>
<text transform="translate(661.44 842.05) scale(1.0798 1)" x="-0.00 5.45 8.17 13.62" y="0" fill="#262626">0.17</text>
<text transform="translate(695.33 842.05) scale(1.0798 1)" x="-0.00 5.45 8.17 13.62" y="0" fill="#262626">0.26</text>
<text transform="translate(729.18 842.05) scale(1.0798 1)" x="-0.00 5.45 8.17 13.62" y="0" fill="#262626">0.19</text>
<text transform="translate(763.11 842.05) scale(1.0798 1)" x="-0.00 5.45 8.17 13.62" y="0" fill="#262626">0.38</text>
<text transform="translate(797.04 842.05) scale(1.0798 1)" x="-0.00 5.45 8.17 13.62" y="0" fill="#262626">0.53</text>
<text transform="translate(830.92 842.05) scale(1.0798 1)" x="-0.00 5.45 8.17 13.62" y="0" fill="#262626">0.22</text>
<text transform="translate(863.19 842.05) scale(1.0715 1)" x="-0.07 3.14 8.62 11.37 16.87" y="0" fill="#262626">-0.07</text>
<text transform="translate(898.61 842.05) scale(1.0798 1)" x="-0.00 5.45 8.17 13.62" y="0" fill="#262626">0.16</text>
<text transform="translate(932.54 842.05) scale(1.0798 1)" x="-0.00 5.45 8.17 13.62" y="0" fill="#ffffff">1.00</text>
<text transform="translate(966.43 842.05) scale(1.0798 1)" x="-0.00 5.45 8.17 13.62" y="0" fill="#262626">0.29</text>
<text transform="translate(998.65 842.05) scale(1.0715 1)" x="-0.07 3.14 8.62 11.37 16.87" y="0" fill="#262626">-0.16</text>
<text transform="translate(1034.21 842.05) scale(1.0798 1)" x="-0.00 5.45 8.17 13.62" y="0" fill="#262626">0.09</text>
<text transform="translate(117.62 875.88) scale(1.0715 1)" x="-0.07 3.14 8.62 11.37 16.87" y="0" fill="#ffffff">-0.58</text>
<text transform="translate(151.46 875.88) scale(1.0715 1)" x="-0.07 3.14 8.62 11.37 16.87" y="0" fill="#262626">-0.16</text>
<text transform="translate(187.06 875.88) scale(1.0798 1)" x="-0.00 5.45 8.17 13.62" y="0" fill="#262626">0.24</text>
<text transform="translate(219.28 875.88) scale(1.0715 1)" x="-0.07 3.14 8.62 11.37 16.87" y="0" fill="#262626">-0.06</text>
<text transform="translate(254.75 875.88) scale(1.0798 1)" x="-0.00 5.45 8.17 13.62" y="0" fill="#262626">0.19</text>
<text transform="translate(288.64 875.88) scale(1.0798 1)" x="-0.00 5.45 8.17 13.62" y="0" fill="#262626">0.18</text>
<text transform="translate(320.99 875.88) scale(1.0715 1)" x="-0.07 3.14 8.62 11.37 16.87" y="0" fill="#262626">-0.07</text>
<text transform="translate(356.46 875.88) scale(1.0798 1)" x="-0.00 5.45 8.17 13.62" y="0" fill="#262626">0.36</text>
<text transform="translate(390.34 875.88) scale(1.0798 1)" x="-0.00 5.45 8.17 13.62" y="0" fill="#262626">0.10</text>
<text transform="translate(424.27 875.88) scale(1.0798 1)" x="-0.00 5.45 8.17 13.62" y="0" fill="#262626">0.25</text>
<text transform="translate(458.16 875.88) scale(1.0798 1)" x="-0.00 5.45 8.17 13.62" y="0" fill="#262626">0.04</text>
<text transform="translate(490.38 875.88) scale(1.0715 1)" x="-0.07 3.14 8.62 11.37 16.87" y="0" fill="#262626">-0.26</text>
<text transform="translate(525.94 875.88) scale(1.0798 1)" x="-0.00 5.45 8.17 13.62" y="0" fill="#262626">0.24</text>
<text transform="translate(559.78 875.88) scale(1.0798 1)" x="-0.00 5.45 8.17 13.62" y="0" fill="#262626">0.17</text>
<text transform="translate(593.71 875.88) scale(1.0798 1)" x="-0.00 5.45 8.17 13.62" y="0" fill="#262626">0.20</text>
<text transform="translate(627.60 875.88) scale(1.0798 1)" x="-0.00 5.45 8.17 13.62" y="0" fill="#262626">0.05</text>
<text transform="translate(661.49 875.88) scale(1.0798 1)" x="-0.00 5.45 8.17 13.62" y="0" fill="#262626">0.35</text>
<text transform="translate(695.33 875.88) scale(1.0798 1)" x="-0.00 5.45 8.17 13.62" y="0" fill="#262626">0.31</text>
<text transform="translate(729.22 875.88) scale(1.0798 1)" x="-0.00 5.45 8.17 13.62" y="0" fill="#262626">0.01</text>
<text transform="translate(763.06 875.88) scale(1.0798 1)" x="-0.00 5.45 8.17 13.62" y="0" fill="#262626">0.18</text>
<text transform="translate(797.04 875.88) scale(1.0798 1)" x="-0.00 5.45 8.17 13.62" y="0" fill="#262626">0.34</text>
<text transform="translate(830.84 875.88) scale(1.0798 1)" x="-0.00 5.45 8.17 13.62" y="0" fill="#262626">0.11</text>
<text transform="translate(863.19 875.88) scale(1.0715 1)" x="-0.07 3.14 8.62 11.37 16.87" y="0" fill="#ffffff">-0.34</text>
<text transform="translate(898.70 875.88) scale(1.0798 1)" x="-0.00 5.45 8.17 13.62" y="0" fill="#262626">0.03</text>
<text transform="translate(932.54 875.88) scale(1.0798 1)" x="-0.00 5.45 8.17 13.62" y="0" fill="#262626">0.29</text>
<text transform="translate(966.43 875.88) scale(1.0798 1)" x="-0.00 5.45 8.17 13.62" y="0" fill="#ffffff">1.00</text>
<text transform="translate(998.74 875.88) scale(1.0715 1)" x="-0.07 3.14 8.62 11.37 16.87" y="0" fill="#ffffff">-0.47</text>
<text transform="translate(1034.21 875.88) scale(1.0798 1)" x="-0.00 5.45 8.17 13.62" y="0" fill="#262626">0.06</text>
<text transform="translate(119.29 909.70) scale(1.0798 1)" x="-0.00 5.45 8.17 13.62" y="0" fill="#ffffff">0.77</text>
<text transform="translate(153.17 909.70) scale(1.0798 1)" x="-0.00 5.45 8.17 13.62" y="0" fill="#262626">0.02</text>
<text transform="translate(185.39 909.70) scale(1.0715 1)" x="-0.07 3.14 8.62 11.37 16.87" y="0" fill="#262626">-0.17</text>
<text transform="translate(220.95 909.70) scale(1.0798 1)" x="-0.00 5.45 8.17 13.62" y="0" fill="#262626">0.07</text>
<text transform="translate(253.21 909.70) scale(1.0715 1)" x="-0.07 3.14 8.62 11.37 16.87" y="0" fill="#262626">-0.03</text>
<text transform="translate(287.10 909.70) scale(1.0715 1)" x="-0.07 3.14 8.62 11.37 16.87" y="0" fill="#262626">-0.04</text>
<text transform="translate(322.57 909.70) scale(1.0798 1)" x="-0.00 5.45 8.17 13.62" y="0" fill="#262626">0.21</text>
<text transform="translate(356.50 909.70) scale(1.0798 1)" x="-0.00 5.45 8.17 13.62" y="0" fill="#262626">0.30</text>
<text transform="translate(388.76 909.70) scale(1.0715 1)" x="-0.07 3.14 8.62 11.37 16.87" y="0" fill="#262626">-0.22</text>
<text transform="translate(422.61 909.70) scale(1.0715 1)" x="-0.07 3.14 8.62 11.37 16.87" y="0" fill="#262626">-0.15</text>
<text transform="translate(456.49 909.70) scale(1.0715 1)" x="-0.07 3.14 8.62 11.37 16.87" y="0" fill="#262626">-0.06</text>
<text transform="translate(492.01 909.70) scale(1.0798 1)" x="-0.00 5.45 8.17 13.62" y="0" fill="#262626">0.46</text>
<text transform="translate(524.31 909.70) scale(1.0715 1)" x="-0.07 3.14 8.62 11.37 16.87" y="0" fill="#ffffff">-0.44</text>
<text transform="translate(558.20 909.70) scale(1.0715 1)" x="-0.07 3.14 8.62 11.37 16.87" y="0" fill="#262626">-0.23</text>
<text transform="translate(592.04 909.70) scale(1.0715 1)" x="-0.07 3.14 8.62 11.37 16.87" y="0" fill="#262626">-0.17</text>
<text transform="translate(625.89 909.70) scale(1.0715 1)" x="-0.07 3.14 8.62 11.37 16.87" y="0" fill="#262626">-0.19</text>
<text transform="translate(659.82 909.70) scale(1.0715 1)" x="-0.07 3.14 8.62 11.37 16.87" y="0" fill="#ffffff">-0.36</text>
<text transform="translate(693.71 909.70) scale(1.0715 1)" x="-0.07 3.14 8.62 11.37 16.87" y="0" fill="#262626">-0.06</text>
<text transform="translate(729.18 909.70) scale(1.0798 1)" x="-0.00 5.45 8.17 13.62" y="0" fill="#262626">0.11</text>
<text transform="translate(761.48 909.70) scale(1.0715 1)" x="-0.07 3.14 8.62 11.37 16.87" y="0" fill="#262626">-0.15</text>
<text transform="translate(795.37 909.70) scale(1.0715 1)" x="-0.07 3.14 8.62 11.37 16.87" y="0" fill="#262626">-0.15</text>
<text transform="translate(829.21 909.70) scale(1.0715 1)" x="-0.07 3.14 8.62 11.37 16.87" y="0" fill="#262626">-0.11</text>
<text transform="translate(864.77 909.70) scale(1.0798 1)" x="-0.00 5.45 8.17 13.62" y="0" fill="#262626">0.21</text>
<text transform="translate(898.66 909.70) scale(1.0798 1)" x="-0.00 5.45 8.17 13.62" y="0" fill="#262626">0.08</text>
<text transform="translate(930.88 909.70) scale(1.0715 1)" x="-0.07 3.14 8.62 11.37 16.87" y="0" fill="#262626">-0.16</text>
<text transform="translate(964.85 909.70) scale(1.0715 1)" x="-0.07 3.14 8.62 11.37 16.87" y="0" fill="#ffffff">-0.47</text>
<text transform="translate(1000.32 909.70) scale(1.0798 1)" x="-0.00 5.45 8.17 13.62" y="0" fill="#ffffff">1.00</text>
<text transform="translate(1034.25 909.70) scale(1.0798 1)" x="-0.00 5.45 8.17 13.62" y="0" fill="#262626">0.02</text>
<text transform="translate(119.24 943.53) scale(1.0798 1)" x="-0.00 5.45 8.17 13.62" y="0" fill="#262626">0.01</text>
<text transform="translate(153.17 943.53) scale(1.0798 1)" x="-0.00 5.45 8.17 13.62" y="0" fill="#262626">0.07</text>
<text transform="translate(185.39 943.53) scale(1.0715 1)" x="-0.07 3.14 8.62 11.37 16.87" y="0" fill="#262626">-0.01</text>
<text transform="translate(220.95 943.53) scale(1.0798 1)" x="-0.00 5.45 8.17 13.62" y="0" fill="#262626">0.04</text>
<text transform="translate(254.84 943.53) scale(1.0798 1)" x="-0.00 5.45 8.17 13.62" y="0" fill="#262626">0.00</text>
<text transform="translate(288.72 943.53) scale(1.0798 1)" x="-0.00 5.45 8.17 13.62" y="0" fill="#262626">0.03</text>
<text transform="translate(322.57 943.53) scale(1.0798 1)" x="-0.00 5.45 8.17 13.62" y="0" fill="#262626">0.01</text>
<text transform="translate(356.41 943.53) scale(1.0798 1)" x="-0.00 5.45 8.17 13.62" y="0" fill="#262626">0.11</text>
<text transform="translate(388.76 943.53) scale(1.0715 1)" x="-0.07 3.14 8.62 11.37 16.87" y="0" fill="#262626">-0.00</text>
<text transform="translate(424.27 943.53) scale(1.0798 1)" x="-0.00 5.45 8.17 13.62" y="0" fill="#262626">0.00</text>
<text transform="translate(458.16 943.53) scale(1.0798 1)" x="-0.00 5.45 8.17 13.62" y="0" fill="#262626">0.02</text>
<text transform="translate(492.05 943.53) scale(1.0798 1)" x="-0.00 5.45 8.17 13.62" y="0" fill="#262626">0.04</text>
<text transform="translate(524.31 943.53) scale(1.0715 1)" x="-0.07 3.14 8.62 11.37 16.87" y="0" fill="#262626">-0.04</text>
<text transform="translate(558.20 943.53) scale(1.0715 1)" x="-0.07 3.14 8.62 11.37 16.87" y="0" fill="#262626">-0.04</text>
<text transform="translate(593.71 943.53) scale(1.0798 1)" x="-0.00 5.45 8.17 13.62" y="0" fill="#262626">0.00</text>
<text transform="translate(627.56 943.53) scale(1.0798 1)" x="-0.00 5.45 8.17 13.62" y="0" fill="#262626">0.01</text>
<text transform="translate(659.82 943.53) scale(1.0715 1)" x="-0.07 3.14 8.62 11.37 16.87" y="0" fill="#262626">-0.01</text>
<text transform="translate(695.33 943.53) scale(1.0798 1)" x="-0.00 5.45 8.17 13.62" y="0" fill="#262626">0.08</text>
<text transform="translate(729.26 943.53) scale(1.0798 1)" x="-0.00 5.45 8.17 13.62" y="0" fill="#262626">0.04</text>
<text transform="translate(763.15 943.53) scale(1.0798 1)" x="-0.00 5.45 8.17 13.62" y="0" fill="#262626">0.03</text>
<text transform="translate(797.04 943.53) scale(1.0798 1)" x="-0.00 5.45 8.17 13.62" y="0" fill="#262626">0.05</text>
<text transform="translate(830.92 943.53) scale(1.0798 1)" x="-0.00 5.45 8.17 13.62" y="0" fill="#262626">0.05</text>
<text transform="translate(863.19 943.53) scale(1.0715 1)" x="-0.07 3.14 8.62 11.37 16.87" y="0" fill="#262626">-0.04</text>
<text transform="translate(898.70 943.53) scale(1.0798 1)" x="-0.00 5.45 8.17 13.62" y="0" fill="#262626">0.04</text>
<text transform="translate(932.54 943.53) scale(1.0798 1)" x="-0.00 5.45 8.17 13.62" y="0" fill="#262626">0.09</text>
<text transform="translate(966.43 943.53) scale(1.0798 1)" x="-0.00 5.45 8.17 13.62" y="0" fill="#262626">0.06</text>
<text transform="translate(1000.36 943.53) scale(1.0798 1)" x="-0.00 5.45 8.17 13.62" y="0" fill="#262626">0.02</text>
<text transform="translate(1034.21 943.53) scale(1.0798 1)" x="-0.00 5.45 8.17 13.62" y="0" fill="#ffffff">1.00</text>
</g>
<path d="M129.49 957.78v3.3M163.38 957.78v3.3M197.27 957.78v3.3M231.16 957.78v3.3M265.04 957.78v3.3M298.93 957.78v3.3M332.82 957.78v3.3M366.71 957.78v3.3M400.59 957.78v3.3M434.48 957.78v3.3M468.37 957.78v3.3M502.26 957.78v3.3M536.14 957.78v3.3M570.03 957.78v3.3M603.92 957.78v3.3M637.81 957.78v3.3M671.69 957.78v3.3M705.58 957.78v3.3M739.47 957.78v3.3M773.36 957.78v3.3M807.24 957.78v3.3M841.13 957.78v3.3M875.02 957.78v3.3M908.91 957.78v3.3M942.79 957.78v3.3M976.68 957.78v3.3M1010.57 957.78v3.3M1044.46 957.78v3.3M112.55 27.51h-3.3M112.55 61.34h-3.3M112.55 95.17h-3.3M112.55 129.00h-3.3M112.55 162.83h-3.3M112.55 196.65h-3.3M112.55 230.48h-3.3M112.55 264.31h-3.3M112.55 298.14h-3.3M112.55 331.96h-3.3M112.55 365.79h-3.3M112.55 399.62h-3.3M112.55 433.45h-3.3M112.55 467.28h-3.3M112.55 501.10h-3.3M112.55 534.93h-3.3M112.55 568.76h-3.3M112.55 602.59h-3.3M112.55 636.42h-3.3M112.55 670.24h-3.3M112.55 704.07h-3.3M112.55 737.90h-3.3M112.55 771.73h-3.3M112.55 805.55h-3.3M112.55 839.38h-3.3M112.55 873.21h-3.3M112.55 907.04h-3.3M112.55 940.87h-3.3M1169.45 926.19h3.3M1169.45 811.74h3.3M1169.45 697.29h3.3M1169.45 582.85h3.3M1169.45 468.40h3.3M1169.45 353.95h3.3M1169.45 239.50h3.3M1169.45 125.05h3.3M1169.45 10.60h3.3" stroke="#000" stroke-width="0.8" fill="none"/>
<g font-size="9.8" fill="#000">
<text transform="translate(62.15 30.18) scale(1.0341 1)" x="-0.35 6.96 12.54 18.22 23.81 29.49 32.92 35.50" y="0">GenderID</text>
<text transform="translate(25.99 63.96) scale(1.0413 1)" x="-0.23 6.17 11.72 16.68 21.39 27.96 30.56 35.45 38.21 44.13 47.25 52.90 56.53 61.76 64.09 69.64" y="0">Age_At_Interview</text>
<text transform="translate(35.57 97.84) scale(1.0180 1)" x="-0.40 5.90 11.66 17.32 22.32 28.25 31.57 33.97 39.63 44.74 49.63 55.21 60.95 64.37" y="0">EducationYears</text>
<text transform="translate(34.57 131.66) scale(1.0631 1)" x="-0.33 7.45 13.00 16.54 19.18 22.19 27.70 29.49 35.86 38.87 44.61 47.71 53.00 57.64 60.10" y="0">MaritalStatusID</text>
<text transform="translate(86.90 165.49) scale(0.9452 1)" x="0.23 7.22 13.53" y="0">DPB</text>
<text transform="translate(88.24 199.32) scale(0.9075 1)" x="-0.03 6.28 12.84" y="0">SPB</text>
<text transform="translate(94.07 233.15) scale(0.8818 1)" x="-0.11 6.43" y="0">PR</text>
<text transform="translate(88.99 266.98) scale(0.9789 1)" x="-0.03 6.48 14.67" y="0">BMI</text>
<text transform="translate(60.49 300.76) scale(0.9597 1)" x="0.08 8.09 14.36 19.98 24.89 30.26 33.01 39.02 44.95" y="0">MET_Final</text>
<text transform="translate(47.07 334.58) scale(1.0424 1)" x="-0.23 5.93 10.55 15.32 20.97 24.80 27.40 32.48 34.89 40.52 46.07 51.58" y="0">Assert_index</text>
<text transform="translate(73.65 368.46) scale(1.0441 1)" x="-0.47 5.68 11.21 16.85 20.27 25.98" y="0">Energy</text>
<text transform="translate(0.57 402.29) scale(1.0310 1)" x="-0.42 5.98 14.45 20.07 24.79 29.87 36.70 39.16 44.75 50.44 53.71 59.59 63.11 66.26 71.49 75.98 81.20 86.81 92.26 94.86" y="0">SmokeCigaretteTypeID</text>
<text transform="translate(61.40 436.11) scale(1.0273 1)" x="-0.24 6.49 11.33 16.75 23.97 27.58 33.29 38.77" y="0">UseDrugs</text>
<text transform="translate(55.15 469.94) scale(1.0292 1)" x="-0.25 6.47 11.30 16.60 23.10 25.46 30.40 36.00 41.60 47.23" y="0">UseAlcohol</text>
<text transform="translate(21.32 503.72) scale(1.0073 1)" x="-0.09 6.99 12.61 18.35 23.42 29.15 34.35 39.19 43.46 49.43 52.68 58.41 60.77 67.92 73.40 78.34" y="0">Hookah_TotalDose</text>
<text transform="translate(85.99 537.60) scale(0.9683 1)" x="0.01 6.51 13.58" y="0">BUN</text>
<text transform="translate(76.40 571.43) scale(0.8907 1)" x="0.09 7.26 13.88 20.89 27.05" y="0">CERAT</text>
<text transform="translate(93.24 605.25) scale(0.9419 1)" x="0.01 5.99" y="0">TG</text>
<text transform="translate(80.24 639.08) scale(0.9494 1)" x="-0.14 6.93 14.15 21.79" y="0">CHOL</text>
<text transform="translate(80.15 672.91) scale(0.9353 1)" x="-0.13 6.30 14.02 21.75" y="0">SGOT</text>
<text transform="translate(81.82 706.74) scale(0.9095 1)" x="-0.04 6.58 14.13 20.58" y="0">SGPT</text>
<text transform="translate(88.99 740.57) scale(0.9210 1)" x="0.17 6.94 12.23" y="0">ALP</text>
<text transform="translate(77.40 774.39) scale(0.9737 1)" x="0.03 7.26 14.38 19.90 22.55" y="0">HDL.C</text>
<text transform="translate(88.57 808.22) scale(0.9695 1)" x="-0.07 5.45 12.59" y="0">LDL</text>
<text transform="translate(86.40 842.05) scale(0.9237 1)" x="0.07 7.83 15.18" y="0">GGT</text>
<text transform="translate(85.24 875.88) scale(0.9530 1)" x="0.06 6.76 14.87" y="0">BMR</text>
<text transform="translate(83.57 909.70) scale(0.9626 1)" x="0.13 9.58 16.53" y="0">WHR</text>
<text transform="translate(47.49 943.53) scale(1.0427 1)" x="-0.20 6.66 11.97 16.61 23.70 26.02 31.55 37.09 42.93 46.03 51.35" y="0">HasDiabetes</text>
<text transform="translate(1175.93 929.86) scale(1.1610 1)" x="0.48 6.49 11.65 14.09" y="0">−0.6</text>
<text transform="translate(1175.93 815.41) scale(1.1610 1)" x="0.48 6.49 11.65 14.09" y="0">−0.4</text>
<text transform="translate(1175.93 700.96) scale(1.1610 1)" x="0.48 6.49 11.65 14.09" y="0">−0.2</text>
<text transform="translate(1175.93 586.51) scale(1.0798 1)" x="-0.00 5.45 8.17" y="0">0.0</text>
<text transform="translate(1175.93 472.06) scale(1.0798 1)" x="-0.00 5.45 8.17" y="0">0.2</text>
<text transform="translate(1175.93 357.61) scale(1.0798 1)" x="-0.00 5.45 8.17" y="0">0.4</text>
<text transform="translate(1175.93 243.16) scale(1.0798 1)" x="-0.00 5.45 8.17" y="0">0.6</text>
<text transform="translate(1175.93 128.72) scale(1.0798 1)" x="-0.00 5.45 8.17" y="0">0.8</text>
<text transform="translate(1175.93 14.27) scale(1.0798 1)" x="-0.00 5.45 8.17" y="0">1.0</text>
<text transform="translate(97.03 1000.50) rotate(-45) scale(1.0341 1)" x="-0.35 6.96 12.54 18.22 23.81 29.49 32.92 35.50" y="0">GenderID</text>
<text transform="translate(105.27 1026.07) rotate(-45) scale(1.0413 1)" x="-0.23 6.17 11.72 16.68 21.39 27.96 30.56 35.45 38.21 44.13 47.25 52.90 56.53 61.76 64.09 69.64" y="0">Age_At_Interview</text>
<text transform="translate(146.00 1019.30) rotate(-45) scale(1.0180 1)" x="-0.40 5.90 11.66 17.32 22.32 28.25 31.57 33.97 39.63 44.74 49.63 55.21 60.95 64.37" y="0">EducationYears</text>
<text transform="translate(179.18 1020.01) rotate(-45) scale(1.0631 1)" x="-0.33 7.45 13.00 16.54 19.18 22.19 27.70 29.49 35.86 38.87 44.61 47.71 53.00 57.64 60.10" y="0">MaritalStatusID</text>
<text transform="translate(250.08 983.00) rotate(-45) scale(0.9452 1)" x="0.23 7.22 13.53" y="0">DPB</text>
<text transform="translate(284.91 982.06) rotate(-45) scale(0.9075 1)" x="-0.03 6.28 12.84" y="0">SPB</text>
<text transform="translate(322.92 977.93) rotate(-45) scale(0.8818 1)" x="-0.11 6.43" y="0">PR</text>
<text transform="translate(353.21 981.53) rotate(-45) scale(0.9789 1)" x="-0.03 6.48 14.67" y="0">BMI</text>
<text transform="translate(366.88 1001.68) rotate(-45) scale(0.9597 1)" x="0.08 8.09 14.36 19.98 24.89 30.26 33.01 39.02 44.95" y="0">MET_Final</text>
<text transform="translate(391.28 1011.17) rotate(-45) scale(1.0424 1)" x="-0.23 5.93 10.55 15.32 20.97 24.80 27.40 32.48 34.89 40.52 46.07 51.58" y="0">Assert_index</text>
<text transform="translate(444.03 992.37) rotate(-45) scale(1.0441 1)" x="-0.47 5.68 11.21 16.85 20.27 25.98" y="0">Energy</text>
<text transform="translate(426.24 1044.05) rotate(-45) scale(1.0310 1)" x="-0.42 5.98 14.45 20.07 24.79 29.87 36.70 39.16 44.75 50.44 53.71 59.59 63.11 66.26 71.49 75.98 81.20 86.81 92.26 94.86" y="0">SmokeCigaretteTypeID</text>
<text transform="translate(503.15 1001.03) rotate(-45) scale(1.0273 1)" x="-0.24 6.49 11.33 16.75 23.97 27.58 33.29 38.77" y="0">UseDrugs</text>
<text transform="translate(532.61 1005.45) rotate(-45) scale(1.0292 1)" x="-0.25 6.47 11.30 16.60 23.10 25.46 30.40 36.00 41.60 47.23" y="0">UseAlcohol</text>
<text transform="translate(542.51 1029.37) rotate(-45) scale(1.0073 1)" x="-0.09 6.99 12.61 18.35 23.42 29.15 34.35 39.19 43.46 49.43 52.68 58.41 60.77 67.92 73.40 78.34" y="0">Hookah_TotalDose</text>
<text transform="translate(622.19 983.65) rotate(-45) scale(0.9683 1)" x="0.01 6.51 13.58" y="0">BUN</text>
<text transform="translate(649.30 990.42) rotate(-45) scale(0.8907 1)" x="0.09 7.26 13.88 20.89 27.05" y="0">CERAT</text>
<text transform="translate(695.09 978.52) rotate(-45) scale(0.9419 1)" x="0.01 5.99" y="0">TG</text>
<text transform="translate(719.79 987.71) rotate(-45) scale(0.9494 1)" x="-0.14 6.93 14.15 21.79" y="0">CHOL</text>
<text transform="translate(753.62 987.77) rotate(-45) scale(0.9353 1)" x="-0.13 6.30 14.02 21.75" y="0">SGOT</text>
<text transform="translate(788.68 986.59) rotate(-45) scale(0.9095 1)" x="-0.04 6.58 14.13 20.58" y="0">SGPT</text>
<text transform="translate(827.64 981.53) rotate(-45) scale(0.9210 1)" x="0.17 6.94 12.23" y="0">ALP</text>
<text transform="translate(853.33 989.72) rotate(-45) scale(0.9737 1)" x="0.03 7.26 14.38 19.90 22.55" y="0">HDL.C</text>
<text transform="translate(895.12 981.82) rotate(-45) scale(0.9695 1)" x="-0.07 5.45 12.59" y="0">LDL</text>
<text transform="translate(927.47 983.35) rotate(-45) scale(0.9237 1)" x="0.07 7.83 15.18" y="0">GGT</text>
<text transform="translate(960.54 984.18) rotate(-45) scale(0.9530 1)" x="0.06 6.76 14.87" y="0">BMR</text>
<text transform="translate(993.24 985.36) rotate(-45) scale(0.9626 1)" x="0.13 9.58 16.53" y="0">WHR</text>
<text transform="translate(1001.62 1010.87) rotate(-45) scale(1.0427 1)" x="-0.20 6.66 11.97 16.61 23.70 26.02 31.55 37.09 42.93 46.03 51.35" y="0">HasDiabetes</text>
</g>
<defs><linearGradient id="cb" x1="0" y1="0" x2="0" y2="1"><stop offset="0.00000" stop-color="#b40426"/><stop offset="0.00391" stop-color="#b40426"/><stop offset="0.00391" stop-color="#b50927"/><stop offset="0.00781" stop-color="#b50927"/><stop offset="0.00781" stop-color="#b70d28"/><stop offset="0.01172" stop-color="#b70d28"/><stop offset="0.01172" stop-color="#b8122a"/><stop offset="0.01562" stop-color="#b8122a"/><stop offset="0.01562" stop-color="#ba162b"/><stop offset="0.01953" stop-color="#ba162b"/><stop offset="0.01953" stop-color="#bb1b2c"/><stop offset="0.02344" stop-color="#bb1b2c"/><stop offset="0.02344" stop-color="#bd1f2d"/><stop offset="0.02734" stop-color="#bd1f2d"/><stop offset="0.02734" stop-color="#be242e"/><stop offset="0.03125" stop-color="#be242e"/><stop offset="0.03125" stop-color="#c0282f"/><stop offset="0.03516" stop-color="#c0282f"/><stop offset="0.03516" stop-color="#c12b30"/><stop offset="0.03906" stop-color="#c12b30"/><stop offset="0.03906" stop-color="#c32e31"/><stop offset="0.04297" stop-color="#c32e31"/><stop offset="0.04297" stop-color="#c43032"/><stop offset="0.04688" stop-color="#c43032"/><stop offset="0.04688" stop-color="#c53334"/><stop offset="0.05078" stop-color="#c53334"/><stop offset="0.05078" stop-color="#c73635"/><stop offset="0.05469" stop-color="#c73635"/><stop offset="0.05469" stop-color="#c83836"/><stop offset="0.05859" stop-color="#c83836"/><stop offset="0.05859" stop-color="#ca3b37"/><stop offset="0.06250" stop-color="#ca3b37"/><stop offset="0.06250" stop-color="#cb3e38"/><stop offset="0.06641" stop-color="#cb3e38"/><stop offset="0.06641" stop-color="#cc403a"/><stop offset="0.07031" stop-color="#cc403a"/><stop offset="0.07031" stop-color="#cd423b"/><stop offset="0.07422" stop-color="#cd423b"/><stop offset="0.07422" stop-color="#cf453c"/><stop offset="0.07812" stop-color="#cf453c"/><stop offset="0.07812" stop-color="#d0473d"/><stop offset="0.08203" stop-color="#d0473d"/><stop offset="0.08203" stop-color="#d1493f"/><stop offset="0.08594" stop-color="#d1493f"/><stop offset="0.08594" stop-color="#d24b40"/><stop offset="0.08984" stop-color="#d24b40"/><stop offset="0.08984" stop-color="#d44e41"/><stop offset="0.09375" stop-color="#d44e41"/><stop offset="0.09375" stop-color="#d55042"/><stop offset="0.09766" stop-color="#d55042"/><stop offset="0.09766" stop-color="#d65244"/><stop offset="0.10156" stop-color="#d65244"/><stop offset="0.10156" stop-color="#d75445"/><stop offset="0.10547" stop-color="#d75445"/><stop offset="0.10547" stop-color="#d85646"/><stop offset="0.10938" stop-color="#d85646"/><stop offset="0.10938" stop-color="#d95847"/><stop offset="0.11328" stop-color="#d95847"/><stop offset="0.11328" stop-color="#da5a49"/><stop offset="0.11719" stop-color="#da5a49"/><stop offset="0.11719" stop-color="#dc5d4a"/><stop offset="0.12109" stop-color="#dc5d4a"/><stop offset="0.12109" stop-color="#dd5f4b"/><stop offset="0.12500" stop-color="#dd5f4b"/><stop offset="0.12500" stop-color="#de614d"/><stop offset="0.12891" stop-color="#de614d"/><stop offset="0.12891" stop-color="#df634e"/><stop offset="0.13281" stop-color="#df634e"/><stop offset="0.13281" stop-color="#e0654f"/><stop offset="0.13672" stop-color="#e0654f"/><stop offset="0.13672" stop-color="#e16751"/><stop offset="0.14062" stop-color="#e16751"/><stop offset="0.14062" stop-color="#e26952"/><stop offset="0.14453" stop-color="#e26952"/><stop offset="0.14453" stop-color="#e36b54"/><stop offset="0.14844" stop-color="#e36b54"/><stop offset="0.14844" stop-color="#e36c55"/><stop offset="0.15234" stop-color="#e36c55"/><stop offset="0.15234" stop-color="#e46e56"/><stop offset="0.15625" stop-color="#e46e56"/><stop offset="0.15625" stop-color="#e57058"/><stop offset="0.16016" stop-color="#e57058"/><stop offset="0.16016" stop-color="#e67259"/><stop offset="0.16406" stop-color="#e67259"/><stop offset="0.16406" stop-color="#e7745b"/><stop offset="0.16797" stop-color="#e7745b"/><stop offset="0.16797" stop-color="#e8765c"/><stop offset="0.17188" stop-color="#e8765c"/><stop offset="0.17188" stop-color="#e9785d"/><stop offset="0.17578" stop-color="#e9785d"/><stop offset="0.17578" stop-color="#e97a5f"/><stop offset="0.17969" stop-color="#e97a5f"/><stop offset="0.17969" stop-color="#ea7b60"/><stop offset="0.18359" stop-color="#ea7b60"/><stop offset="0.18359" stop-color="#eb7d62"/><stop offset="0.18750" stop-color="#eb7d62"/><stop offset="0.18750" stop-color="#ec7f63"/><stop offset="0.19141" stop-color="#ec7f63"/><stop offset="0.19141" stop-color="#ec8165"/><stop offset="0.19531" stop-color="#ec8165"/><stop offset="0.19531" stop-color="#ed8366"/><stop offset="0.19922" stop-color="#ed8366"/><stop offset="0.19922" stop-color="#ee8468"/><stop offset="0.20312" stop-color="#ee8468"/><stop offset="0.20312" stop-color="#ee8669"/><stop offset="0.20703" stop-color="#ee8669"/><stop offset="0.20703" stop-color="#ef886b"/><stop offset="0.21094" stop-color="#ef886b"/><stop offset="0.21094" stop-color="#f08a6c"/><stop offset="0.21484" stop-color="#f08a6c"/><stop offset="0.21484" stop-color="#f08b6e"/><stop offset="0.21875" stop-color="#f08b6e"/><stop offset="0.21875" stop-color="#f18d6f"/><stop offset="0.22266" stop-color="#f18d6f"/><stop offset="0.22266" stop-color="#f18f71"/><stop offset="0.22656" stop-color="#f18f71"/><stop offset="0.22656" stop-color="#f29072"/><stop offset="0.23047" stop-color="#f29072"/><stop offset="0.23047" stop-color="#f29274"/><stop offset="0.23438" stop-color="#f29274"/><stop offset="0.23438" stop-color="#f39475"/><stop offset="0.23828" stop-color="#f39475"/><stop offset="0.23828" stop-color="#f39577"/><stop offset="0.24219" stop-color="#f39577"/><stop offset="0.24219" stop-color="#f39778"/><stop offset="0.24609" stop-color="#f39778"/><stop offset="0.24609" stop-color="#f4987a"/><stop offset="0.25000" stop-color="#f4987a"/><stop offset="0.25000" stop-color="#f49a7b"/><stop offset="0.25391" stop-color="#f49a7b"/><stop offset="0.25391" stop-color="#f59c7d"/><stop offset="0.25781" stop-color="#f59c7d"/><stop offset="0.25781" stop-color="#f59d7e"/><stop offset="0.26172" stop-color="#f59d7e"/><stop offset="0.26172" stop-color="#f59f80"/><stop offset="0.26562" stop-color="#f59f80"/><stop offset="0.26562" stop-color="#f5a081"/><stop offset="0.26953" stop-color="#f5a081"/><stop offset="0.26953" stop-color="#f6a283"/><stop offset="0.27344" stop-color="#f6a283"/><stop offset="0.27344" stop-color="#f6a385"/><stop offset="0.27734" stop-color="#f6a385"/><stop offset="0.27734" stop-color="#f6a586"/><stop offset="0.28125" stop-color="#f6a586"/><stop offset="0.28125" stop-color="#f7a688"/><stop offset="0.28516" stop-color="#f7a688"/><stop offset="0.28516" stop-color="#f7a889"/><stop offset="0.28906" stop-color="#f7a889"/><stop offset="0.28906" stop-color="#f7a98b"/><stop offset="0.29297" stop-color="#f7a98b"/><stop offset="0.29297" stop-color="#f7aa8c"/><stop offset="0.29688" stop-color="#f7aa8c"/><stop offset="0.29688" stop-color="#f7ac8e"/><stop offset="0.30078" stop-color="#f7ac8e"/><stop offset="0.30078" stop-color="#f7ad90"/><stop offset="0.30469" stop-color="#f7ad90"/><stop offset="0.30469" stop-color="#f7af91"/><stop offset="0.30859" stop-color="#f7af91"/><stop offset="0.30859" stop-color="#f7b093"/><stop offset="0.31250" stop-color="#f7b093"/><stop offset="0.31250" stop-color="#f7b194"/><stop offset="0.31641" stop-color="#f7b194"/><stop offset="0.31641" stop-color="#f7b396"/><stop offset="0.32031" stop-color="#f7b396"/><stop offset="0.32031" stop-color="#f7b497"/><stop offset="0.32422" stop-color="#f7b497"/><stop offset="0.32422" stop-color="#f7b599"/><stop offset="0.32812" stop-color="#f7b599"/><stop offset="0.32812" stop-color="#f7b79b"/><stop offset="0.33203" stop-color="#f7b79b"/><stop offset="0.33203" stop-color="#f7b89c"/><stop offset="0.33594" stop-color="#f7b89c"/><stop offset="0.33594" stop-color="#f7b99e"/><stop offset="0.33984" stop-color="#f7b99e"/><stop offset="0.33984" stop-color="#f7ba9f"/><stop offset="0.34375" stop-color="#f7ba9f"/><stop offset="0.34375" stop-color="#f7bca1"/><stop offset="0.34766" stop-color="#f7bca1"/><stop offset="0.34766" stop-color="#f6bda2"/><stop offset="0.35156" stop-color="#f6bda2"/><stop offset="0.35156" stop-color="#f6bea4"/><stop offset="0.35547" stop-color="#f6bea4"/><stop offset="0.35547" stop-color="#f6bfa6"/><stop offset="0.35938" stop-color="#f6bfa6"/><stop offset="0.35938" stop-color="#f5c0a7"/><stop offset="0.36328" stop-color="#f5c0a7"/><stop offset="0.36328" stop-color="#f5c1a9"/><stop offset="0.36719" stop-color="#f5c1a9"/><stop offset="0.36719" stop-color="#f5c2aa"/><stop offset="0.37109" stop-color="#f5c2aa"/><stop offset="0.37109" stop-color="#f5c4ac"/><stop offset="0.37500" stop-color="#f5c4ac"/><stop offset="0.37500" stop-color="#f4c5ad"/><stop offset="0.37891" stop-color="#f4c5ad"/><stop offset="0.37891" stop-color="#f4c6af"/><stop offset="0.38281" stop-color="#f4c6af"/><stop offset="0.38281" stop-color="#f3c7b1"/><stop offset="0.38672" stop-color="#f3c7b1"/><stop offset="0.38672" stop-color="#f3c8b2"/><stop offset="0.39062" stop-color="#f3c8b2"/><stop offset="0.39062" stop-color="#f2c9b4"/><stop offset="0.39453" stop-color="#f2c9b4"/><stop offset="0.39453" stop-color="#f2cab5"/><stop offset="0.39844" stop-color="#f2cab5"/><stop offset="0.39844" stop-color="#f2cbb7"/><stop offset="0.40234" stop-color="#f2cbb7"/><stop offset="0.40234" stop-color="#f1ccb8"/><stop offset="0.40625" stop-color="#f1ccb8"/><stop offset="0.40625" stop-color="#f1cdba"/><stop offset="0.41016" stop-color="#f1cdba"/><stop offset="0.41016" stop-color="#f0cdbb"/><stop offset="0.41406" stop-color="#f0cdbb"/><stop offset="0.41406" stop-color="#efcebd"/><stop offset="0.41797" stop-color="#efcebd"/><stop offset="0.41797" stop-color="#efcfbf"/><stop offset="0.42188" stop-color="#efcfbf"/><stop offset="0.42188" stop-color="#eed0c0"/><stop offset="0.42578" stop-color="#eed0c0"/><stop offset="0.42578" stop-color="#edd1c2"/><stop offset="0.42969" stop-color="#edd1c2"/><stop offset="0.42969" stop-color="#edd2c3"/><stop offset="0.43359" stop-color="#edd2c3"/><stop offset="0.43359" stop-color="#ecd3c5"/><stop offset="0.43750" stop-color="#ecd3c5"/><stop offset="0.43750" stop-color="#ebd3c6"/><stop offset="0.44141" stop-color="#ebd3c6"/><stop offset="0.44141" stop-color="#ead4c8"/><stop offset="0.44531" stop-color="#ead4c8"/><stop offset="0.44531" stop-color="#ead5c9"/><stop offset="0.44922" stop-color="#ead5c9"/><stop offset="0.44922" stop-color="#e9d5cb"/><stop offset="0.45312" stop-color="#e9d5cb"/><stop offset="0.45312" stop-color="#e8d6cc"/><stop offset="0.45703" stop-color="#e8d6cc"/><stop offset="0.45703" stop-color="#e7d7ce"/><stop offset="0.46094" stop-color="#e7d7ce"/><stop offset="0.46094" stop-color="#e6d7cf"/><stop offset="0.46484" stop-color="#e6d7cf"/><stop offset="0.46484" stop-color="#e5d8d1"/><stop offset="0.46875" stop-color="#e5d8d1"/><stop offset="0.46875" stop-color="#e4d9d2"/><stop offset="0.47266" stop-color="#e4d9d2"/><stop offset="0.47266" stop-color="#e3d9d3"/><stop offset="0.47656" stop-color="#e3d9d3"/><stop offset="0.47656" stop-color="#e2dad5"/><stop offset="0.48047" stop-color="#e2dad5"/><stop offset="0.48047" stop-color="#e1dad6"/><stop offset="0.48438" stop-color="#e1dad6"/><stop offset="0.48438" stop-color="#e0dbd8"/><stop offset="0.48828" stop-color="#e0dbd8"/><stop offset="0.48828" stop-color="#dfdbd9"/><stop offset="0.49219" stop-color="#dfdbd9"/><stop offset="0.49219" stop-color="#dedcdb"/><stop offset="0.49609" stop-color="#dedcdb"/><stop offset="0.49609" stop-color="#dddcdc"/><stop offset="0.50000" stop-color="#dddcdc"/><stop offset="0.50000" stop-color="#dcdddd"/><stop offset="0.50391" stop-color="#dcdddd"/><stop offset="0.50391" stop-color="#dbdcde"/><stop offset="0.50781" stop-color="#dbdcde"/><stop offset="0.50781" stop-color="#dadce0"/><stop offset="0.51172" stop-color="#dadce0"/><stop offset="0.51172" stop-color="#d9dce1"/><stop offset="0.51562" stop-color="#d9dce1"/><stop offset="0.51562" stop-color="#d8dce2"/><stop offset="0.51953" stop-color="#d8dce2"/><stop offset="0.51953" stop-color="#d7dce3"/><stop offset="0.52344" stop-color="#d7dce3"/><stop offset="0.52344" stop-color="#d6dce4"/><stop offset="0.52734" stop-color="#d6dce4"/><stop offset="0.52734" stop-color="#d5dbe5"/><stop offset="0.53125" stop-color="#d5dbe5"/><stop offset="0.53125" stop-color="#d4dbe6"/><stop offset="0.53516" stop-color="#d4dbe6"/><stop offset="0.53516" stop-color="#d3dbe7"/><stop offset="0.53906" stop-color="#d3dbe7"/><stop offset="0.53906" stop-color="#d2dbe8"/><stop offset="0.54297" stop-color="#d2dbe8"/><stop offset="0.54297" stop-color="#d1dae9"/><stop offset="0.54688" stop-color="#d1dae9"/><stop offset="0.54688" stop-color="#cfdaea"/><stop offset="0.55078" stop-color="#cfdaea"/><stop offset="0.55078" stop-color="#cedaeb"/><stop offset="0.55469" stop-color="#cedaeb"/><stop offset="0.55469" stop-color="#cdd9ec"/><stop offset="0.55859" stop-color="#cdd9ec"/><stop offset="0.55859" stop-color="#ccd9ed"/><stop offset="0.56250" stop-color="#ccd9ed"/><stop offset="0.56250" stop-color="#cbd8ee"/><stop offset="0.56641" stop-color="#cbd8ee"/><stop offset="0.56641" stop-color="#cad8ef"/><stop offset="0.57031" stop-color="#cad8ef"/><stop offset="0.57031" stop-color="#c9d7f0"/><stop offset="0.57422" stop-color="#c9d7f0"/><stop offset="0.57422" stop-color="#c7d7f0"/><stop offset="0.57812" stop-color="#c7d7f0"/><stop offset="0.57812" stop-color="#c6d6f1"/><stop offset="0.58203" stop-color="#c6d6f1"/><stop offset="0.58203" stop-color="#c5d6f2"/><stop offset="0.58594" stop-color="#c5d6f2"/><stop offset="0.58594" stop-color="#c4d5f3"/><stop offset="0.58984" stop-color="#c4d5f3"/><stop offset="0.58984" stop-color="#c3d5f4"/><stop offset="0.59375" stop-color="#c3d5f4"/><stop offset="0.59375" stop-color="#c1d4f4"/><stop offset="0.59766" stop-color="#c1d4f4"/><stop offset="0.59766" stop-color="#c0d4f5"/><stop offset="0.60156" stop-color="#c0d4f5"/><stop offset="0.60156" stop-color="#bfd3f6"/><stop offset="0.60547" stop-color="#bfd3f6"/><stop offset="0.60547" stop-color="#bed2f6"/><stop offset="0.60938" stop-color="#bed2f6"/><stop offset="0.60938" stop-color="#bcd2f7"/><stop offset="0.61328" stop-color="#bcd2f7"/><stop offset="0.61328" stop-color="#bbd1f8"/><stop offset="0.61719" stop-color="#bbd1f8"/><stop offset="0.61719" stop-color="#bad0f8"/><stop offset="0.62109" stop-color="#bad0f8"/><stop offset="0.62109" stop-color="#b9d0f9"/><stop offset="0.62500" stop-color="#b9d0f9"/><stop offset="0.62500" stop-color="#b7cff9"/><stop offset="0.62891" stop-color="#b7cff9"/><stop offset="0.62891" stop-color="#b6cefa"/><stop offset="0.63281" stop-color="#b6cefa"/><stop offset="0.63281" stop-color="#b5cdfa"/><stop offset="0.63672" stop-color="#b5cdfa"/><stop offset="0.63672" stop-color="#b3cdfb"/><stop offset="0.64062" stop-color="#b3cdfb"/><stop offset="0.64062" stop-color="#b2ccfb"/><stop offset="0.64453" stop-color="#b2ccfb"/><stop offset="0.64453" stop-color="#b1cbfc"/><stop offset="0.64844" stop-color="#b1cbfc"/><stop offset="0.64844" stop-color="#afcafc"/><stop offset="0.65234" stop-color="#afcafc"/><stop offset="0.65234" stop-color="#aec9fc"/><stop offset="0.65625" stop-color="#aec9fc"/><stop offset="0.65625" stop-color="#adc9fd"/><stop offset="0.66016" stop-color="#adc9fd"/><stop offset="0.66016" stop-color="#abc8fd"/><stop offset="0.66406" stop-color="#abc8fd"/><stop offset="0.66406" stop-color="#aac7fd"/><stop offset="0.66797" stop-color="#aac7fd"/><stop offset="0.66797" stop-color="#a9c6fd"/><stop offset="0.67188" stop-color="#a9c6fd"/><stop offset="0.67188" stop-color="#a7c5fe"/><stop offset="0.67578" stop-color="#a7c5fe"/><stop offset="0.67578" stop-color="#a6c4fe"/><stop offset="0.67969" stop-color="#a6c4fe"/><stop offset="0.67969" stop-color="#a5c3fe"/><stop offset="0.68359" stop-color="#a5c3fe"/><stop offset="0.68359" stop-color="#a3c2fe"/><stop offset="0.68750" stop-color="#a3c2fe"/><stop offset="0.68750" stop-color="#a2c1ff"/><stop offset="0.69141" stop-color="#a2c1ff"/><stop offset="0.69141" stop-color="#a1c0ff"/><stop offset="0.69531" stop-color="#a1c0ff"/><stop offset="0.69531" stop-color="#9fbfff"/><stop offset="0.69922" stop-color="#9fbfff"/><stop offset="0.69922" stop-color="#9ebeff"/><stop offset="0.70312" stop-color="#9ebeff"/><stop offset="0.70312" stop-color="#9dbdff"/><stop offset="0.70703" stop-color="#9dbdff"/><stop offset="0.70703" stop-color="#9bbcff"/><stop offset="0.71094" stop-color="#9bbcff"/><stop offset="0.71094" stop-color="#9abbff"/><stop offset="0.71484" stop-color="#9abbff"/><stop offset="0.71484" stop-color="#98b9ff"/><stop offset="0.71875" stop-color="#98b9ff"/><stop offset="0.71875" stop-color="#97b8ff"/><stop offset="0.72266" stop-color="#97b8ff"/><stop offset="0.72266" stop-color="#96b7ff"/><stop offset="0.72656" stop-color="#96b7ff"/><stop offset="0.72656" stop-color="#94b6ff"/><stop offset="0.73047" stop-color="#94b6ff"/><stop offset="0.73047" stop-color="#93b5fe"/><stop offset="0.73438" stop-color="#93b5fe"/><stop offset="0.73438" stop-color="#92b4fe"/><stop offset="0.73828" stop-color="#92b4fe"/><stop offset="0.73828" stop-color="#90b2fe"/><stop offset="0.74219" stop-color="#90b2fe"/><stop offset="0.74219" stop-color="#8fb1fe"/><stop offset="0.74609" stop-color="#8fb1fe"/><stop offset="0.74609" stop-color="#8db0fe"/><stop offset="0.75000" stop-color="#8db0fe"/><stop offset="0.75000" stop-color="#8caffe"/><stop offset="0.75391" stop-color="#8caffe"/><stop offset="0.75391" stop-color="#8badfd"/><stop offset="0.75781" stop-color="#8badfd"/><stop offset="0.75781" stop-color="#89acfd"/><stop offset="0.76172" stop-color="#89acfd"/><stop offset="0.76172" stop-color="#88abfd"/><stop offset="0.76562" stop-color="#88abfd"/><stop offset="0.76562" stop-color="#86a9fc"/><stop offset="0.76953" stop-color="#86a9fc"/><stop offset="0.76953" stop-color="#85a8fc"/><stop offset="0.77344" stop-color="#85a8fc"/><stop offset="0.77344" stop-color="#84a7fc"/><stop offset="0.77734" stop-color="#84a7fc"/><stop offset="0.77734" stop-color="#82a6fb"/><stop offset="0.78125" stop-color="#82a6fb"/><stop offset="0.78125" stop-color="#81a4fb"/><stop offset="0.78516" stop-color="#81a4fb"/><stop offset="0.78516" stop-color="#80a3fa"/><stop offset="0.78906" stop-color="#80a3fa"/><stop offset="0.78906" stop-color="#7ea1fa"/><stop offset="0.79297" stop-color="#7ea1fa"/><stop offset="0.79297" stop-color="#7da0f9"/><stop offset="0.79688" stop-color="#7da0f9"/><stop offset="0.79688" stop-color="#7b9ff9"/><stop offset="0.80078" stop-color="#7b9ff9"/><stop offset="0.80078" stop-color="#7a9df8"/><stop offset="0.80469" stop-color="#7a9df8"/><stop offset="0.80469" stop-color="#799cf8"/><stop offset="0.80859" stop-color="#799cf8"/><stop offset="0.80859" stop-color="#779af7"/><stop offset="0.81250" stop-color="#779af7"/><stop offset="0.81250" stop-color="#7699f6"/><stop offset="0.81641" stop-color="#7699f6"/><stop offset="0.81641" stop-color="#7597f6"/><stop offset="0.82031" stop-color="#7597f6"/><stop offset="0.82031" stop-color="#7396f5"/><stop offset="0.82422" stop-color="#7396f5"/><stop offset="0.82422" stop-color="#7295f4"/><stop offset="0.82812" stop-color="#7295f4"/><stop offset="0.82812" stop-color="#7093f3"/><stop offset="0.83203" stop-color="#7093f3"/><stop offset="0.83203" stop-color="#6f92f3"/><stop offset="0.83594" stop-color="#6f92f3"/><stop offset="0.83594" stop-color="#6e90f2"/><stop offset="0.83984" stop-color="#6e90f2"/><stop offset="0.83984" stop-color="#6c8ff1"/><stop offset="0.84375" stop-color="#6c8ff1"/><stop offset="0.84375" stop-color="#6b8df0"/><stop offset="0.84766" stop-color="#6b8df0"/><stop offset="0.84766" stop-color="#6a8bef"/><stop offset="0.85156" stop-color="#6a8bef"/><stop offset="0.85156" stop-color="#688aef"/><stop offset="0.85547" stop-color="#688aef"/><stop offset="0.85547" stop-color="#6788ee"/><stop offset="0.85938" stop-color="#6788ee"/><stop offset="0.85938" stop-color="#6687ed"/><stop offset="0.86328" stop-color="#6687ed"/><stop offset="0.86328" stop-color="#6485ec"/><stop offset="0.86719" stop-color="#6485ec"/><stop offset="0.86719" stop-color="#6384eb"/><stop offset="0.87109" stop-color="#6384eb"/><stop offset="0.87109" stop-color="#6282ea"/><stop offset="0.87500" stop-color="#6282ea"/><stop offset="0.87500" stop-color="#6180e9"/><stop offset="0.87891" stop-color="#6180e9"/><stop offset="0.87891" stop-color="#5f7fe8"/><stop offset="0.88281" stop-color="#5f7fe8"/><stop offset="0.88281" stop-color="#5e7de7"/><stop offset="0.88672" stop-color="#5e7de7"/><stop offset="0.88672" stop-color="#5d7ce6"/><stop offset="0.89062" stop-color="#5d7ce6"/><stop offset="0.89062" stop-color="#5b7ae5"/><stop offset="0.89453" stop-color="#5b7ae5"/><stop offset="0.89453" stop-color="#5a78e4"/><stop offset="0.89844" stop-color="#5a78e4"/><stop offset="0.89844" stop-color="#5977e3"/><stop offset="0.90234" stop-color="#5977e3"/><stop offset="0.90234" stop-color="#5875e1"/><stop offset="0.90625" stop-color="#5875e1"/><stop offset="0.90625" stop-color="#5673e0"/><stop offset="0.91016" stop-color="#5673e0"/><stop offset="0.91016" stop-color="#5572df"/><stop offset="0.91406" stop-color="#5572df"/><stop offset="0.91406" stop-color="#5470de"/><stop offset="0.91797" stop-color="#5470de"/><stop offset="0.91797" stop-color="#536edd"/><stop offset="0.92188" stop-color="#536edd"/><stop offset="0.92188" stop-color="#516ddb"/><stop offset="0.92578" stop-color="#516ddb"/><stop offset="0.92578" stop-color="#506bda"/><stop offset="0.92969" stop-color="#506bda"/><stop offset="0.92969" stop-color="#4f69d9"/><stop offset="0.93359" stop-color="#4f69d9"/><stop offset="0.93359" stop-color="#4e68d8"/><stop offset="0.93750" stop-color="#4e68d8"/><stop offset="0.93750" stop-color="#4c66d6"/><stop offset="0.94141" stop-color="#4c66d6"/><stop offset="0.94141" stop-color="#4b64d5"/><stop offset="0.94531" stop-color="#4b64d5"/><stop offset="0.94531" stop-color="#4a63d3"/><stop offset="0.94922" stop-color="#4a63d3"/><stop offset="0.94922" stop-color="#4961d2"/><stop offset="0.95312" stop-color="#4961d2"/><stop offset="0.95312" stop-color="#485fd1"/><stop offset="0.95703" stop-color="#485fd1"/><stop offset="0.95703" stop-color="#465ecf"/><stop offset="0.96094" stop-color="#465ecf"/><stop offset="0.96094" stop-color="#455cce"/><stop offset="0.96484" stop-color="#455cce"/><stop offset="0.96484" stop-color="#445acc"/><stop offset="0.96875" stop-color="#445acc"/><stop offset="0.96875" stop-color="#4358cb"/><stop offset="0.97266" stop-color="#4358cb"/><stop offset="0.97266" stop-color="#4257c9"/><stop offset="0.97656" stop-color="#4257c9"/><stop offset="0.97656" stop-color="#4055c8"/><stop offset="0.98047" stop-color="#4055c8"/><stop offset="0.98047" stop-color="#3f53c6"/><stop offset="0.98438" stop-color="#3f53c6"/><stop offset="0.98438" stop-color="#3e51c5"/><stop offset="0.98828" stop-color="#3e51c5"/><stop offset="0.98828" stop-color="#3d50c3"/><stop offset="0.99219" stop-color="#3d50c3"/><stop offset="0.99219" stop-color="#3c4ec2"/><stop offset="0.99609" stop-color="#3c4ec2"/><stop offset="0.99609" stop-color="#3b4cc0"/><stop offset="1.00000" stop-color="#3b4cc0"/></linearGradient></defs>
<rect x="1121.90" y="10.60" width="47.55" height="947.18" fill="url(#cb)"/>
</svg>
</body></html>
